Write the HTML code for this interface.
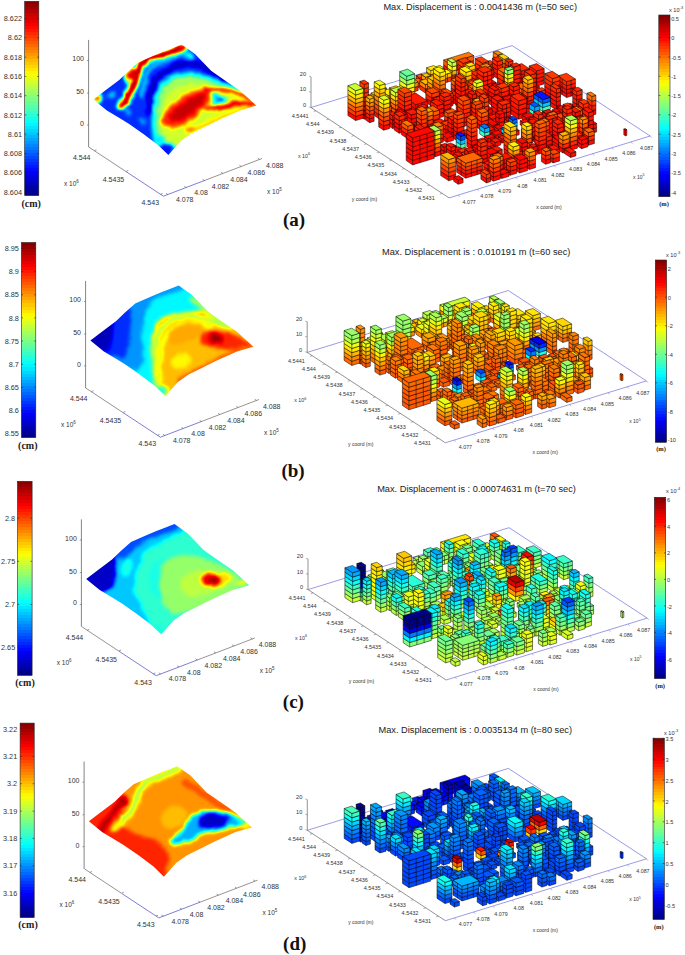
<!DOCTYPE html><html><head><meta charset="utf-8"><style>html,body{margin:0;padding:0;background:#fff;overflow:hidden}svg{display:block}</style></head><body><svg width="685" height="955" viewBox="0 0 685 955" font-family="Liberation Sans, sans-serif"><defs><linearGradient id="jg" x1="0" y1="1" x2="0" y2="0"><stop offset="0.0000" stop-color="#000087"/><stop offset="0.0156" stop-color="#000087"/><stop offset="0.0156" stop-color="#000097"/><stop offset="0.0312" stop-color="#000097"/><stop offset="0.0312" stop-color="#0000a7"/><stop offset="0.0469" stop-color="#0000a7"/><stop offset="0.0469" stop-color="#0000b7"/><stop offset="0.0625" stop-color="#0000b7"/><stop offset="0.0625" stop-color="#0000c7"/><stop offset="0.0781" stop-color="#0000c7"/><stop offset="0.0781" stop-color="#0000d7"/><stop offset="0.0938" stop-color="#0000d7"/><stop offset="0.0938" stop-color="#0000e7"/><stop offset="0.1094" stop-color="#0000e7"/><stop offset="0.1094" stop-color="#0000f7"/><stop offset="0.1250" stop-color="#0000f7"/><stop offset="0.1250" stop-color="#0008ff"/><stop offset="0.1406" stop-color="#0008ff"/><stop offset="0.1406" stop-color="#0018ff"/><stop offset="0.1562" stop-color="#0018ff"/><stop offset="0.1562" stop-color="#0028ff"/><stop offset="0.1719" stop-color="#0028ff"/><stop offset="0.1719" stop-color="#0038ff"/><stop offset="0.1875" stop-color="#0038ff"/><stop offset="0.1875" stop-color="#0048ff"/><stop offset="0.2031" stop-color="#0048ff"/><stop offset="0.2031" stop-color="#0058ff"/><stop offset="0.2188" stop-color="#0058ff"/><stop offset="0.2188" stop-color="#0068ff"/><stop offset="0.2344" stop-color="#0068ff"/><stop offset="0.2344" stop-color="#0078ff"/><stop offset="0.2500" stop-color="#0078ff"/><stop offset="0.2500" stop-color="#0087ff"/><stop offset="0.2656" stop-color="#0087ff"/><stop offset="0.2656" stop-color="#0097ff"/><stop offset="0.2812" stop-color="#0097ff"/><stop offset="0.2812" stop-color="#00a7ff"/><stop offset="0.2969" stop-color="#00a7ff"/><stop offset="0.2969" stop-color="#00b7ff"/><stop offset="0.3125" stop-color="#00b7ff"/><stop offset="0.3125" stop-color="#00c7ff"/><stop offset="0.3281" stop-color="#00c7ff"/><stop offset="0.3281" stop-color="#00d7ff"/><stop offset="0.3438" stop-color="#00d7ff"/><stop offset="0.3438" stop-color="#00e7ff"/><stop offset="0.3594" stop-color="#00e7ff"/><stop offset="0.3594" stop-color="#00f7ff"/><stop offset="0.3750" stop-color="#00f7ff"/><stop offset="0.3750" stop-color="#08fff7"/><stop offset="0.3906" stop-color="#08fff7"/><stop offset="0.3906" stop-color="#18ffe7"/><stop offset="0.4062" stop-color="#18ffe7"/><stop offset="0.4062" stop-color="#28ffd7"/><stop offset="0.4219" stop-color="#28ffd7"/><stop offset="0.4219" stop-color="#38ffc7"/><stop offset="0.4375" stop-color="#38ffc7"/><stop offset="0.4375" stop-color="#48ffb7"/><stop offset="0.4531" stop-color="#48ffb7"/><stop offset="0.4531" stop-color="#58ffa7"/><stop offset="0.4688" stop-color="#58ffa7"/><stop offset="0.4688" stop-color="#68ff97"/><stop offset="0.4844" stop-color="#68ff97"/><stop offset="0.4844" stop-color="#78ff87"/><stop offset="0.5000" stop-color="#78ff87"/><stop offset="0.5000" stop-color="#87ff78"/><stop offset="0.5156" stop-color="#87ff78"/><stop offset="0.5156" stop-color="#97ff68"/><stop offset="0.5312" stop-color="#97ff68"/><stop offset="0.5312" stop-color="#a7ff58"/><stop offset="0.5469" stop-color="#a7ff58"/><stop offset="0.5469" stop-color="#b7ff48"/><stop offset="0.5625" stop-color="#b7ff48"/><stop offset="0.5625" stop-color="#c7ff38"/><stop offset="0.5781" stop-color="#c7ff38"/><stop offset="0.5781" stop-color="#d7ff28"/><stop offset="0.5938" stop-color="#d7ff28"/><stop offset="0.5938" stop-color="#e7ff18"/><stop offset="0.6094" stop-color="#e7ff18"/><stop offset="0.6094" stop-color="#f7ff08"/><stop offset="0.6250" stop-color="#f7ff08"/><stop offset="0.6250" stop-color="#fff700"/><stop offset="0.6406" stop-color="#fff700"/><stop offset="0.6406" stop-color="#ffe700"/><stop offset="0.6562" stop-color="#ffe700"/><stop offset="0.6562" stop-color="#ffd700"/><stop offset="0.6719" stop-color="#ffd700"/><stop offset="0.6719" stop-color="#ffc700"/><stop offset="0.6875" stop-color="#ffc700"/><stop offset="0.6875" stop-color="#ffb700"/><stop offset="0.7031" stop-color="#ffb700"/><stop offset="0.7031" stop-color="#ffa700"/><stop offset="0.7188" stop-color="#ffa700"/><stop offset="0.7188" stop-color="#ff9700"/><stop offset="0.7344" stop-color="#ff9700"/><stop offset="0.7344" stop-color="#ff8700"/><stop offset="0.7500" stop-color="#ff8700"/><stop offset="0.7500" stop-color="#ff7800"/><stop offset="0.7656" stop-color="#ff7800"/><stop offset="0.7656" stop-color="#ff6800"/><stop offset="0.7812" stop-color="#ff6800"/><stop offset="0.7812" stop-color="#ff5800"/><stop offset="0.7969" stop-color="#ff5800"/><stop offset="0.7969" stop-color="#ff4800"/><stop offset="0.8125" stop-color="#ff4800"/><stop offset="0.8125" stop-color="#ff3800"/><stop offset="0.8281" stop-color="#ff3800"/><stop offset="0.8281" stop-color="#ff2800"/><stop offset="0.8438" stop-color="#ff2800"/><stop offset="0.8438" stop-color="#ff1800"/><stop offset="0.8594" stop-color="#ff1800"/><stop offset="0.8594" stop-color="#ff0800"/><stop offset="0.8750" stop-color="#ff0800"/><stop offset="0.8750" stop-color="#f70000"/><stop offset="0.8906" stop-color="#f70000"/><stop offset="0.8906" stop-color="#e70000"/><stop offset="0.9062" stop-color="#e70000"/><stop offset="0.9062" stop-color="#d70000"/><stop offset="0.9219" stop-color="#d70000"/><stop offset="0.9219" stop-color="#c70000"/><stop offset="0.9375" stop-color="#c70000"/><stop offset="0.9375" stop-color="#b70000"/><stop offset="0.9531" stop-color="#b70000"/><stop offset="0.9531" stop-color="#a70000"/><stop offset="0.9688" stop-color="#a70000"/><stop offset="0.9688" stop-color="#970000"/><stop offset="0.9844" stop-color="#970000"/><stop offset="0.9844" stop-color="#870000"/><stop offset="1.0000" stop-color="#870000"/></linearGradient><filter id="jetf" x="-5%" y="-5%" width="110%" height="110%" color-interpolation-filters="sRGB"><feGaussianBlur in="SourceGraphic" stdDeviation="1.6" result="b"/><feTurbulence type="fractalNoise" baseFrequency="0.07" numOctaves="2" seed="3" result="n"/><feDisplacementMap in="b" in2="n" scale="6" xChannelSelector="R" yChannelSelector="G" result="d"/><feGaussianBlur in="d" stdDeviation="0.9"/><feComponentTransfer><feFuncR type="table" tableValues="0 0 0 0 0.5 1 1 1 0.5"/><feFuncG type="table" tableValues="0 0 0.5 1 1 1 0.5 0 0"/><feFuncB type="table" tableValues="0.5 1 1 1 0.5 0 0 0 0"/></feComponentTransfer></filter><g id="city" stroke="#000" stroke-width="0.5" stroke-linejoin="round"><path d="M176.9 -39.9l-4.7 1.4 -6.1 -4v-4.2l6.1 4 4.7 -1.4z" style="fill:var(--k0)"/><path d="M172.2 -42.7l4.7 -1.4 -6.1 -4 -4.7 1.4z" style="fill:var(--k1)"/><path d="M172.2 -38.5v-4.2" fill="none"/><path d="M191.4 -36.9l-4.6 1.4 -4.6 -3v-4.2l4.6 3 4.6 -1.4z" style="fill:var(--k2)"/><path d="M191.4 -41.1l-4.6 1.4 -4.6 -3v-4.2l4.6 3 4.6 -1.4z" style="fill:var(--k3)"/><path d="M191.4 -45.3l-4.6 1.4 -4.6 -3v-4.2l4.6 3 4.6 -1.4z" style="fill:var(--k4)"/><path d="M191.4 -49.5l-4.6 1.4 -4.6 -3v-4.2l4.6 3 4.6 -1.4z" style="fill:var(--k5)"/><path d="M186.9 -52.4l4.6 -1.4 -4.6 -3 -4.6 1.4z" style="fill:var(--k6)"/><path d="M186.9 -35.5v-16.9" fill="none"/><path d="M162.7 -42l-25 7.7 -5 -3.3v-5l5 3.3 25 -7.7z" style="fill:var(--k7)"/><path d="M162.7 -47l-25 7.7 -5 -3.3v-5l5 3.3 25 -7.7z" style="fill:var(--k8)"/><path d="M137.7 -44.3l25 -7.7 -5 -3.3 -25 7.7z" style="fill:var(--k9)"/><path d="M137.7 -34.3v-10M144 -36.2v-10M150.2 -38.1v-10M156.5 -40.1v-10" fill="none"/><path d="M183.8 -35.7l-5.2 1.6 -4.6 -3v-4.2l4.6 3 5.2 -1.6z" style="fill:var(--k10)"/><path d="M183.8 -39.9l-5.2 1.6 -4.6 -3v-4.2l4.6 3 5.2 -1.6z" style="fill:var(--k11)"/><path d="M178.6 -42.5l5.2 -1.6 -4.6 -3 -5.2 1.6z" style="fill:var(--k12)"/><path d="M178.6 -34.1v-8.4" fill="none"/><path d="M197.9 -32.8l-4.8 1.5 -5.8 -3.8v-4.2l5.8 3.8 4.8 -1.5z" style="fill:var(--k13)"/><path d="M197.9 -37l-4.8 1.5 -5.8 -3.8v-4.2l5.8 3.8 4.8 -1.5z" style="fill:var(--k14)"/><path d="M197.9 -41.2l-4.8 1.5 -5.8 -3.8v-4.2l5.8 3.8 4.8 -1.5z" style="fill:var(--k15)"/><path d="M197.9 -45.4l-4.8 1.5 -5.8 -3.8v-4.2l5.8 3.8 4.8 -1.5z" style="fill:var(--k16)"/><path d="M193.1 -48.2l4.8 -1.5 -5.8 -3.8 -4.8 1.5z" style="fill:var(--k17)"/><path d="M193.1 -31.3v-16.9" fill="none"/><path d="M177.6 -33.4l-6.2 1.9 -7.2 -4.7v-4.2l7.2 4.7 6.2 -1.9z" style="fill:var(--k18)"/><path d="M177.6 -37.7l-6.2 1.9 -7.2 -4.7v-4.2l7.2 4.7 6.2 -1.9z" style="fill:var(--k19)"/><path d="M177.6 -41.9l-6.2 1.9 -7.2 -4.7v-4.2l7.2 4.7 6.2 -1.9z" style="fill:var(--k20)"/><path d="M171.4 -44.2l6.2 -1.9 -7.2 -4.7 -6.2 1.9z" style="fill:var(--k21)"/><path d="M171.4 -31.5v-12.7" fill="none"/><path d="M191.6 -30.6l-5.3 1.6 -5 -3.3v-4.2l5 3.3 5.3 -1.6z" style="fill:var(--k22)"/><path d="M191.6 -34.9l-5.3 1.6 -5 -3.3v-4.2l5 3.3 5.3 -1.6z" style="fill:var(--k23)"/><path d="M191.6 -39.1l-5.3 1.6 -5 -3.3v-4.2l5 3.3 5.3 -1.6z" style="fill:var(--k24)"/><path d="M191.6 -43.3l-5.3 1.6 -5 -3.3v-4.2l5 3.3 5.3 -1.6z" style="fill:var(--k25)"/><path d="M186.3 -45.9l5.3 -1.6 -5 -3.3 -5.3 1.6z" style="fill:var(--k26)"/><path d="M186.3 -29v-16.9" fill="none"/><path d="M202.1 -29.9l-4.7 1.4 -3 -2v-4.2l3 2 4.7 -1.4z" style="fill:var(--k27)"/><path d="M202.1 -34.2l-4.7 1.4 -3 -2v-4.2l3 2 4.7 -1.4z" style="fill:var(--k28)"/><path d="M202.1 -38.4l-4.7 1.4 -3 -2v-4.2l3 2 4.7 -1.4z" style="fill:var(--k29)"/><path d="M202.1 -42.6l-4.7 1.4 -3 -2v-4.2l3 2 4.7 -1.4z" style="fill:var(--k30)"/><path d="M197.4 -45.4l4.7 -1.4 -3 -2 -4.7 1.4z" style="fill:var(--k31)"/><path d="M197.4 -28.5v-16.9" fill="none"/><path d="M182.9 -29.6l-5.4 1.7 -4.4 -2.9v-4.2l4.4 2.9 5.4 -1.7z" style="fill:var(--k32)"/><path d="M182.9 -33.8l-5.4 1.7 -4.4 -2.9v-4.2l4.4 2.9 5.4 -1.7z" style="fill:var(--k33)"/><path d="M177.5 -36.4l5.4 -1.7 -4.4 -2.9 -5.4 1.7z" style="fill:var(--k34)"/><path d="M177.5 -27.9v-8.4" fill="none"/><path d="M233.2 -23.6l-7.5 2.3 -7.5 -4.9v-3.8l7.5 4.9 7.5 -2.3z" style="fill:var(--k35)"/><path d="M233.2 -27.5l-7.5 2.3 -7.5 -4.9v-3.8l7.5 4.9 7.5 -2.3z" style="fill:var(--k36)"/><path d="M233.2 -31.3l-7.5 2.3 -7.5 -4.9v-3.8l7.5 4.9 7.5 -2.3z" style="fill:var(--k37)"/><path d="M233.2 -35.1l-7.5 2.3 -7.5 -4.9v-3.8l7.5 4.9 7.5 -2.3z" style="fill:var(--k38)"/><path d="M225.7 -36.7l7.5 -2.3 -7.5 -4.9 -7.5 2.3z" style="fill:var(--k39)"/><path d="M225.7 -21.3v-15.4" fill="none"/><path d="M197.6 -27.1l-6.1 1.9 -3.4 -2.2v-4.2l3.4 2.2 6.1 -1.9z" style="fill:var(--k40)"/><path d="M197.6 -31.3l-6.1 1.9 -3.4 -2.2v-4.2l3.4 2.2 6.1 -1.9z" style="fill:var(--k41)"/><path d="M191.6 -33.6l6.1 -1.9 -3.4 -2.2 -6.1 1.9z" style="fill:var(--k42)"/><path d="M191.6 -25.2v-8.4" fill="none"/><path d="M159.5 -29.5l-7.4 2.3 -5.3 -3.5v-4.2l5.3 3.5 7.4 -2.3z" style="fill:var(--k43)"/><path d="M159.5 -33.7l-7.4 2.3 -5.3 -3.5v-4.2l5.3 3.5 7.4 -2.3z" style="fill:var(--k44)"/><path d="M159.5 -37.9l-7.4 2.3 -5.3 -3.5v-4.2l5.3 3.5 7.4 -2.3z" style="fill:var(--k45)"/><path d="M159.5 -42.1l-7.4 2.3 -5.3 -3.5v-4.2l5.3 3.5 7.4 -2.3z" style="fill:var(--k46)"/><path d="M152.1 -44.1l7.4 -2.3 -5.3 -3.5 -7.4 2.3z" style="fill:var(--k47)"/><path d="M152.1 -27.2v-16.9" fill="none"/><path d="M218.2 -23.6l-7.5 2.3 -7.5 -4.9v-3.8l7.5 4.9 7.5 -2.3z" style="fill:var(--k48)"/><path d="M218.2 -27.5l-7.5 2.3 -7.5 -4.9v-3.8l7.5 4.9 7.5 -2.3z" style="fill:var(--k49)"/><path d="M218.2 -31.3l-7.5 2.3 -7.5 -4.9v-3.8l7.5 4.9 7.5 -2.3z" style="fill:var(--k50)"/><path d="M218.2 -35.1l-7.5 2.3 -7.5 -4.9v-3.8l7.5 4.9 7.5 -2.3z" style="fill:var(--k51)"/><path d="M210.7 -36.7l7.5 -2.3 -7.5 -4.9 -7.5 2.3z" style="fill:var(--k52)"/><path d="M210.7 -21.3v-15.4" fill="none"/><path d="M145.5 -29.3l-4.3 1.3 -4.8 -3.1v-4.2l4.8 3.1 4.3 -1.3z" style="fill:var(--k53)"/><path d="M145.5 -33.5l-4.3 1.3 -4.8 -3.1v-4.2l4.8 3.1 4.3 -1.3z" style="fill:var(--k54)"/><path d="M145.5 -37.7l-4.3 1.3 -4.8 -3.1v-4.2l4.8 3.1 4.3 -1.3z" style="fill:var(--k55)"/><path d="M145.5 -41.9l-4.3 1.3 -4.8 -3.1v-4.2l4.8 3.1 4.3 -1.3z" style="fill:var(--k56)"/><path d="M141.2 -44.8l4.3 -1.3 -4.8 -3.1 -4.3 1.3z" style="fill:var(--k57)"/><path d="M141.2 -27.9v-16.9" fill="none"/><path d="M133.1 -30.9l-7.1 2.2 -4.2 -2.8v-4.2l4.2 2.8 7.1 -2.2z" style="fill:var(--k58)"/><path d="M133.1 -35.1l-7.1 2.2 -4.2 -2.8v-4.2l4.2 2.8 7.1 -2.2z" style="fill:var(--k59)"/><path d="M126 -37.1l7.1 -2.2 -4.2 -2.8 -7.1 2.2z" style="fill:var(--k60)"/><path d="M126 -28.7v-8.4" fill="none"/><path d="M179.9 -24.6l-7 2.1 -4.1 -2.7v-4.2l4.1 2.7 7 -2.1z" style="fill:var(--k61)"/><path d="M179.9 -28.8l-7 2.1 -4.1 -2.7v-4.2l4.1 2.7 7 -2.1z" style="fill:var(--k62)"/><path d="M179.9 -33l-7 2.1 -4.1 -2.7v-4.2l4.1 2.7 7 -2.1z" style="fill:var(--k63)"/><path d="M179.9 -37.3l-7 2.1 -4.1 -2.7v-4.2l4.1 2.7 7 -2.1z" style="fill:var(--k64)"/><path d="M172.9 -39.3l7 -2.1 -4.1 -2.7 -7 2.1z" style="fill:var(--k65)"/><path d="M172.9 -22.4v-16.9" fill="none"/><path d="M164.3 -25.8l-6.3 1.9 -3.9 -2.6v-4.2l3.9 2.6 6.3 -1.9z" style="fill:var(--k66)"/><path d="M164.3 -30l-6.3 1.9 -3.9 -2.6v-4.2l3.9 2.6 6.3 -1.9z" style="fill:var(--k67)"/><path d="M164.3 -34.2l-6.3 1.9 -3.9 -2.6v-4.2l3.9 2.6 6.3 -1.9z" style="fill:var(--k68)"/><path d="M164.3 -38.4l-6.3 1.9 -3.9 -2.6v-4.2l3.9 2.6 6.3 -1.9z" style="fill:var(--k69)"/><path d="M158.1 -40.7l6.3 -1.9 -3.9 -2.6 -6.3 1.9z" style="fill:var(--k70)"/><path d="M158.1 -23.8v-16.9" fill="none"/><path d="M140.5 -26.6l-8.2 2.5 -4.8 -3.1v-4.2l4.8 3.1 8.2 -2.5z" style="fill:var(--k71)"/><path d="M140.5 -30.8l-8.2 2.5 -4.8 -3.1v-4.2l4.8 3.1 8.2 -2.5z" style="fill:var(--k72)"/><path d="M132.3 -32.5l8.2 -2.5 -4.8 -3.1 -8.2 2.5z" style="fill:var(--k73)"/><path d="M132.3 -24.1v-8.4M136.4 -25.3v-8.4" fill="none"/><path d="M126.9 -26.5l-7.1 2.2 -4.2 -2.8v-4.2l4.2 2.8 7.1 -2.2z" style="fill:var(--k74)"/><path d="M126.9 -30.7l-7.1 2.2 -4.2 -2.8v-4.2l4.2 2.8 7.1 -2.2z" style="fill:var(--k75)"/><path d="M126.9 -35l-7.1 2.2 -4.2 -2.8v-4.2l4.2 2.8 7.1 -2.2z" style="fill:var(--k76)"/><path d="M119.8 -37l7.1 -2.2 -4.2 -2.8 -7.1 2.2z" style="fill:var(--k77)"/><path d="M119.8 -24.3v-12.7" fill="none"/><path d="M198.5 -19.7l-6.2 1.9 -5.8 -3.8v-4.2l5.8 3.8 6.2 -1.9z" style="fill:var(--k78)"/><path d="M198.5 -24l-6.2 1.9 -5.8 -3.8v-4.2l5.8 3.8 6.2 -1.9z" style="fill:var(--k79)"/><path d="M198.5 -28.2l-6.2 1.9 -5.8 -3.8v-4.2l5.8 3.8 6.2 -1.9z" style="fill:var(--k80)"/><path d="M198.5 -32.4l-6.2 1.9 -5.8 -3.8v-4.2l5.8 3.8 6.2 -1.9z" style="fill:var(--k81)"/><path d="M192.3 -34.7l6.2 -1.9 -5.8 -3.8 -6.2 1.9z" style="fill:var(--k82)"/><path d="M192.3 -17.8v-16.9" fill="none"/><path d="M114.1 -27.1l-5.5 1.7 -3.5 -2.3v-4.2l3.5 2.3 5.5 -1.7z" style="fill:var(--k83)"/><path d="M108.6 -29.7l5.5 -1.7 -3.5 -2.3 -5.5 1.7z" style="fill:var(--k84)"/><path d="M108.6 -25.4v-4.2" fill="none"/><path d="M185.1 -20.9l-6.4 2 -4.5 -2.9v-4.2l4.5 2.9 6.4 -2z" style="fill:var(--k85)"/><path d="M178.7 -23.1l6.4 -2 -4.5 -2.9 -6.4 2z" style="fill:var(--k86)"/><path d="M178.7 -18.9v-4.2" fill="none"/><path d="M171.9 -21.1l-6.9 2.1 -5.5 -3.6v-4.2l5.5 3.6 6.9 -2.1z" style="fill:var(--k87)"/><path d="M171.9 -25.3l-6.9 2.1 -5.5 -3.6v-4.2l5.5 3.6 6.9 -2.1z" style="fill:var(--k88)"/><path d="M171.9 -29.5l-6.9 2.1 -5.5 -3.6v-4.2l5.5 3.6 6.9 -2.1z" style="fill:var(--k89)"/><path d="M165 -31.6l6.9 -2.1 -5.5 -3.6 -6.9 2.1z" style="fill:var(--k90)"/><path d="M165 -19v-12.7" fill="none"/><path d="M264.4 -12.6l-8.8 2.7 -8.9 -5.8v-4l8.9 5.8 8.8 -2.7z" style="fill:var(--k91)"/><path d="M264.4 -16.6l-8.8 2.7 -8.9 -5.8v-4l8.9 5.8 8.8 -2.7z" style="fill:var(--k92)"/><path d="M264.4 -20.5l-8.8 2.7 -8.9 -5.8v-4l8.9 5.8 8.8 -2.7z" style="fill:var(--k93)"/><path d="M264.4 -24.5l-8.8 2.7 -8.9 -5.8v-4l8.9 5.8 8.8 -2.7z" style="fill:var(--k94)"/><path d="M255.6 -25.8l8.8 -2.7 -8.9 -5.8 -8.8 2.7z" style="fill:var(--k95)"/><path d="M255.6 -9.9v-15.9M260 -11.3v-15.9M251.1 -12.8v-15.9" fill="none"/><path d="M224 -16.2l-5.9 1.8 -5.9 -3.9v-4.2l5.9 3.9 5.9 -1.8z" style="fill:var(--k96)"/><path d="M224 -20.4l-5.9 1.8 -5.9 -3.9v-4.2l5.9 3.9 5.9 -1.8z" style="fill:var(--k97)"/><path d="M224 -24.7l-5.9 1.8 -5.9 -3.9v-4.2l5.9 3.9 5.9 -1.8z" style="fill:var(--k98)"/><path d="M218.1 -27.1l5.9 -1.8 -5.9 -3.9 -5.9 1.8z" style="fill:var(--k99)"/><path d="M218.1 -14.4v-12.7" fill="none"/><path d="M160.8 -20l-5.8 1.8 -6.4 -4.2v-4.2l6.4 4.2 5.8 -1.8z" style="fill:var(--k100)"/><path d="M160.8 -24.2l-5.8 1.8 -6.4 -4.2v-4.2l6.4 4.2 5.8 -1.8z" style="fill:var(--k101)"/><path d="M160.8 -28.4l-5.8 1.8 -6.4 -4.2v-4.2l6.4 4.2 5.8 -1.8z" style="fill:var(--k102)"/><path d="M160.8 -32.6l-5.8 1.8 -6.4 -4.2v-4.2l6.4 4.2 5.8 -1.8z" style="fill:var(--k103)"/><path d="M155 -35.1l5.8 -1.8 -6.4 -4.2 -5.8 1.8z" style="fill:var(--k104)"/><path d="M155 -18.2v-16.9" fill="none"/><path d="M119.4 -23.4l-4.9 1.5 -4 -2.6v-4.2l4 2.6 4.9 -1.5z" style="fill:var(--k105)"/><path d="M119.4 -27.6l-4.9 1.5 -4 -2.6v-4.2l4 2.6 4.9 -1.5z" style="fill:var(--k106)"/><path d="M114.6 -30.3l4.9 -1.5 -4 -2.6 -4.9 1.5z" style="fill:var(--k107)"/><path d="M114.6 -21.9v-8.4" fill="none"/><path d="M203.7 -15.8l-5 1.5 -4.2 -2.7v-4.2l4.2 2.7 5 -1.5z" style="fill:var(--k108)"/><path d="M203.7 -20l-5 1.5 -4.2 -2.7v-4.2l4.2 2.7 5 -1.5z" style="fill:var(--k109)"/><path d="M198.7 -22.7l5 -1.5 -4.2 -2.7 -5 1.5z" style="fill:var(--k110)"/><path d="M198.7 -14.3v-8.4" fill="none"/><path d="M192.4 -15.6l-5.3 1.6 -6.9 -4.5v-4.2l6.9 4.5 5.3 -1.6z" style="fill:var(--k111)"/><path d="M187.1 -18.2l5.3 -1.6 -6.9 -4.5 -5.3 1.6z" style="fill:var(--k112)"/><path d="M187.1 -14v-4.2" fill="none"/><path d="M216.6 -13.9l-4.5 1.4 -4.5 -2.9v-4.2l4.5 2.9 4.5 -1.4z" style="fill:var(--k113)"/><path d="M212 -16.8l4.5 -1.4 -4.5 -2.9 -4.5 1.4z" style="fill:var(--k114)"/><path d="M212 -12.5v-4.2" fill="none"/><path d="M228.4 -12.5l-4.1 1.2 -4 -2.6v-4.2l4 2.6 4.1 -1.2z" style="fill:var(--k115)"/><path d="M228.4 -16.7l-4.1 1.2 -4 -2.6v-4.2l4 2.6 4.1 -1.2z" style="fill:var(--k116)"/><path d="M224.3 -19.7l4.1 -1.2 -4 -2.6 -4.1 1.2z" style="fill:var(--k117)"/><path d="M224.3 -11.2v-8.4" fill="none"/><path d="M249 -10.1l-7.6 2.3 -7.7 -5v-4.2l7.7 5 7.6 -2.3z" style="fill:var(--k118)"/><path d="M249 -14.4l-7.6 2.3 -7.7 -5v-4.2l7.7 5 7.6 -2.3z" style="fill:var(--k119)"/><path d="M249 -18.6l-7.6 2.3 -7.7 -5v-4.2l7.7 5 7.6 -2.3z" style="fill:var(--k120)"/><path d="M249 -22.8l-7.6 2.3 -7.7 -5v-4.2l7.7 5 7.6 -2.3z" style="fill:var(--k121)"/><path d="M249 -27l-7.6 2.3 -7.7 -5v-4.2l7.7 5 7.6 -2.3z" style="fill:var(--k122)"/><path d="M241.4 -28.9l7.6 -2.3 -7.7 -5 -7.6 2.3z" style="fill:var(--k123)"/><path d="M241.4 -7.8v-21.1" fill="none"/><path d="M180.8 -16l-8.4 2.6 -6.3 -4.2v-4.2l6.3 4.2 8.4 -2.6z" style="fill:var(--k124)"/><path d="M180.8 -20.2l-8.4 2.6 -6.3 -4.2v-4.2l6.3 4.2 8.4 -2.6z" style="fill:var(--k125)"/><path d="M180.8 -24.4l-8.4 2.6 -6.3 -4.2v-4.2l6.3 4.2 8.4 -2.6z" style="fill:var(--k126)"/><path d="M180.8 -28.6l-8.4 2.6 -6.3 -4.2v-4.2l6.3 4.2 8.4 -2.6z" style="fill:var(--k127)"/><path d="M180.8 -32.9l-8.4 2.6 -6.3 -4.2v-4.2l6.3 4.2 8.4 -2.6z" style="fill:var(--k128)"/><path d="M172.4 -34.5l8.4 -2.6 -6.3 -4.2 -8.4 2.6z" style="fill:var(--k129)"/><path d="M172.4 -13.4v-21.1M176.6 -14.7v-21.1" fill="none"/><path d="M112.6 -21.6l-6.6 2 -5.4 -3.5v-4.2l5.4 3.5 6.6 -2z" style="fill:var(--k130)"/><path d="M106 -23.8l6.6 -2 -5.4 -3.5 -6.6 2z" style="fill:var(--k131)"/><path d="M106 -19.6v-4.2" fill="none"/><path d="M166.5 -15.9l-5.2 1.6 -4.5 -3v-4.2l4.5 3 5.2 -1.6z" style="fill:var(--k132)"/><path d="M166.5 -20.2l-5.2 1.6 -4.5 -3v-4.2l4.5 3 5.2 -1.6z" style="fill:var(--k133)"/><path d="M161.3 -22.8l5.2 -1.6 -4.5 -3 -5.2 1.6z" style="fill:var(--k134)"/><path d="M161.3 -14.3v-8.4" fill="none"/><path d="M209.2 -12.8l-6.2 1.9 -3.6 -2.4v-4.2l3.6 2.4 6.2 -1.9z" style="fill:var(--k135)"/><path d="M209.2 -17l-6.2 1.9 -3.6 -2.4v-4.2l3.6 2.4 6.2 -1.9z" style="fill:var(--k136)"/><path d="M209.2 -21.2l-6.2 1.9 -3.6 -2.4v-4.2l3.6 2.4 6.2 -1.9z" style="fill:var(--k137)"/><path d="M209.2 -25.5l-6.2 1.9 -3.6 -2.4v-4.2l3.6 2.4 6.2 -1.9z" style="fill:var(--k138)"/><path d="M209.2 -29.7l-6.2 1.9 -3.6 -2.4v-4.2l3.6 2.4 6.2 -1.9z" style="fill:var(--k139)"/><path d="M209.2 -33.9l-6.2 1.9 -3.6 -2.4v-4.2l3.6 2.4 6.2 -1.9z" style="fill:var(--k140)"/><path d="M209.2 -38.1l-6.2 1.9 -3.6 -2.4v-4.2l3.6 2.4 6.2 -1.9z" style="fill:var(--k141)"/><path d="M202.9 -40.4l6.2 -1.9 -3.6 -2.4 -6.2 1.9z" style="fill:var(--k142)"/><path d="M202.9 -10.9v-29.5" fill="none"/><path d="M155 -16.1l-6.2 1.9 -5.9 -3.9v-4.2l5.9 3.9 6.2 -1.9z" style="fill:var(--k143)"/><path d="M155 -20.4l-6.2 1.9 -5.9 -3.9v-4.2l5.9 3.9 6.2 -1.9z" style="fill:var(--k144)"/><path d="M155 -24.6l-6.2 1.9 -5.9 -3.9v-4.2l5.9 3.9 6.2 -1.9z" style="fill:var(--k145)"/><path d="M148.8 -26.9l6.2 -1.9 -5.9 -3.9 -6.2 1.9z" style="fill:var(--k146)"/><path d="M148.8 -14.2v-12.7" fill="none"/><path d="M198.6 -12.2l-6.6 2 -4.6 -3v-4.2l4.6 3 6.6 -2z" style="fill:var(--k147)"/><path d="M198.6 -16.4l-6.6 2 -4.6 -3v-4.2l4.6 3 6.6 -2z" style="fill:var(--k148)"/><path d="M192 -18.6l6.6 -2 -4.6 -3 -6.6 2z" style="fill:var(--k149)"/><path d="M192 -10.2v-8.4" fill="none"/><path d="M234.3 -9.3l-5.5 1.7 -3.3 -2.2v-4.2l3.3 2.2 5.5 -1.7z" style="fill:var(--k150)"/><path d="M234.3 -13.5l-5.5 1.7 -3.3 -2.2v-4.2l3.3 2.2 5.5 -1.7z" style="fill:var(--k151)"/><path d="M228.8 -16l5.5 -1.7 -3.3 -2.2 -5.5 1.7z" style="fill:var(--k152)"/><path d="M228.8 -7.6v-8.4" fill="none"/><path d="M225.2 -8.8l-5.8 1.8 -6 -3.9v-4.2l6 3.9 5.8 -1.8z" style="fill:var(--k153)"/><path d="M225.2 -13.1l-5.8 1.8 -6 -3.9v-4.2l6 3.9 5.8 -1.8z" style="fill:var(--k154)"/><path d="M225.2 -17.3l-5.8 1.8 -6 -3.9v-4.2l6 3.9 5.8 -1.8z" style="fill:var(--k155)"/><path d="M225.2 -21.5l-5.8 1.8 -6 -3.9v-4.2l6 3.9 5.8 -1.8z" style="fill:var(--k156)"/><path d="M225.2 -25.7l-5.8 1.8 -6 -3.9v-4.2l6 3.9 5.8 -1.8z" style="fill:var(--k157)"/><path d="M225.2 -29.9l-5.8 1.8 -6 -3.9v-4.2l6 3.9 5.8 -1.8z" style="fill:var(--k158)"/><path d="M219.5 -32.4l5.8 -1.8 -6 -3.9 -5.8 1.8z" style="fill:var(--k159)"/><path d="M219.5 -7.1v-25.3" fill="none"/><path d="M186.4 -12.2l-8.2 2.5 -3.7 -2.4v-4.2l3.7 2.4 8.2 -2.5z" style="fill:var(--k160)"/><path d="M178.2 -13.9l8.2 -2.5 -3.7 -2.4 -8.2 2.5z" style="fill:var(--k161)"/><path d="M178.2 -9.7v-4.2M182.3 -11v-4.2" fill="none"/><path d="M120.3 -16.2l-5.8 1.8 -5.8 -3.8v-4.2l5.8 3.8 5.8 -1.8z" style="fill:var(--k162)"/><path d="M120.3 -20.4l-5.8 1.8 -5.8 -3.8v-4.2l5.8 3.8 5.8 -1.8z" style="fill:var(--k163)"/><path d="M114.5 -22.9l5.8 -1.8 -5.8 -3.8 -5.8 1.8z" style="fill:var(--k164)"/><path d="M114.5 -14.4v-8.4" fill="none"/><path d="M217.1 -7.6l-6.2 1.9 -6.6 -4.3v-4.2l6.6 4.3 6.2 -1.9z" style="fill:var(--k165)"/><path d="M217.1 -11.8l-6.2 1.9 -6.6 -4.3v-4.2l6.6 4.3 6.2 -1.9z" style="fill:var(--k166)"/><path d="M217.1 -16l-6.2 1.9 -6.6 -4.3v-4.2l6.6 4.3 6.2 -1.9z" style="fill:var(--k167)"/><path d="M210.9 -18.4l6.2 -1.9 -6.6 -4.3 -6.2 1.9z" style="fill:var(--k168)"/><path d="M210.9 -5.7v-12.7" fill="none"/><path d="M107.2 -17l-7.1 2.2 -5.7 -3.7v-4.2l5.7 3.7 7.1 -2.2z" style="fill:var(--k169)"/><path d="M107.2 -21.3l-7.1 2.2 -5.7 -3.7v-4.2l5.7 3.7 7.1 -2.2z" style="fill:var(--k170)"/><path d="M100.1 -23.3l7.1 -2.2 -5.7 -3.7 -7.1 2.2z" style="fill:var(--k171)"/><path d="M100.1 -14.9v-8.4" fill="none"/><path d="M202.6 -9.2l-5.9 1.8 -3.2 -2.1v-4.2l3.2 2.1 5.9 -1.8z" style="fill:var(--k172)"/><path d="M202.6 -13.4l-5.9 1.8 -3.2 -2.1v-4.2l3.2 2.1 5.9 -1.8z" style="fill:var(--k173)"/><path d="M202.6 -17.6l-5.9 1.8 -3.2 -2.1v-4.2l3.2 2.1 5.9 -1.8z" style="fill:var(--k174)"/><path d="M202.6 -21.8l-5.9 1.8 -3.2 -2.1v-4.2l3.2 2.1 5.9 -1.8z" style="fill:var(--k175)"/><path d="M202.6 -26.1l-5.9 1.8 -3.2 -2.1v-4.2l3.2 2.1 5.9 -1.8z" style="fill:var(--k176)"/><path d="M202.6 -30.3l-5.9 1.8 -3.2 -2.1v-4.2l3.2 2.1 5.9 -1.8z" style="fill:var(--k177)"/><path d="M202.6 -34.5l-5.9 1.8 -3.2 -2.1v-4.2l3.2 2.1 5.9 -1.8z" style="fill:var(--k178)"/><path d="M196.8 -36.9l5.9 -1.8 -3.2 -2.1 -5.9 1.8z" style="fill:var(--k179)"/><path d="M196.8 -7.4v-29.5" fill="none"/><path d="M162.6 -12l-8 2.5 -5 -3.3v-4.2l5 3.3 8 -2.5z" style="fill:var(--k180)"/><path d="M154.6 -13.7l8 -2.5 -5 -3.3 -8 2.5z" style="fill:var(--k181)"/><path d="M154.6 -9.5v-4.2M158.6 -10.8v-4.2" fill="none"/><path d="M242.9 -3.5l-5.3 1.6 -7.2 -4.7v-4.2l7.2 4.7 5.3 -1.6z" style="fill:var(--k182)"/><path d="M237.6 -6.1l5.3 -1.6 -7.2 -4.7 -5.3 1.6z" style="fill:var(--k183)"/><path d="M237.6 -1.9v-4.2" fill="none"/><path d="M150.5 -10.8l-6.6 2 -3.8 -2.5v-4.2l3.8 2.5 6.6 -2z" style="fill:var(--k184)"/><path d="M150.5 -15l-6.6 2 -3.8 -2.5v-4.2l3.8 2.5 6.6 -2z" style="fill:var(--k185)"/><path d="M150.5 -19.3l-6.6 2 -3.8 -2.5v-4.2l3.8 2.5 6.6 -2z" style="fill:var(--k186)"/><path d="M150.5 -23.5l-6.6 2 -3.8 -2.5v-4.2l3.8 2.5 6.6 -2z" style="fill:var(--k187)"/><path d="M143.9 -25.7l6.6 -2 -3.8 -2.5 -6.6 2z" style="fill:var(--k188)"/><path d="M143.9 -8.8v-16.9" fill="none"/><path d="M208.4 -5.5l-6.1 1.9 -4.1 -2.7v-4.2l4.1 2.7 6.1 -1.9z" style="fill:var(--k189)"/><path d="M208.4 -9.7l-6.1 1.9 -4.1 -2.7v-4.2l4.1 2.7 6.1 -1.9z" style="fill:var(--k190)"/><path d="M208.4 -14l-6.1 1.9 -4.1 -2.7v-4.2l4.1 2.7 6.1 -1.9z" style="fill:var(--k191)"/><path d="M208.4 -18.2l-6.1 1.9 -4.1 -2.7v-4.2l4.1 2.7 6.1 -1.9z" style="fill:var(--k192)"/><path d="M202.3 -20.5l6.1 -1.9 -4.1 -2.7 -6.1 1.9z" style="fill:var(--k193)"/><path d="M202.3 -3.6v-16.9" fill="none"/><path d="M222.6 -3.8l-5.8 1.8 -4.8 -3.2v-4.2l4.8 3.2 5.8 -1.8z" style="fill:var(--k194)"/><path d="M222.6 -8l-5.8 1.8 -4.8 -3.2v-4.2l4.8 3.2 5.8 -1.8z" style="fill:var(--k195)"/><path d="M222.6 -12.2l-5.8 1.8 -4.8 -3.2v-4.2l4.8 3.2 5.8 -1.8z" style="fill:var(--k196)"/><path d="M222.6 -16.5l-5.8 1.8 -4.8 -3.2v-4.2l4.8 3.2 5.8 -1.8z" style="fill:var(--k197)"/><path d="M222.6 -20.7l-5.8 1.8 -4.8 -3.2v-4.2l4.8 3.2 5.8 -1.8z" style="fill:var(--k198)"/><path d="M222.6 -24.9l-5.8 1.8 -4.8 -3.2v-4.2l4.8 3.2 5.8 -1.8z" style="fill:var(--k199)"/><path d="M216.8 -27.3l5.8 -1.8 -4.8 -3.2 -5.8 1.8z" style="fill:var(--k200)"/><path d="M216.8 -2v-25.3" fill="none"/><path d="M126.9 -11.7l-5.4 1.7 -4.9 -3.2v-4.2l4.9 3.2 5.4 -1.7z" style="fill:var(--k201)"/><path d="M126.9 -15.9l-5.4 1.7 -4.9 -3.2v-4.2l4.9 3.2 5.4 -1.7z" style="fill:var(--k202)"/><path d="M126.9 -20.2l-5.4 1.7 -4.9 -3.2v-4.2l4.9 3.2 5.4 -1.7z" style="fill:var(--k203)"/><path d="M126.9 -24.4l-5.4 1.7 -4.9 -3.2v-4.2l4.9 3.2 5.4 -1.7z" style="fill:var(--k204)"/><path d="M121.4 -26.9l5.4 -1.7 -4.9 -3.2 -5.4 1.7z" style="fill:var(--k205)"/><path d="M121.4 -10.1v-16.9" fill="none"/><path d="M166.6 -8.3l-5.8 1.8 -3.5 -2.3v-4.2l3.5 2.3 5.8 -1.8z" style="fill:var(--k206)"/><path d="M166.6 -12.6l-5.8 1.8 -3.5 -2.3v-4.2l3.5 2.3 5.8 -1.8z" style="fill:var(--k207)"/><path d="M166.6 -16.8l-5.8 1.8 -3.5 -2.3v-4.2l3.5 2.3 5.8 -1.8z" style="fill:var(--k208)"/><path d="M160.8 -19.2l5.8 -1.8 -3.5 -2.3 -5.8 1.8z" style="fill:var(--k209)"/><path d="M160.8 -6.6v-12.7" fill="none"/><path d="M181 -6.2l-4.7 1.4 -5.6 -3.6v-4.2l5.6 3.6 4.7 -1.4z" style="fill:var(--k210)"/><path d="M181 -10.4l-4.7 1.4 -5.6 -3.6v-4.2l5.6 3.6 4.7 -1.4z" style="fill:var(--k211)"/><path d="M181 -14.7l-4.7 1.4 -5.6 -3.6v-4.2l5.6 3.6 4.7 -1.4z" style="fill:var(--k212)"/><path d="M176.3 -17.4l4.7 -1.4 -5.6 -3.6 -4.7 1.4z" style="fill:var(--k213)"/><path d="M176.3 -4.8v-12.7" fill="none"/><path d="M198 -4.5l-7.8 2.4 -5.1 -3.3v-4.2l5.1 3.3 7.8 -2.4z" style="fill:var(--k214)"/><path d="M198 -8.7l-7.8 2.4 -5.1 -3.3v-4.2l5.1 3.3 7.8 -2.4z" style="fill:var(--k215)"/><path d="M198 -12.9l-7.8 2.4 -5.1 -3.3v-4.2l5.1 3.3 7.8 -2.4z" style="fill:var(--k216)"/><path d="M198 -17.1l-7.8 2.4 -5.1 -3.3v-4.2l5.1 3.3 7.8 -2.4z" style="fill:var(--k217)"/><path d="M190.2 -19l7.8 -2.4 -5.1 -3.3 -7.8 2.4z" style="fill:var(--k218)"/><path d="M190.2 -2.1v-16.9" fill="none"/><path d="M249.5 1.3l-4.1 1.3 -6 -3.9v-4.2l6 3.9 4.1 -1.3z" style="fill:var(--k219)"/><path d="M249.5 -2.9l-4.1 1.3 -6 -3.9v-4.2l6 3.9 4.1 -1.3z" style="fill:var(--k220)"/><path d="M249.5 -7.1l-4.1 1.3 -6 -3.9v-4.2l6 3.9 4.1 -1.3z" style="fill:var(--k221)"/><path d="M249.5 -11.3l-4.1 1.3 -6 -3.9v-4.2l6 3.9 4.1 -1.3z" style="fill:var(--k222)"/><path d="M249.5 -15.5l-4.1 1.3 -6 -3.9v-4.2l6 3.9 4.1 -1.3z" style="fill:var(--k223)"/><path d="M245.4 -18.5l4.1 -1.3 -6 -3.9 -4.1 1.3z" style="fill:var(--k224)"/><path d="M245.4 2.6v-21.1" fill="none"/><path d="M156.7 -6l-5.1 1.6 -5.3 -3.5v-4.2l5.3 3.5 5.1 -1.6z" style="fill:var(--k225)"/><path d="M156.7 -10.3l-5.1 1.6 -5.3 -3.5v-4.2l5.3 3.5 5.1 -1.6z" style="fill:var(--k226)"/><path d="M156.7 -14.5l-5.1 1.6 -5.3 -3.5v-4.2l5.3 3.5 5.1 -1.6z" style="fill:var(--k227)"/><path d="M156.7 -18.7l-5.1 1.6 -5.3 -3.5v-4.2l5.3 3.5 5.1 -1.6z" style="fill:var(--k228)"/><path d="M151.6 -21.4l5.1 -1.6 -5.3 -3.5 -5.1 1.6z" style="fill:var(--k229)"/><path d="M151.6 -4.5v-16.9" fill="none"/><path d="M239.4 1.6l-7.7 2.4 -9 -5.9v-3.9l9 5.9 7.7 -2.4z" style="fill:var(--k230)"/><path d="M239.4 -2.3l-7.7 2.4 -9 -5.9v-3.9l9 5.9 7.7 -2.4z" style="fill:var(--k231)"/><path d="M239.4 -6.3l-7.7 2.4 -9 -5.9v-3.9l9 5.9 7.7 -2.4z" style="fill:var(--k232)"/><path d="M231.7 -7.8l7.7 -2.4 -9 -5.9 -7.7 2.4z" style="fill:var(--k233)"/><path d="M231.7 4v-11.8M227.2 1.1v-11.8" fill="none"/><path d="M172.3 -5l-6.6 2 -3.7 -2.4v-4.2l3.7 2.4 6.6 -2z" style="fill:var(--k234)"/><path d="M172.3 -9.2l-6.6 2 -3.7 -2.4v-4.2l3.7 2.4 6.6 -2z" style="fill:var(--k235)"/><path d="M172.3 -13.4l-6.6 2 -3.7 -2.4v-4.2l3.7 2.4 6.6 -2z" style="fill:var(--k236)"/><path d="M172.3 -17.6l-6.6 2 -3.7 -2.4v-4.2l3.7 2.4 6.6 -2z" style="fill:var(--k237)"/><path d="M172.3 -21.9l-6.6 2 -3.7 -2.4v-4.2l3.7 2.4 6.6 -2z" style="fill:var(--k238)"/><path d="M165.7 -24l6.6 -2 -3.7 -2.4 -6.6 2z" style="fill:var(--k239)"/><path d="M165.7 -2.9v-21.1" fill="none"/><path d="M216.2 -0.6l-6.5 2 -5.8 -3.8v-4.2l5.8 3.8 6.5 -2z" style="fill:var(--k240)"/><path d="M216.2 -4.9l-6.5 2 -5.8 -3.8v-4.2l5.8 3.8 6.5 -2z" style="fill:var(--k241)"/><path d="M209.7 -7.1l6.5 -2 -5.8 -3.8 -6.5 2z" style="fill:var(--k242)"/><path d="M209.7 1.4v-8.4" fill="none"/><path d="M265.3 3.6l-5.9 1.8 -5.6 -3.6v-4.2l5.6 3.6 5.9 -1.8z" style="fill:var(--k243)"/><path d="M259.4 1.2l5.9 -1.8 -5.6 -3.6 -5.9 1.8z" style="fill:var(--k244)"/><path d="M259.4 5.4v-4.2" fill="none"/><path d="M134.5 -6.8l-5.6 1.7 -6.5 -4.3v-4.2l6.5 4.3 5.6 -1.7z" style="fill:var(--k245)"/><path d="M134.5 -11l-5.6 1.7 -6.5 -4.3v-4.2l6.5 4.3 5.6 -1.7z" style="fill:var(--k246)"/><path d="M134.5 -15.3l-5.6 1.7 -6.5 -4.3v-4.2l6.5 4.3 5.6 -1.7z" style="fill:var(--k247)"/><path d="M134.5 -19.5l-5.6 1.7 -6.5 -4.3v-4.2l6.5 4.3 5.6 -1.7z" style="fill:var(--k248)"/><path d="M134.5 -23.7l-5.6 1.7 -6.5 -4.3v-4.2l6.5 4.3 5.6 -1.7z" style="fill:var(--k249)"/><path d="M134.5 -27.9l-5.6 1.7 -6.5 -4.3v-4.2l6.5 4.3 5.6 -1.7z" style="fill:var(--k250)"/><path d="M134.5 -32.1l-5.6 1.7 -6.5 -4.3v-4.2l6.5 4.3 5.6 -1.7z" style="fill:var(--k251)"/><path d="M128.9 -34.6l5.6 -1.7 -6.5 -4.3 -5.6 1.7z" style="fill:var(--k252)"/><path d="M128.9 -5.1v-29.5" fill="none"/><path d="M188.1 -1.4l-4.3 1.3 -6 -3.9v-4.2l6 3.9 4.3 -1.3z" style="fill:var(--k253)"/><path d="M188.1 -5.6l-4.3 1.3 -6 -3.9v-4.2l6 3.9 4.3 -1.3z" style="fill:var(--k254)"/><path d="M188.1 -9.8l-4.3 1.3 -6 -3.9v-4.2l6 3.9 4.3 -1.3z" style="fill:var(--k255)"/><path d="M188.1 -14l-4.3 1.3 -6 -3.9v-4.2l6 3.9 4.3 -1.3z" style="fill:var(--k256)"/><path d="M183.8 -16.9l4.3 -1.3 -6 -3.9 -4.3 1.3z" style="fill:var(--k257)"/><path d="M183.8 0v-16.9" fill="none"/><path d="M147.1 -5l-4.4 1.3 -5.2 -3.4v-4.2l5.2 3.4 4.4 -1.3z" style="fill:var(--k258)"/><path d="M147.1 -9.2l-4.4 1.3 -5.2 -3.4v-4.2l5.2 3.4 4.4 -1.3z" style="fill:var(--k259)"/><path d="M142.8 -12.1l4.4 -1.3 -5.2 -3.4 -4.4 1.3z" style="fill:var(--k260)"/><path d="M142.8 -3.6v-8.4" fill="none"/><path d="M202.9 -1.5l-8.4 2.6 -3.6 -2.4v-4.2l3.6 2.4 8.4 -2.6z" style="fill:var(--k261)"/><path d="M202.9 -5.7l-8.4 2.6 -3.6 -2.4v-4.2l3.6 2.4 8.4 -2.6z" style="fill:var(--k262)"/><path d="M194.5 -7.4l8.4 -2.6 -3.6 -2.4 -8.4 2.6z" style="fill:var(--k263)"/><path d="M194.5 1.1v-8.4M198.7 -0.2v-8.4" fill="none"/><path d="M284.9 6.7l-4 1.2 -5 -3.3v-4.7l5 3.3 4 -1.2z" style="fill:var(--k264)"/><path d="M284.9 1.9l-4 1.2 -5 -3.3v-4.7l5 3.3 4 -1.2z" style="fill:var(--k265)"/><path d="M284.9 -2.8l-4 1.2 -5 -3.3v-4.7l5 3.3 4 -1.2z" style="fill:var(--k266)"/><path d="M284.9 -7.5l-4 1.2 -5 -3.3v-4.7l5 3.3 4 -1.2z" style="fill:var(--k267)"/><path d="M280.9 -11l4 -1.2 -5 -3.3 -4 1.2z" style="fill:var(--k268)"/><path d="M280.9 7.9v-18.9" fill="none"/><path d="M75.6 -10.8l-6.1 1.9 -5.7 -3.7v-4.2l5.7 3.7 6.1 -1.9z" style="fill:var(--k269)"/><path d="M75.6 -15l-6.1 1.9 -5.7 -3.7v-4.2l5.7 3.7 6.1 -1.9z" style="fill:var(--k270)"/><path d="M69.6 -17.4l6.1 -1.9 -5.7 -3.7 -6.1 1.9z" style="fill:var(--k271)"/><path d="M69.6 -8.9v-8.4" fill="none"/><path d="M103.7 -7.8l-8 2.5 -7 -4.6v-4.3l7 4.6 8 -2.5z" style="fill:var(--k272)"/><path d="M103.7 -12.1l-8 2.5 -7 -4.6v-4.3l7 4.6 8 -2.5z" style="fill:var(--k273)"/><path d="M103.7 -16.4l-8 2.5 -7 -4.6v-4.3l7 4.6 8 -2.5z" style="fill:var(--k274)"/><path d="M103.7 -20.7l-8 2.5 -7 -4.6v-4.3l7 4.6 8 -2.5z" style="fill:var(--k275)"/><path d="M103.7 -25.1l-8 2.5 -7 -4.6v-4.3l7 4.6 8 -2.5z" style="fill:var(--k276)"/><path d="M103.7 -29.4l-8 2.5 -7 -4.6v-4.3l7 4.6 8 -2.5z" style="fill:var(--k277)"/><path d="M95.7 -31.3l8 -2.5 -7 -4.6 -8 2.5z" style="fill:var(--k278)"/><path d="M95.7 -5.3v-26" fill="none"/><path d="M163.1 -2.7l-6.9 2.1 -4.4 -2.9v-4.2l4.4 2.9 6.9 -2.1z" style="fill:var(--k279)"/><path d="M163.1 -7l-6.9 2.1 -4.4 -2.9v-4.2l4.4 2.9 6.9 -2.1z" style="fill:var(--k280)"/><path d="M163.1 -11.2l-6.9 2.1 -4.4 -2.9v-4.2l4.4 2.9 6.9 -2.1z" style="fill:var(--k281)"/><path d="M156.2 -13.3l6.9 -2.1 -4.4 -2.9 -6.9 2.1z" style="fill:var(--k282)"/><path d="M156.2 -0.6v-12.7" fill="none"/><path d="M257.3 6l-5 1.6 -5.9 -3.9v-4.2l5.9 3.9 5 -1.6z" style="fill:var(--k283)"/><path d="M252.3 3.3l5 -1.6 -5.9 -3.9 -5 1.6z" style="fill:var(--k284)"/><path d="M252.3 7.6v-4.2" fill="none"/><path d="M271.2 7.6l-5.5 1.7 -4 -2.6v-4.2l4 2.6 5.5 -1.7z" style="fill:var(--k285)"/><path d="M271.2 3.4l-5.5 1.7 -4 -2.6v-4.2l4 2.6 5.5 -1.7z" style="fill:var(--k286)"/><path d="M271.2 -0.8l-5.5 1.7 -4 -2.6v-4.2l4 2.6 5.5 -1.7z" style="fill:var(--k287)"/><path d="M271.2 -5l-5.5 1.7 -4 -2.6v-4.2l4 2.6 5.5 -1.7z" style="fill:var(--k288)"/><path d="M271.2 -9.3l-5.5 1.7 -4 -2.6v-4.2l4 2.6 5.5 -1.7z" style="fill:var(--k289)"/><path d="M271.2 -13.5l-5.5 1.7 -4 -2.6v-4.2l4 2.6 5.5 -1.7z" style="fill:var(--k290)"/><path d="M265.7 -16l5.5 -1.7 -4 -2.6 -5.5 1.7z" style="fill:var(--k291)"/><path d="M265.7 9.3v-25.3" fill="none"/><path d="M222.9 3.1l-7.8 2.4 -3.9 -2.5v-4.2l3.9 2.5 7.8 -2.4z" style="fill:var(--k292)"/><path d="M215.1 1.3l7.8 -2.4 -3.9 -2.5 -7.8 2.4z" style="fill:var(--k293)"/><path d="M215.1 5.6v-4.2" fill="none"/><path d="M142 -1.9l-5.7 1.7 -6.3 -4.1v-4.2l6.3 4.1 5.7 -1.7z" style="fill:var(--k294)"/><path d="M142 -6.2l-5.7 1.7 -6.3 -4.1v-4.2l6.3 4.1 5.7 -1.7z" style="fill:var(--k295)"/><path d="M142 -10.4l-5.7 1.7 -6.3 -4.1v-4.2l6.3 4.1 5.7 -1.7z" style="fill:var(--k296)"/><path d="M136.3 -12.9l5.7 -1.7 -6.3 -4.1 -5.7 1.7z" style="fill:var(--k297)"/><path d="M136.3 -0.2v-12.7" fill="none"/><path d="M193.4 1.5l-5.5 1.7 -3.2 -2.1v-4.2l3.2 2.1 5.5 -1.7z" style="fill:var(--k298)"/><path d="M193.4 -2.7l-5.5 1.7 -3.2 -2.1v-4.2l3.2 2.1 5.5 -1.7z" style="fill:var(--k299)"/><path d="M187.9 -5.2l5.5 -1.7 -3.2 -2.1 -5.5 1.7z" style="fill:var(--k300)"/><path d="M187.9 3.2v-8.4" fill="none"/><path d="M128.3 -3.5l-7.5 2.3 -6 -3.9v-4.2l6 3.9 7.5 -2.3z" style="fill:var(--k301)"/><path d="M128.3 -7.7l-7.5 2.3 -6 -3.9v-4.2l6 3.9 7.5 -2.3z" style="fill:var(--k302)"/><path d="M128.3 -11.9l-7.5 2.3 -6 -3.9v-4.2l6 3.9 7.5 -2.3z" style="fill:var(--k303)"/><path d="M120.8 -13.8l7.5 -2.3 -6 -3.9 -7.5 2.3z" style="fill:var(--k304)"/><path d="M120.8 -1.2v-12.7" fill="none"/><path d="M154.2 -0.2l-4.1 1.3 -5.6 -3.7v-4.2l5.6 3.7 4.1 -1.3z" style="fill:var(--k305)"/><path d="M154.2 -4.5l-4.1 1.3 -5.6 -3.7v-4.2l5.6 3.7 4.1 -1.3z" style="fill:var(--k306)"/><path d="M154.2 -8.7l-4.1 1.3 -5.6 -3.7v-4.2l5.6 3.7 4.1 -1.3z" style="fill:var(--k307)"/><path d="M154.2 -12.9l-4.1 1.3 -5.6 -3.7v-4.2l5.6 3.7 4.1 -1.3z" style="fill:var(--k308)"/><path d="M154.2 -17.1l-4.1 1.3 -5.6 -3.7v-4.2l5.6 3.7 4.1 -1.3z" style="fill:var(--k309)"/><path d="M154.2 -21.4l-4.1 1.3 -5.6 -3.7v-4.2l5.6 3.7 4.1 -1.3z" style="fill:var(--k310)"/><path d="M154.2 -25.6l-4.1 1.3 -5.6 -3.7v-4.2l5.6 3.7 4.1 -1.3z" style="fill:var(--k311)"/><path d="M150.1 -28.5l4.1 -1.3 -5.6 -3.7 -4.1 1.3z" style="fill:var(--k312)"/><path d="M150.1 1v-29.5" fill="none"/><path d="M249.1 7.5l-4.2 1.3 -3.5 -2.3v-4.2l3.5 2.3 4.2 -1.3z" style="fill:var(--k313)"/><path d="M244.9 4.6l4.2 -1.3 -3.5 -2.3 -4.2 1.3z" style="fill:var(--k314)"/><path d="M244.9 8.8v-4.2" fill="none"/><path d="M84.1 -5.7l-6.9 2.1 -6.6 -4.3v-4.2l6.6 4.3 6.9 -2.1z" style="fill:var(--k315)"/><path d="M84.1 -9.9l-6.9 2.1 -6.6 -4.3v-4.2l6.6 4.3 6.9 -2.1z" style="fill:var(--k316)"/><path d="M77.2 -12l6.9 -2.1 -6.6 -4.3 -6.9 2.1z" style="fill:var(--k317)"/><path d="M77.2 -3.6v-8.4" fill="none"/><path d="M264 10.2l-5.3 1.6 -4.7 -3.1v-4.2l4.7 3.1 5.3 -1.6z" style="fill:var(--k318)"/><path d="M264 6l-5.3 1.6 -4.7 -3.1v-4.2l4.7 3.1 5.3 -1.6z" style="fill:var(--k319)"/><path d="M258.6 3.4l5.3 -1.6 -4.7 -3.1 -5.3 1.6z" style="fill:var(--k320)"/><path d="M258.6 11.9v-8.4" fill="none"/><path d="M228.8 7.7l-5.1 1.6 -5.4 -3.5v-4.9l5.4 3.5 5.1 -1.6z" style="fill:var(--k321)"/><path d="M228.8 2.8l-5.1 1.6 -5.4 -3.5v-4.9l5.4 3.5 5.1 -1.6z" style="fill:var(--k322)"/><path d="M223.7 -0.5l5.1 -1.6 -5.4 -3.5 -5.1 1.6z" style="fill:var(--k323)"/><path d="M223.7 9.3v-9.8" fill="none"/><path d="M241.5 8.2l-6.5 2 -3.4 -2.3v-4.2l3.4 2.3 6.5 -2z" style="fill:var(--k324)"/><path d="M235 6l6.5 -2 -3.4 -2.3 -6.5 2z" style="fill:var(--k325)"/><path d="M235 10.2v-4.2" fill="none"/><path d="M278 12l-5.7 1.8 -4.8 -3.2v-4.2l4.8 3.2 5.7 -1.8z" style="fill:var(--k326)"/><path d="M278 7.7l-5.7 1.8 -4.8 -3.2v-4.2l4.8 3.2 5.7 -1.8z" style="fill:var(--k327)"/><path d="M278 3.5l-5.7 1.8 -4.8 -3.2v-4.2l4.8 3.2 5.7 -1.8z" style="fill:var(--k328)"/><path d="M278 -0.7l-5.7 1.8 -4.8 -3.2v-4.2l4.8 3.2 5.7 -1.8z" style="fill:var(--k329)"/><path d="M272.3 -3.2l5.7 -1.8 -4.8 -3.2 -5.7 1.8z" style="fill:var(--k330)"/><path d="M272.3 13.7v-16.9" fill="none"/><path d="M199.9 5.6l-5.9 1.8 -4.1 -2.7v-4.2l4.1 2.7 5.9 -1.8z" style="fill:var(--k331)"/><path d="M199.9 1.4l-5.9 1.8 -4.1 -2.7v-4.2l4.1 2.7 5.9 -1.8z" style="fill:var(--k332)"/><path d="M194 -1l5.9 -1.8 -4.1 -2.7 -5.9 1.8z" style="fill:var(--k333)"/><path d="M194 7.4v-8.4" fill="none"/><path d="M72.8 -5.1l-7.8 2.4 -5.1 -3.3v-4.2l5.1 3.3 7.8 -2.4z" style="fill:var(--k334)"/><path d="M72.8 -9.3l-7.8 2.4 -5.1 -3.3v-4.2l5.1 3.3 7.8 -2.4z" style="fill:var(--k335)"/><path d="M65.1 -11.2l7.8 -2.4 -5.1 -3.3 -7.8 2.4z" style="fill:var(--k336)"/><path d="M65.1 -2.7v-8.4" fill="none"/><path d="M134.3 0.6l-7.2 2.2 -5.2 -3.4v-4.2l5.2 3.4 7.2 -2.2z" style="fill:var(--k337)"/><path d="M134.3 -3.6l-7.2 2.2 -5.2 -3.4v-4.2l5.2 3.4 7.2 -2.2z" style="fill:var(--k338)"/><path d="M127 -5.6l7.2 -2.2 -5.2 -3.4 -7.2 2.2z" style="fill:var(--k339)"/><path d="M127 2.8v-8.4" fill="none"/><path d="M256 11.1l-6.2 1.9 -3.8 -2.5v-4.2l3.8 2.5 6.2 -1.9z" style="fill:var(--k340)"/><path d="M249.8 8.8l6.2 -1.9 -3.8 -2.5 -6.2 1.9z" style="fill:var(--k341)"/><path d="M249.8 13v-4.2" fill="none"/><path d="M160.4 3.3l-5.1 1.6 -3.9 -2.5v-4.2l3.9 2.5 5.1 -1.6z" style="fill:var(--k342)"/><path d="M160.4 -0.9l-5.1 1.6 -3.9 -2.5v-4.2l3.9 2.5 5.1 -1.6z" style="fill:var(--k343)"/><path d="M160.4 -5.1l-5.1 1.6 -3.9 -2.5v-4.2l3.9 2.5 5.1 -1.6z" style="fill:var(--k344)"/><path d="M155.3 -7.7l5.1 -1.6 -3.9 -2.5 -5.1 1.6z" style="fill:var(--k345)"/><path d="M155.3 4.9v-12.7" fill="none"/><path d="M215.7 9.2l-8 2.5 -8 -5.2v-4.6l8 5.2 8 -2.5z" style="fill:var(--k346)"/><path d="M215.7 4.7l-8 2.5 -8 -5.2v-4.6l8 5.2 8 -2.5z" style="fill:var(--k347)"/><path d="M215.7 0.1l-8 2.5 -8 -5.2v-4.6l8 5.2 8 -2.5z" style="fill:var(--k348)"/><path d="M215.7 -4.5l-8 2.5 -8 -5.2v-4.6l8 5.2 8 -2.5z" style="fill:var(--k349)"/><path d="M207.7 -6.6l8 -2.5 -8 -5.2 -8 2.5z" style="fill:var(--k350)"/><path d="M207.7 11.7v-18.3" fill="none"/><path d="M89.7 -2l-6.9 2.1 -4.4 -2.9v-4.2l4.4 2.9 6.9 -2.1z" style="fill:var(--k351)"/><path d="M89.7 -6.3l-6.9 2.1 -4.4 -2.9v-4.2l4.4 2.9 6.9 -2.1z" style="fill:var(--k352)"/><path d="M89.7 -10.5l-6.9 2.1 -4.4 -2.9v-4.2l4.4 2.9 6.9 -2.1z" style="fill:var(--k353)"/><path d="M89.7 -14.7l-6.9 2.1 -4.4 -2.9v-4.2l4.4 2.9 6.9 -2.1z" style="fill:var(--k354)"/><path d="M82.8 -16.8l6.9 -2.1 -4.4 -2.9 -6.9 2.1z" style="fill:var(--k355)"/><path d="M82.8 0.1v-16.9" fill="none"/><path d="M175 6l-5 1.5 -5.5 -3.6v-4.2l5.5 3.6 5 -1.5z" style="fill:var(--k356)"/><path d="M175 1.7l-5 1.5 -5.5 -3.6v-4.2l5.5 3.6 5 -1.5z" style="fill:var(--k357)"/><path d="M175 -2.5l-5 1.5 -5.5 -3.6v-4.2l5.5 3.6 5 -1.5z" style="fill:var(--k358)"/><path d="M175 -6.7l-5 1.5 -5.5 -3.6v-4.2l5.5 3.6 5 -1.5z" style="fill:var(--k359)"/><path d="M175 -10.9l-5 1.5 -5.5 -3.6v-4.2l5.5 3.6 5 -1.5z" style="fill:var(--k360)"/><path d="M170 -13.6l5 -1.5 -5.5 -3.6 -5 1.5z" style="fill:var(--k361)"/><path d="M170 7.5v-21.1" fill="none"/><path d="M116.7 1.7l-12 3.7 -12 -7.9v-4.1l12 7.9 12 -3.7z" style="fill:var(--k362)"/><path d="M116.7 -2.4l-12 3.7 -12 -7.9v-4.1l12 7.9 12 -3.7z" style="fill:var(--k363)"/><path d="M104.7 -2.8l12 -3.7 -12 -7.9 -12 3.7z" style="fill:var(--k364)"/><path d="M104.7 5.4v-8.2M110.7 3.6v-8.2M98.7 1.5v-8.2" fill="none"/><path d="M192.5 8.4l-6.3 2 -5.8 -3.8v-4.2l5.8 3.8 6.3 -2z" style="fill:var(--k365)"/><path d="M192.5 4.1l-6.3 2 -5.8 -3.8v-4.2l5.8 3.8 6.3 -2z" style="fill:var(--k366)"/><path d="M192.5 -0.1l-6.3 2 -5.8 -3.8v-4.2l5.8 3.8 6.3 -2z" style="fill:var(--k367)"/><path d="M192.5 -4.3l-6.3 2 -5.8 -3.8v-4.2l5.8 3.8 6.3 -2z" style="fill:var(--k368)"/><path d="M186.2 -6.6l6.3 -2 -5.8 -3.8 -6.3 2z" style="fill:var(--k369)"/><path d="M186.2 10.3v-16.9" fill="none"/><path d="M247.7 13.2l-4.7 1.4 -4.8 -3.2v-4.2l4.8 3.2 4.7 -1.4z" style="fill:var(--k370)"/><path d="M243 10.4l4.7 -1.4 -4.8 -3.2 -4.7 1.4z" style="fill:var(--k371)"/><path d="M243 14.6v-4.2" fill="none"/><path d="M271.4 15.5l-4.5 1.4 -5.9 -3.9v-4.2l5.9 3.9 4.5 -1.4z" style="fill:var(--k372)"/><path d="M271.4 11.3l-4.5 1.4 -5.9 -3.9v-4.2l5.9 3.9 4.5 -1.4z" style="fill:var(--k373)"/><path d="M271.4 7.1l-4.5 1.4 -5.9 -3.9v-4.2l5.9 3.9 4.5 -1.4z" style="fill:var(--k374)"/><path d="M266.9 4.2l4.5 -1.4 -5.9 -3.9 -4.5 1.4z" style="fill:var(--k375)"/><path d="M266.9 16.9v-12.7" fill="none"/><path d="M236.7 12.1l-8 2.5 -4.5 -3v-4.2l4.5 3 8 -2.5z" style="fill:var(--k376)"/><path d="M228.7 10.3l8 -2.5 -4.5 -3 -8 2.5z" style="fill:var(--k377)"/><path d="M228.7 14.6v-4.2" fill="none"/><path d="M140.1 4.5l-7.1 2.2 -4.5 -3v-4.2l4.5 3 7.1 -2.2z" style="fill:var(--k378)"/><path d="M140.1 0.3l-7.1 2.2 -4.5 -3v-4.2l4.5 3 7.1 -2.2z" style="fill:var(--k379)"/><path d="M140.1 -4l-7.1 2.2 -4.5 -3v-4.2l4.5 3 7.1 -2.2z" style="fill:var(--k380)"/><path d="M140.1 -8.2l-7.1 2.2 -4.5 -3v-4.2l4.5 3 7.1 -2.2z" style="fill:var(--k381)"/><path d="M133 -10.2l7.1 -2.2 -4.5 -3 -7.1 2.2z" style="fill:var(--k382)"/><path d="M133 6.7v-16.9" fill="none"/><path d="M165.5 7.1l-4.1 1.3 -4.3 -2.8v-4.2l4.3 2.8 4.1 -1.3z" style="fill:var(--k383)"/><path d="M165.5 2.9l-4.1 1.3 -4.3 -2.8v-4.2l4.3 2.8 4.1 -1.3z" style="fill:var(--k384)"/><path d="M165.5 -1.3l-4.1 1.3 -4.3 -2.8v-4.2l4.3 2.8 4.1 -1.3z" style="fill:var(--k385)"/><path d="M165.5 -5.5l-4.1 1.3 -4.3 -2.8v-4.2l4.3 2.8 4.1 -1.3z" style="fill:var(--k386)"/><path d="M165.5 -9.8l-4.1 1.3 -4.3 -2.8v-4.2l4.3 2.8 4.1 -1.3z" style="fill:var(--k387)"/><path d="M161.3 -12.7l4.1 -1.3 -4.3 -2.8 -4.1 1.3z" style="fill:var(--k388)"/><path d="M161.3 8.4v-21.1" fill="none"/><path d="M80.1 -0.5l-8.1 2.5 -5.1 -3.3v-4.2l5.1 3.3 8.1 -2.5z" style="fill:var(--k389)"/><path d="M72 -2.3l8.1 -2.5 -5.1 -3.3 -8.1 2.5z" style="fill:var(--k390)"/><path d="M72 2v-4.2M76 0.7v-4.2" fill="none"/><path d="M65.7 -0.3l-3.9 1.2 -6.5 -4.3v-4.2l6.5 4.3 3.9 -1.2z" style="fill:var(--k391)"/><path d="M65.7 -4.5l-3.9 1.2 -6.5 -4.3v-4.2l6.5 4.3 3.9 -1.2z" style="fill:var(--k392)"/><path d="M61.8 -7.5l3.9 -1.2 -6.5 -4.3 -3.9 1.2z" style="fill:var(--k393)"/><path d="M61.8 0.9v-8.4" fill="none"/><path d="M262.1 15.7l-4.9 1.5 -5.2 -3.4v-4.2l5.2 3.4 4.9 -1.5z" style="fill:var(--k394)"/><path d="M262.1 11.5l-4.9 1.5 -5.2 -3.4v-4.2l5.2 3.4 4.9 -1.5z" style="fill:var(--k395)"/><path d="M262.1 7.3l-4.9 1.5 -5.2 -3.4v-4.2l5.2 3.4 4.9 -1.5z" style="fill:var(--k396)"/><path d="M262.1 3.1l-4.9 1.5 -5.2 -3.4v-4.2l5.2 3.4 4.9 -1.5z" style="fill:var(--k397)"/><path d="M257.2 0.3l4.9 -1.5 -5.2 -3.4 -4.9 1.5z" style="fill:var(--k398)"/><path d="M257.2 17.2v-16.9" fill="none"/><path d="M223.5 12.1l-8 2.5 -4.4 -2.9v-4.2l4.4 2.9 8 -2.5z" style="fill:var(--k399)"/><path d="M215.5 10.4l8 -2.5 -4.4 -2.9 -8 2.5z" style="fill:var(--k400)"/><path d="M215.5 14.6v-4.2" fill="none"/><path d="M181.1 9.5l-6 1.9 -4.6 -3v-4.2l4.6 3 6 -1.9z" style="fill:var(--k401)"/><path d="M181.1 5.3l-6 1.9 -4.6 -3v-4.2l4.6 3 6 -1.9z" style="fill:var(--k402)"/><path d="M175.1 2.9l6 -1.9 -4.6 -3 -6 1.9z" style="fill:var(--k403)"/><path d="M175.1 11.4v-8.4" fill="none"/><path d="M97.8 3.3l-6.9 2.1 -7 -4.6v-4.2l7 4.6 6.9 -2.1z" style="fill:var(--k404)"/><path d="M97.8 -0.9l-6.9 2.1 -7 -4.6v-4.2l7 4.6 6.9 -2.1z" style="fill:var(--k405)"/><path d="M90.9 -3l6.9 -2.1 -7 -4.6 -6.9 2.1z" style="fill:var(--k406)"/><path d="M90.9 5.4v-8.4" fill="none"/><path d="M59.4 0.9l-6.6 2 -6.2 -4.1v-4.2l6.2 4.1 6.6 -2z" style="fill:var(--k407)"/><path d="M59.4 -3.3l-6.6 2 -6.2 -4.1v-4.2l6.2 4.1 6.6 -2z" style="fill:var(--k408)"/><path d="M59.4 -7.5l-6.6 2 -6.2 -4.1v-4.2l6.2 4.1 6.6 -2z" style="fill:var(--k409)"/><path d="M52.8 -9.7l6.6 -2 -6.2 -4.1 -6.6 2z" style="fill:var(--k410)"/><path d="M52.8 3v-12.7" fill="none"/><path d="M199.7 12.1l-8.3 2.6 -4.6 -3v-4.2l4.6 3 8.3 -2.6z" style="fill:var(--k411)"/><path d="M199.7 7.9l-8.3 2.6 -4.6 -3v-4.2l4.6 3 8.3 -2.6z" style="fill:var(--k412)"/><path d="M199.7 3.7l-8.3 2.6 -4.6 -3v-4.2l4.6 3 8.3 -2.6z" style="fill:var(--k413)"/><path d="M199.7 -0.6l-8.3 2.6 -4.6 -3v-4.2l4.6 3 8.3 -2.6z" style="fill:var(--k414)"/><path d="M191.4 -2.2l8.3 -2.6 -4.6 -3 -8.3 2.6z" style="fill:var(--k415)"/><path d="M191.4 14.7v-16.9M195.5 13.4v-16.9" fill="none"/><path d="M277.9 19.5l-5.1 1.6 -4.7 -3.1v-4.2l4.7 3.1 5.1 -1.6z" style="fill:var(--k416)"/><path d="M277.9 15.3l-5.1 1.6 -4.7 -3.1v-4.2l4.7 3.1 5.1 -1.6z" style="fill:var(--k417)"/><path d="M272.9 12.6l5.1 -1.6 -4.7 -3.1 -5.1 1.6z" style="fill:var(--k418)"/><path d="M272.9 21.1v-8.4" fill="none"/><path d="M255.1 17.8l-5.1 1.6 -5.6 -3.7v-4.2l5.6 3.7 5.1 -1.6z" style="fill:var(--k419)"/><path d="M255.1 13.6l-5.1 1.6 -5.6 -3.7v-4.2l5.6 3.7 5.1 -1.6z" style="fill:var(--k420)"/><path d="M250.1 11l5.1 -1.6 -5.6 -3.7 -5.1 1.6z" style="fill:var(--k421)"/><path d="M250.1 19.4v-8.4" fill="none"/><path d="M158.2 9.7l-6.5 2 -6.5 -4.3v-3.7l6.5 4.3 6.5 -2z" style="fill:var(--k422)"/><path d="M158.2 6l-6.5 2 -6.5 -4.3v-3.7l6.5 4.3 6.5 -2z" style="fill:var(--k423)"/><path d="M158.2 2.3l-6.5 2 -6.5 -4.3v-3.7l6.5 4.3 6.5 -2z" style="fill:var(--k424)"/><path d="M151.7 0.7l6.5 -2 -6.5 -4.3 -6.5 2z" style="fill:var(--k425)"/><path d="M151.7 11.7v-11" fill="none"/><path d="M172.2 11l-5.2 1.6 -5.2 -3.4v-4.2l5.2 3.4 5.2 -1.6z" style="fill:var(--k426)"/><path d="M172.2 6.8l-5.2 1.6 -5.2 -3.4v-4.2l5.2 3.4 5.2 -1.6z" style="fill:var(--k427)"/><path d="M172.2 2.5l-5.2 1.6 -5.2 -3.4v-4.2l5.2 3.4 5.2 -1.6z" style="fill:var(--k428)"/><path d="M172.2 -1.7l-5.2 1.6 -5.2 -3.4v-4.2l5.2 3.4 5.2 -1.6z" style="fill:var(--k429)"/><path d="M166.9 -4.3l5.2 -1.6 -5.2 -3.4 -5.2 1.6z" style="fill:var(--k430)"/><path d="M166.9 12.6v-16.9" fill="none"/><path d="M227.5 15.6l-6.4 2 -3.5 -2.3v-4.2l3.5 2.3 6.4 -2z" style="fill:var(--k431)"/><path d="M221.2 13.3l6.4 -2 -3.5 -2.3 -6.4 2z" style="fill:var(--k432)"/><path d="M221.2 17.5v-4.2" fill="none"/><path d="M132.7 8.9l-6.4 2 -6.9 -4.5v-4.2l6.9 4.5 6.4 -2z" style="fill:var(--k433)"/><path d="M132.7 4.7l-6.4 2 -6.9 -4.5v-4.2l6.9 4.5 6.4 -2z" style="fill:var(--k434)"/><path d="M132.7 0.5l-6.4 2 -6.9 -4.5v-4.2l6.9 4.5 6.4 -2z" style="fill:var(--k435)"/><path d="M126.3 -1.8l6.4 -2 -6.9 -4.5 -6.4 2z" style="fill:var(--k436)"/><path d="M126.3 10.9v-12.7" fill="none"/><path d="M269.3 20.4l-5 1.5 -6 -3.9v-4.2l6 3.9 5 -1.5z" style="fill:var(--k437)"/><path d="M269.3 16.2l-5 1.5 -6 -3.9v-4.2l6 3.9 5 -1.5z" style="fill:var(--k438)"/><path d="M269.3 12l-5 1.5 -6 -3.9v-4.2l6 3.9 5 -1.5z" style="fill:var(--k439)"/><path d="M269.3 7.8l-5 1.5 -6 -3.9v-4.2l6 3.9 5 -1.5z" style="fill:var(--k440)"/><path d="M264.4 5.1l5 -1.5 -6 -3.9 -5 1.5z" style="fill:var(--k441)"/><path d="M264.4 21.9v-16.9" fill="none"/><path d="M49 2l-3.9 1.2 -5.2 -3.4v-4.2l5.2 3.4 3.9 -1.2z" style="fill:var(--k442)"/><path d="M49 -2.2l-3.9 1.2 -5.2 -3.4v-4.2l5.2 3.4 3.9 -1.2z" style="fill:var(--k443)"/><path d="M49 -6.4l-3.9 1.2 -5.2 -3.4v-4.2l5.2 3.4 3.9 -1.2z" style="fill:var(--k444)"/><path d="M49 -10.7l-3.9 1.2 -5.2 -3.4v-4.2l5.2 3.4 3.9 -1.2z" style="fill:var(--k445)"/><path d="M45.1 -13.7l3.9 -1.2 -5.2 -3.4 -3.9 1.2z" style="fill:var(--k446)"/><path d="M45.1 3.2v-16.9" fill="none"/><path d="M188.3 13.7l-7 2.1 -4.7 -3.1v-4.2l4.7 3.1 7 -2.1z" style="fill:var(--k447)"/><path d="M181.3 11.7l7 -2.1 -4.7 -3.1 -7 2.1z" style="fill:var(--k448)"/><path d="M181.3 15.9v-4.2" fill="none"/><path d="M246.4 18.9l-7.1 2.2 -3.3 -2.2v-4.2l3.3 2.2 7.1 -2.2z" style="fill:var(--k449)"/><path d="M246.4 14.6l-7.1 2.2 -3.3 -2.2v-4.2l3.3 2.2 7.1 -2.2z" style="fill:var(--k450)"/><path d="M246.4 10.4l-7.1 2.2 -3.3 -2.2v-4.2l3.3 2.2 7.1 -2.2z" style="fill:var(--k451)"/><path d="M239.3 8.4l7.1 -2.2 -3.3 -2.2 -7.1 2.2z" style="fill:var(--k452)"/><path d="M239.3 21.1v-12.7" fill="none"/><path d="M204.4 15.8l-7.1 2.2 -3.8 -2.5v-4.2l3.8 2.5 7.1 -2.2z" style="fill:var(--k453)"/><path d="M197.4 13.8l7.1 -2.2 -3.8 -2.5 -7.1 2.2z" style="fill:var(--k454)"/><path d="M197.4 18v-4.2" fill="none"/><path d="M285.6 24.4l-5.4 1.7 -6.6 -4.3v-4.2l6.6 4.3 5.4 -1.7z" style="fill:var(--k455)"/><path d="M285.6 20.2l-5.4 1.7 -6.6 -4.3v-4.2l6.6 4.3 5.4 -1.7z" style="fill:var(--k456)"/><path d="M280.3 17.6l5.4 -1.7 -6.6 -4.3 -5.4 1.7z" style="fill:var(--k457)"/><path d="M280.3 26.1v-8.4" fill="none"/><path d="M165.9 13.3l-6.4 2 -3.8 -2.5v-4.2l3.8 2.5 6.4 -2z" style="fill:var(--k458)"/><path d="M165.9 9.1l-6.4 2 -3.8 -2.5v-4.2l3.8 2.5 6.4 -2z" style="fill:var(--k459)"/><path d="M159.5 6.9l6.4 -2 -3.8 -2.5 -6.4 2z" style="fill:var(--k460)"/><path d="M159.5 15.3v-8.4" fill="none"/><path d="M261.2 21.7l-5.3 1.6 -4.2 -2.7v-4.2l4.2 2.7 5.3 -1.6z" style="fill:var(--k461)"/><path d="M261.2 17.5l-5.3 1.6 -4.2 -2.7v-4.2l4.2 2.7 5.3 -1.6z" style="fill:var(--k462)"/><path d="M261.2 13.3l-5.3 1.6 -4.2 -2.7v-4.2l4.2 2.7 5.3 -1.6z" style="fill:var(--k463)"/><path d="M261.2 9l-5.3 1.6 -4.2 -2.7v-4.2l4.2 2.7 5.3 -1.6z" style="fill:var(--k464)"/><path d="M261.2 4.8l-5.3 1.6 -4.2 -2.7v-4.2l4.2 2.7 5.3 -1.6z" style="fill:var(--k465)"/><path d="M255.9 2.2l5.3 -1.6 -4.2 -2.7 -5.3 1.6z" style="fill:var(--k466)"/><path d="M255.9 23.3v-21.1" fill="none"/><path d="M177.7 15l-4.4 1.4 -4.7 -3.1v-4.2l4.7 3.1 4.4 -1.4z" style="fill:var(--k467)"/><path d="M177.7 10.8l-4.4 1.4 -4.7 -3.1v-4.2l4.7 3.1 4.4 -1.4z" style="fill:var(--k468)"/><path d="M177.7 6.6l-4.4 1.4 -4.7 -3.1v-4.2l4.7 3.1 4.4 -1.4z" style="fill:var(--k469)"/><path d="M177.7 2.4l-4.4 1.4 -4.7 -3.1v-4.2l4.7 3.1 4.4 -1.4z" style="fill:var(--k470)"/><path d="M177.7 -1.9l-4.4 1.4 -4.7 -3.1v-4.2l4.7 3.1 4.4 -1.4z" style="fill:var(--k471)"/><path d="M177.7 -6.1l-4.4 1.4 -4.7 -3.1v-4.2l4.7 3.1 4.4 -1.4z" style="fill:var(--k472)"/><path d="M173.3 -8.9l4.4 -1.4 -4.7 -3.1 -4.4 1.4z" style="fill:var(--k473)"/><path d="M173.3 16.4v-25.3" fill="none"/><path d="M234.4 19l-8.6 2.6 -3.9 -2.5v-4.2l3.9 2.5 8.6 -2.6z" style="fill:var(--k474)"/><path d="M225.8 17.4l8.6 -2.6 -3.9 -2.5 -8.6 2.6z" style="fill:var(--k475)"/><path d="M225.8 21.7v-4.2M230.1 20.3v-4.2" fill="none"/><path d="M219.9 18.7l-5.9 1.8 -4.8 -3.1v-4.2l4.8 3.1 5.9 -1.8z" style="fill:var(--k476)"/><path d="M214 16.3l5.9 -1.8 -4.8 -3.1 -5.9 1.8z" style="fill:var(--k477)"/><path d="M214 20.5v-4.2" fill="none"/><path d="M93.2 7.8l-8.6 2.7 -5 -3.3v-4.2l5 3.3 8.6 -2.7z" style="fill:var(--k478)"/><path d="M93.2 3.6l-8.6 2.7 -5 -3.3v-4.2l5 3.3 8.6 -2.7z" style="fill:var(--k479)"/><path d="M93.2 -0.7l-8.6 2.7 -5 -3.3v-4.2l5 3.3 8.6 -2.7z" style="fill:var(--k480)"/><path d="M93.2 -4.9l-8.6 2.7 -5 -3.3v-4.2l5 3.3 8.6 -2.7z" style="fill:var(--k481)"/><path d="M93.2 -9.1l-8.6 2.7 -5 -3.3v-4.2l5 3.3 8.6 -2.7z" style="fill:var(--k482)"/><path d="M93.2 -13.3l-8.6 2.7 -5 -3.3v-4.2l5 3.3 8.6 -2.7z" style="fill:var(--k483)"/><path d="M84.6 -14.9l8.6 -2.7 -5 -3.3 -8.6 2.7z" style="fill:var(--k484)"/><path d="M84.6 10.4v-25.3M88.9 9.1v-25.3" fill="none"/><path d="M275.7 24l-6 1.9 -4.4 -2.9v-4.2l4.4 2.9 6 -1.9z" style="fill:var(--k485)"/><path d="M275.7 19.8l-6 1.9 -4.4 -2.9v-4.2l4.4 2.9 6 -1.9z" style="fill:var(--k486)"/><path d="M275.7 15.6l-6 1.9 -4.4 -2.9v-4.2l4.4 2.9 6 -1.9z" style="fill:var(--k487)"/><path d="M269.6 13.2l6 -1.9 -4.4 -2.9 -6 1.9z" style="fill:var(--k488)"/><path d="M269.6 25.9v-12.7" fill="none"/><path d="M315.8 27.9l-1.4 0.4 -1.6 -1v-5.8l1.6 1 1.4 -0.4z" style="fill:var(--k489)"/><path d="M314.4 22.5l1.4 -0.4 -1.6 -1 -1.4 0.4z" style="fill:var(--k490)"/><path d="M314.4 28.3v-5.8" fill="none"/><path d="M56 5.9l-5.3 1.6 -3.6 -2.3v-4.2l3.6 2.3 5.3 -1.6z" style="fill:var(--k491)"/><path d="M56 1.7l-5.3 1.6 -3.6 -2.3v-4.2l3.6 2.3 5.3 -1.6z" style="fill:var(--k492)"/><path d="M56 -2.6l-5.3 1.6 -3.6 -2.3v-4.2l3.6 2.3 5.3 -1.6z" style="fill:var(--k493)"/><path d="M50.7 -5.2l5.3 -1.6 -3.6 -2.3 -5.3 1.6z" style="fill:var(--k494)"/><path d="M50.7 7.5v-12.7" fill="none"/><path d="M193.4 17.9l-5.2 1.6 -3.5 -2.3v-4.2l3.5 2.3 5.2 -1.6z" style="fill:var(--k495)"/><path d="M193.4 13.7l-5.2 1.6 -3.5 -2.3v-4.2l3.5 2.3 5.2 -1.6z" style="fill:var(--k496)"/><path d="M193.4 9.5l-5.2 1.6 -3.5 -2.3v-4.2l3.5 2.3 5.2 -1.6z" style="fill:var(--k497)"/><path d="M188.2 6.9l5.2 -1.6 -3.5 -2.3 -5.2 1.6z" style="fill:var(--k498)"/><path d="M188.2 19.5v-12.7" fill="none"/><path d="M254.2 24l-7.1 2.2 -6.3 -4.1v-4.2l6.3 4.1 7.1 -2.2z" style="fill:var(--k499)"/><path d="M247.1 21.9l7.1 -2.2 -6.3 -4.1 -7.1 2.2z" style="fill:var(--k500)"/><path d="M247.1 26.2v-4.2" fill="none"/><path d="M171.4 16.7l-6.9 2.1 -3.6 -2.4v-4.2l3.6 2.4 6.9 -2.1z" style="fill:var(--k501)"/><path d="M171.4 12.5l-6.9 2.1 -3.6 -2.4v-4.2l3.6 2.4 6.9 -2.1z" style="fill:var(--k502)"/><path d="M171.4 8.2l-6.9 2.1 -3.6 -2.4v-4.2l3.6 2.4 6.9 -2.1z" style="fill:var(--k503)"/><path d="M171.4 4l-6.9 2.1 -3.6 -2.4v-4.2l3.6 2.4 6.9 -2.1z" style="fill:var(--k504)"/><path d="M171.4 -0.2l-6.9 2.1 -3.6 -2.4v-4.2l3.6 2.4 6.9 -2.1z" style="fill:var(--k505)"/><path d="M164.5 -2.3l6.9 -2.1 -3.6 -2.4 -6.9 2.1z" style="fill:var(--k506)"/><path d="M164.5 18.8v-21.1" fill="none"/><path d="M111.8 12.3l-7.1 2.2 -5.1 -3.3v-4.2l5.1 3.3 7.1 -2.2z" style="fill:var(--k507)"/><path d="M104.6 10.3l7.1 -2.2 -5.1 -3.3 -7.1 2.2z" style="fill:var(--k508)"/><path d="M104.6 14.5v-4.2" fill="none"/><path d="M239.2 23.2l-6.5 2 -4.1 -2.7v-4.2l4.1 2.7 6.5 -2z" style="fill:var(--k509)"/><path d="M239.2 18.9l-6.5 2 -4.1 -2.7v-4.2l4.1 2.7 6.5 -2z" style="fill:var(--k510)"/><path d="M232.7 16.7l6.5 -2 -4.1 -2.7 -6.5 2z" style="fill:var(--k511)"/><path d="M232.7 25.2v-8.4" fill="none"/><path d="M74.2 10l-5.5 1.7 -5.5 -3.6v-4.2l5.5 3.6 5.5 -1.7z" style="fill:var(--k512)"/><path d="M74.2 5.8l-5.5 1.7 -5.5 -3.6v-4.2l5.5 3.6 5.5 -1.7z" style="fill:var(--k513)"/><path d="M74.2 1.6l-5.5 1.7 -5.5 -3.6v-4.2l5.5 3.6 5.5 -1.7z" style="fill:var(--k514)"/><path d="M74.2 -2.6l-5.5 1.7 -5.5 -3.6v-4.2l5.5 3.6 5.5 -1.7z" style="fill:var(--k515)"/><path d="M74.2 -6.8l-5.5 1.7 -5.5 -3.6v-4.2l5.5 3.6 5.5 -1.7z" style="fill:var(--k516)"/><path d="M74.2 -11.1l-5.5 1.7 -5.5 -3.6v-4.2l5.5 3.6 5.5 -1.7z" style="fill:var(--k517)"/><path d="M74.2 -15.3l-5.5 1.7 -5.5 -3.6v-4.2l5.5 3.6 5.5 -1.7z" style="fill:var(--k518)"/><path d="M74.2 -19.5l-5.5 1.7 -5.5 -3.6v-4.2l5.5 3.6 5.5 -1.7z" style="fill:var(--k519)"/><path d="M68.7 -22l5.5 -1.7 -5.5 -3.6 -5.5 1.7z" style="fill:var(--k520)"/><path d="M68.7 11.7v-33.7" fill="none"/><path d="M159.3 17l-7.1 2.2 -5.9 -3.9v-4.2l5.9 3.9 7.1 -2.2z" style="fill:var(--k521)"/><path d="M159.3 12.8l-7.1 2.2 -5.9 -3.9v-4.2l5.9 3.9 7.1 -2.2z" style="fill:var(--k522)"/><path d="M159.3 8.6l-7.1 2.2 -5.9 -3.9v-4.2l5.9 3.9 7.1 -2.2z" style="fill:var(--k523)"/><path d="M159.3 4.4l-7.1 2.2 -5.9 -3.9v-4.2l5.9 3.9 7.1 -2.2z" style="fill:var(--k524)"/><path d="M159.3 0.2l-7.1 2.2 -5.9 -3.9v-4.2l5.9 3.9 7.1 -2.2z" style="fill:var(--k525)"/><path d="M159.3 -4.1l-7.1 2.2 -5.9 -3.9v-4.2l5.9 3.9 7.1 -2.2z" style="fill:var(--k526)"/><path d="M152.2 -6.1l7.1 -2.2 -5.9 -3.9 -7.1 2.2z" style="fill:var(--k527)"/><path d="M152.2 19.2v-25.3" fill="none"/><path d="M226.4 23.1l-5.4 1.7 -4.8 -3.2v-4.2l4.8 3.2 5.4 -1.7z" style="fill:var(--k528)"/><path d="M220.9 20.6l5.4 -1.7 -4.8 -3.2 -5.4 1.7z" style="fill:var(--k529)"/><path d="M220.9 24.8v-4.2" fill="none"/><path d="M186.9 20.5l-5.4 1.7 -7.3 -4.8v-4.2l7.3 4.8 5.4 -1.7z" style="fill:var(--k530)"/><path d="M181.5 18l5.4 -1.7 -7.3 -4.8 -5.4 1.7z" style="fill:var(--k531)"/><path d="M181.5 22.2v-4.2" fill="none"/><path d="M128.4 15.2l-6.6 2 -6.5 -4.3v-4.2l6.5 4.3 6.6 -2z" style="fill:var(--k532)"/><path d="M128.4 10.9l-6.6 2 -6.5 -4.3v-4.2l6.5 4.3 6.6 -2z" style="fill:var(--k533)"/><path d="M128.4 6.7l-6.6 2 -6.5 -4.3v-4.2l6.5 4.3 6.6 -2z" style="fill:var(--k534)"/><path d="M121.8 4.5l6.6 -2 -6.5 -4.3 -6.6 2z" style="fill:var(--k535)"/><path d="M121.8 17.2v-12.7" fill="none"/><path d="M100.5 13.4l-7 2.2 -6.6 -4.3v-4.2l6.6 4.3 7 -2.2z" style="fill:var(--k536)"/><path d="M100.5 9.1l-7 2.2 -6.6 -4.3v-4.2l6.6 4.3 7 -2.2z" style="fill:var(--k537)"/><path d="M100.5 4.9l-7 2.2 -6.6 -4.3v-4.2l6.6 4.3 7 -2.2z" style="fill:var(--k538)"/><path d="M100.5 0.7l-7 2.2 -6.6 -4.3v-4.2l6.6 4.3 7 -2.2z" style="fill:var(--k539)"/><path d="M100.5 -3.5l-7 2.2 -6.6 -4.3v-4.2l6.6 4.3 7 -2.2z" style="fill:var(--k540)"/><path d="M100.5 -7.7l-7 2.2 -6.6 -4.3v-4.2l6.6 4.3 7 -2.2z" style="fill:var(--k541)"/><path d="M100.5 -12l-7 2.2 -6.6 -4.3v-4.2l6.6 4.3 7 -2.2z" style="fill:var(--k542)"/><path d="M93.5 -14l7 -2.2 -6.6 -4.3 -7 2.2z" style="fill:var(--k543)"/><path d="M93.5 15.5v-29.5" fill="none"/><path d="M144.9 16.2l-8 2.4 -3.6 -2.3v-4.2l3.6 2.3 8 -2.4z" style="fill:var(--k544)"/><path d="M144.9 11.9l-8 2.4 -3.6 -2.3v-4.2l3.6 2.3 8 -2.4z" style="fill:var(--k545)"/><path d="M144.9 7.7l-8 2.4 -3.6 -2.3v-4.2l3.6 2.3 8 -2.4z" style="fill:var(--k546)"/><path d="M137 5.9l8 -2.4 -3.6 -2.3 -8 2.4z" style="fill:var(--k547)"/><path d="M137 18.6v-12.7" fill="none"/><path d="M282.4 29.1l-4.8 1.5 -6.2 -4.1v-4.2l6.2 4.1 4.8 -1.5z" style="fill:var(--k548)"/><path d="M282.4 24.9l-4.8 1.5 -6.2 -4.1v-4.2l6.2 4.1 4.8 -1.5z" style="fill:var(--k549)"/><path d="M282.4 20.6l-4.8 1.5 -6.2 -4.1v-4.2l6.2 4.1 4.8 -1.5z" style="fill:var(--k550)"/><path d="M282.4 16.4l-4.8 1.5 -6.2 -4.1v-4.2l6.2 4.1 4.8 -1.5z" style="fill:var(--k551)"/><path d="M282.4 12.2l-4.8 1.5 -6.2 -4.1v-4.2l6.2 4.1 4.8 -1.5z" style="fill:var(--k552)"/><path d="M282.4 8l-4.8 1.5 -6.2 -4.1v-4.2l6.2 4.1 4.8 -1.5z" style="fill:var(--k553)"/><path d="M277.7 5.2l4.8 -1.5 -6.2 -4.1 -4.8 1.5z" style="fill:var(--k554)"/><path d="M277.7 30.6v-25.3" fill="none"/><path d="M206.2 22.3l-4.5 1.4 -4 -2.6v-3.7l4 2.6 4.5 -1.4z" style="fill:var(--k555)"/><path d="M206.2 18.6l-4.5 1.4 -4 -2.6v-3.7l4 2.6 4.5 -1.4z" style="fill:var(--k556)"/><path d="M206.2 15l-4.5 1.4 -4 -2.6v-3.7l4 2.6 4.5 -1.4z" style="fill:var(--k557)"/><path d="M201.7 12.7l4.5 -1.4 -4 -2.6 -4.5 1.4z" style="fill:var(--k558)"/><path d="M201.7 23.7v-11" fill="none"/><path d="M57.6 10.3l-4.4 1.4 -4.4 -2.9v-4.3l4.4 2.9 4.4 -1.4z" style="fill:var(--k559)"/><path d="M57.6 6l-4.4 1.4 -4.4 -2.9v-4.3l4.4 2.9 4.4 -1.4z" style="fill:var(--k560)"/><path d="M57.6 1.7l-4.4 1.4 -4.4 -2.9v-4.3l4.4 2.9 4.4 -1.4z" style="fill:var(--k561)"/><path d="M57.6 -2.7l-4.4 1.4 -4.4 -2.9v-4.3l4.4 2.9 4.4 -1.4z" style="fill:var(--k562)"/><path d="M57.6 -7l-4.4 1.4 -4.4 -2.9v-4.3l4.4 2.9 4.4 -1.4z" style="fill:var(--k563)"/><path d="M57.6 -11.4l-4.4 1.4 -4.4 -2.9v-4.3l4.4 2.9 4.4 -1.4z" style="fill:var(--k564)"/><path d="M57.6 -15.7l-4.4 1.4 -4.4 -2.9v-4.3l4.4 2.9 4.4 -1.4z" style="fill:var(--k565)"/><path d="M57.6 -20.1l-4.4 1.4 -4.4 -2.9v-4.3l4.4 2.9 4.4 -1.4z" style="fill:var(--k566)"/><path d="M53.2 -23.1l4.4 -1.4 -4.4 -2.9 -4.4 1.4z" style="fill:var(--k567)"/><path d="M53.2 11.7v-34.8" fill="none"/><path d="M88.8 13.8l-5.9 1.8 -7 -4.6v-4.2l7 4.6 5.9 -1.8z" style="fill:var(--k568)"/><path d="M88.8 9.6l-5.9 1.8 -7 -4.6v-4.2l7 4.6 5.9 -1.8z" style="fill:var(--k569)"/><path d="M82.8 7.2l5.9 -1.8 -7 -4.6 -5.9 1.8z" style="fill:var(--k570)"/><path d="M82.8 15.7v-8.4" fill="none"/><path d="M52.3 10.7l-7.7 2.4 -7.7 -5v-4.3l7.7 5 7.7 -2.4z" style="fill:var(--k571)"/><path d="M52.3 6.5l-7.7 2.4 -7.7 -5v-4.3l7.7 5 7.7 -2.4z" style="fill:var(--k572)"/><path d="M52.3 2.2l-7.7 2.4 -7.7 -5v-4.3l7.7 5 7.7 -2.4z" style="fill:var(--k573)"/><path d="M52.3 -2.1l-7.7 2.4 -7.7 -5v-4.3l7.7 5 7.7 -2.4z" style="fill:var(--k574)"/><path d="M52.3 -6.3l-7.7 2.4 -7.7 -5v-4.3l7.7 5 7.7 -2.4z" style="fill:var(--k575)"/><path d="M52.3 -10.6l-7.7 2.4 -7.7 -5v-4.3l7.7 5 7.7 -2.4z" style="fill:var(--k576)"/><path d="M52.3 -14.9l-7.7 2.4 -7.7 -5v-4.3l7.7 5 7.7 -2.4z" style="fill:var(--k577)"/><path d="M44.6 -16.8l7.7 -2.4 -7.7 -5 -7.7 2.4z" style="fill:var(--k578)"/><path d="M44.6 13.1v-29.9" fill="none"/><path d="M177.2 20.7l-6.7 2.1 -4.4 -2.9v-4.2l4.4 2.9 6.7 -2.1z" style="fill:var(--k579)"/><path d="M177.2 16.4l-6.7 2.1 -4.4 -2.9v-4.2l4.4 2.9 6.7 -2.1z" style="fill:var(--k580)"/><path d="M177.2 12.2l-6.7 2.1 -4.4 -2.9v-4.2l4.4 2.9 6.7 -2.1z" style="fill:var(--k581)"/><path d="M177.2 8l-6.7 2.1 -4.4 -2.9v-4.2l4.4 2.9 6.7 -2.1z" style="fill:var(--k582)"/><path d="M170.6 5.8l6.7 -2.1 -4.4 -2.9 -6.7 2.1z" style="fill:var(--k583)"/><path d="M170.6 22.7v-16.9" fill="none"/><path d="M117 16l-6.6 2 -3.8 -2.5v-4.2l3.8 2.5 6.6 -2z" style="fill:var(--k584)"/><path d="M117 11.7l-6.6 2 -3.8 -2.5v-4.2l3.8 2.5 6.6 -2z" style="fill:var(--k585)"/><path d="M117 7.5l-6.6 2 -3.8 -2.5v-4.2l3.8 2.5 6.6 -2z" style="fill:var(--k586)"/><path d="M117 3.3l-6.6 2 -3.8 -2.5v-4.2l3.8 2.5 6.6 -2z" style="fill:var(--k587)"/><path d="M110.3 1.1l6.6 -2 -3.8 -2.5 -6.6 2z" style="fill:var(--k588)"/><path d="M110.3 18v-16.9" fill="none"/><path d="M245.8 26.7l-8.1 2.5 -3.6 -2.4v-4.2l3.6 2.4 8.1 -2.5z" style="fill:var(--k589)"/><path d="M245.8 22.4l-8.1 2.5 -3.6 -2.4v-4.2l3.6 2.4 8.1 -2.5z" style="fill:var(--k590)"/><path d="M245.8 18.2l-8.1 2.5 -3.6 -2.4v-4.2l3.6 2.4 8.1 -2.5z" style="fill:var(--k591)"/><path d="M245.8 14l-8.1 2.5 -3.6 -2.4v-4.2l3.6 2.4 8.1 -2.5z" style="fill:var(--k592)"/><path d="M237.6 12.3l8.1 -2.5 -3.6 -2.4 -8.1 2.5z" style="fill:var(--k593)"/><path d="M237.6 29.2v-16.9M241.7 27.9v-16.9" fill="none"/><path d="M231.9 27.3l-4.4 1.4 -4.8 -3.1v-4.2l4.8 3.1 4.4 -1.4z" style="fill:var(--k594)"/><path d="M231.9 23l-4.4 1.4 -4.8 -3.1v-4.2l4.8 3.1 4.4 -1.4z" style="fill:var(--k595)"/><path d="M231.9 18.8l-4.4 1.4 -4.8 -3.1v-4.2l4.8 3.1 4.4 -1.4z" style="fill:var(--k596)"/><path d="M231.9 14.6l-4.4 1.4 -4.8 -3.1v-4.2l4.8 3.1 4.4 -1.4z" style="fill:var(--k597)"/><path d="M231.9 10.4l-4.4 1.4 -4.8 -3.1v-4.2l4.8 3.1 4.4 -1.4z" style="fill:var(--k598)"/><path d="M227.5 7.5l4.4 -1.4 -4.8 -3.1 -4.4 1.4z" style="fill:var(--k599)"/><path d="M227.5 28.6v-21.1" fill="none"/><path d="M192.4 24.3l-5.2 1.6 -4.5 -2.9v-4.2l4.5 2.9 5.2 -1.6z" style="fill:var(--k600)"/><path d="M187.2 21.6l5.2 -1.6 -4.5 -2.9 -5.2 1.6z" style="fill:var(--k601)"/><path d="M187.2 25.9v-4.2" fill="none"/><path d="M80.6 15.3l-5.7 1.7 -6 -3.9v-4.2l6 3.9 5.7 -1.7z" style="fill:var(--k602)"/><path d="M80.6 11.1l-5.7 1.7 -6 -3.9v-4.2l6 3.9 5.7 -1.7z" style="fill:var(--k603)"/><path d="M80.6 6.8l-5.7 1.7 -6 -3.9v-4.2l6 3.9 5.7 -1.7z" style="fill:var(--k604)"/><path d="M80.6 2.6l-5.7 1.7 -6 -3.9v-4.2l6 3.9 5.7 -1.7z" style="fill:var(--k605)"/><path d="M74.9 0.2l5.7 -1.7 -6 -3.9 -5.7 1.7z" style="fill:var(--k606)"/><path d="M74.9 17v-16.9" fill="none"/><path d="M151.5 20.1l-8.8 2.7 -4 -2.6v-4.2l4 2.6 8.8 -2.7z" style="fill:var(--k607)"/><path d="M151.5 15.9l-8.8 2.7 -4 -2.6v-4.2l4 2.6 8.8 -2.7z" style="fill:var(--k608)"/><path d="M142.8 14.4l8.8 -2.7 -4 -2.6 -8.8 2.7z" style="fill:var(--k609)"/><path d="M142.8 22.8v-8.4M147.1 21.4v-8.4" fill="none"/><path d="M137.2 20.4l-7.7 2.4 -7.4 -4.9v-4.2l7.4 4.9 7.7 -2.4z" style="fill:var(--k610)"/><path d="M129.5 18.5l7.7 -2.4 -7.4 -4.9 -7.7 2.4z" style="fill:var(--k611)"/><path d="M129.5 22.8v-4.2" fill="none"/><path d="M63.1 13.8l-4.4 1.4 -4 -2.6v-3.9l4 2.6 4.4 -1.4z" style="fill:var(--k612)"/><path d="M63.1 9.9l-4.4 1.4 -4 -2.6v-3.9l4 2.6 4.4 -1.4z" style="fill:var(--k613)"/><path d="M63.1 6l-4.4 1.4 -4 -2.6v-3.9l4 2.6 4.4 -1.4z" style="fill:var(--k614)"/><path d="M63.1 2.1l-4.4 1.4 -4 -2.6v-3.9l4 2.6 4.4 -1.4z" style="fill:var(--k615)"/><path d="M63.1 -1.8l-4.4 1.4 -4 -2.6v-3.9l4 2.6 4.4 -1.4z" style="fill:var(--k616)"/><path d="M63.1 -5.8l-4.4 1.4 -4 -2.6v-3.9l4 2.6 4.4 -1.4z" style="fill:var(--k617)"/><path d="M58.7 -8.3l4.4 -1.4 -4 -2.6 -4.4 1.4z" style="fill:var(--k618)"/><path d="M58.7 15.2v-23.5" fill="none"/><path d="M107.7 17.9l-7.3 2.3 -5.7 -3.8v-4.2l5.7 3.8 7.3 -2.3z" style="fill:var(--k619)"/><path d="M107.7 13.7l-7.3 2.3 -5.7 -3.8v-4.2l5.7 3.8 7.3 -2.3z" style="fill:var(--k620)"/><path d="M107.7 9.4l-7.3 2.3 -5.7 -3.8v-4.2l5.7 3.8 7.3 -2.3z" style="fill:var(--k621)"/><path d="M100.3 7.5l7.3 -2.3 -5.7 -3.8 -7.3 2.3z" style="fill:var(--k622)"/><path d="M100.3 20.1v-12.7" fill="none"/><path d="M222 27.8l-6.1 1.9 -5.6 -3.6v-4.2l5.6 3.6 6.1 -1.9z" style="fill:var(--k623)"/><path d="M215.9 25.4l6.1 -1.9 -5.6 -3.6 -6.1 1.9z" style="fill:var(--k624)"/><path d="M215.9 29.7v-4.2" fill="none"/><path d="M277 32l-5.5 1.7 -3.3 -2.2v-4.2l3.3 2.2 5.5 -1.7z" style="fill:var(--k625)"/><path d="M277 27.7l-5.5 1.7 -3.3 -2.2v-4.2l3.3 2.2 5.5 -1.7z" style="fill:var(--k626)"/><path d="M277 23.5l-5.5 1.7 -3.3 -2.2v-4.2l3.3 2.2 5.5 -1.7z" style="fill:var(--k627)"/><path d="M277 19.3l-5.5 1.7 -3.3 -2.2v-4.2l3.3 2.2 5.5 -1.7z" style="fill:var(--k628)"/><path d="M277 15.1l-5.5 1.7 -3.3 -2.2v-4.2l3.3 2.2 5.5 -1.7z" style="fill:var(--k629)"/><path d="M271.5 12.6l5.5 -1.7 -3.3 -2.2 -5.5 1.7z" style="fill:var(--k630)"/><path d="M271.5 33.7v-21.1" fill="none"/><path d="M265.4 31l-7.8 2.4 -3.7 -2.4v-4.2l3.7 2.4 7.8 -2.4z" style="fill:var(--k631)"/><path d="M265.4 26.7l-7.8 2.4 -3.7 -2.4v-4.2l3.7 2.4 7.8 -2.4z" style="fill:var(--k632)"/><path d="M265.4 22.5l-7.8 2.4 -3.7 -2.4v-4.2l3.7 2.4 7.8 -2.4z" style="fill:var(--k633)"/><path d="M265.4 18.3l-7.8 2.4 -3.7 -2.4v-4.2l3.7 2.4 7.8 -2.4z" style="fill:var(--k634)"/><path d="M257.6 16.5l7.8 -2.4 -3.7 -2.4 -7.8 2.4z" style="fill:var(--k635)"/><path d="M257.6 33.4v-16.9" fill="none"/><path d="M208.2 27.2l-6.2 1.9 -4.9 -3.2v-4.2l4.9 3.2 6.2 -1.9z" style="fill:var(--k636)"/><path d="M202.1 24.8l6.2 -1.9 -4.9 -3.2 -6.2 1.9z" style="fill:var(--k637)"/><path d="M202.1 29.1v-4.2" fill="none"/><path d="M122.1 20l-5.2 1.6 -4.2 -2.8v-4.2l4.2 2.8 5.2 -1.6z" style="fill:var(--k638)"/><path d="M122.1 15.8l-5.2 1.6 -4.2 -2.8v-4.2l4.2 2.8 5.2 -1.6z" style="fill:var(--k639)"/><path d="M122.1 11.6l-5.2 1.6 -4.2 -2.8v-4.2l4.2 2.8 5.2 -1.6z" style="fill:var(--k640)"/><path d="M122.1 7.4l-5.2 1.6 -4.2 -2.8v-4.2l4.2 2.8 5.2 -1.6z" style="fill:var(--k641)"/><path d="M116.9 4.8l5.2 -1.6 -4.2 -2.8 -5.2 1.6z" style="fill:var(--k642)"/><path d="M116.9 21.6v-16.9" fill="none"/><path d="M184 25.8l-5.1 1.6 -5.6 -3.7v-4.2l5.6 3.7 5.1 -1.6z" style="fill:var(--k643)"/><path d="M178.9 23.2l5.1 -1.6 -5.6 -3.7 -5.1 1.6z" style="fill:var(--k644)"/><path d="M178.9 27.4v-4.2" fill="none"/><path d="M96.2 19l-5.3 1.6 -6.7 -4.4v-4.2l6.7 4.4 5.3 -1.6z" style="fill:var(--k645)"/><path d="M96.2 14.7l-5.3 1.6 -6.7 -4.4v-4.2l6.7 4.4 5.3 -1.6z" style="fill:var(--k646)"/><path d="M96.2 10.5l-5.3 1.6 -6.7 -4.4v-4.2l6.7 4.4 5.3 -1.6z" style="fill:var(--k647)"/><path d="M90.9 7.9l5.3 -1.6 -6.7 -4.4 -5.3 1.6z" style="fill:var(--k648)"/><path d="M90.9 20.6v-12.7" fill="none"/><path d="M238.3 30.4l-6.4 2 -4.3 -2.8v-4.2l4.3 2.8 6.4 -2z" style="fill:var(--k649)"/><path d="M238.3 26.2l-6.4 2 -4.3 -2.8v-4.2l4.3 2.8 6.4 -2z" style="fill:var(--k650)"/><path d="M238.3 22l-6.4 2 -4.3 -2.8v-4.2l4.3 2.8 6.4 -2z" style="fill:var(--k651)"/><path d="M238.3 17.8l-6.4 2 -4.3 -2.8v-4.2l4.3 2.8 6.4 -2z" style="fill:var(--k652)"/><path d="M231.8 15.5l6.4 -2 -4.3 -2.8 -6.4 2z" style="fill:var(--k653)"/><path d="M231.8 32.4v-16.9" fill="none"/><path d="M252.4 32.1l-5.8 1.8 -5.2 -3.4v-4.2l5.2 3.4 5.8 -1.8z" style="fill:var(--k654)"/><path d="M252.4 27.9l-5.8 1.8 -5.2 -3.4v-4.2l5.2 3.4 5.8 -1.8z" style="fill:var(--k655)"/><path d="M252.4 23.6l-5.8 1.8 -5.2 -3.4v-4.2l5.2 3.4 5.8 -1.8z" style="fill:var(--k656)"/><path d="M252.4 19.4l-5.8 1.8 -5.2 -3.4v-4.2l5.2 3.4 5.8 -1.8z" style="fill:var(--k657)"/><path d="M246.6 17l5.8 -1.8 -5.2 -3.4 -5.8 1.8z" style="fill:var(--k658)"/><path d="M246.6 33.9v-16.9" fill="none"/><path d="M283.4 36l-5.9 1.8 -4.8 -3.2v-4.2l4.8 3.2 5.9 -1.8z" style="fill:var(--k659)"/><path d="M283.4 31.7l-5.9 1.8 -4.8 -3.2v-4.2l4.8 3.2 5.9 -1.8z" style="fill:var(--k660)"/><path d="M283.4 27.5l-5.9 1.8 -4.8 -3.2v-4.2l4.8 3.2 5.9 -1.8z" style="fill:var(--k661)"/><path d="M277.5 25.1l5.9 -1.8 -4.8 -3.2 -5.9 1.8z" style="fill:var(--k662)"/><path d="M277.5 37.8v-12.7" fill="none"/><path d="M86.5 19.6l-4.8 1.5 -4.6 -3v-4.2l4.6 3 4.8 -1.5z" style="fill:var(--k663)"/><path d="M86.5 15.4l-4.8 1.5 -4.6 -3v-4.2l4.6 3 4.8 -1.5z" style="fill:var(--k664)"/><path d="M86.5 11.1l-4.8 1.5 -4.6 -3v-4.2l4.6 3 4.8 -1.5z" style="fill:var(--k665)"/><path d="M81.7 8.4l4.8 -1.5 -4.6 -3 -4.8 1.5z" style="fill:var(--k666)"/><path d="M81.7 21v-12.7" fill="none"/><path d="M227.4 31.3l-6.2 1.9 -4.7 -3.1v-4.2l4.7 3.1 6.2 -1.9z" style="fill:var(--k667)"/><path d="M227.4 27.1l-6.2 1.9 -4.7 -3.1v-4.2l4.7 3.1 6.2 -1.9z" style="fill:var(--k668)"/><path d="M227.4 22.8l-6.2 1.9 -4.7 -3.1v-4.2l4.7 3.1 6.2 -1.9z" style="fill:var(--k669)"/><path d="M227.4 18.6l-6.2 1.9 -4.7 -3.1v-4.2l4.7 3.1 6.2 -1.9z" style="fill:var(--k670)"/><path d="M221.2 16.3l6.2 -1.9 -4.7 -3.1 -6.2 1.9z" style="fill:var(--k671)"/><path d="M221.2 33.2v-16.9" fill="none"/><path d="M142.8 24l-7.9 2.4 -4.8 -3.1v-4.2l4.8 3.1 7.9 -2.4z" style="fill:var(--k672)"/><path d="M142.8 19.7l-7.9 2.4 -4.8 -3.1v-4.2l4.8 3.1 7.9 -2.4z" style="fill:var(--k673)"/><path d="M134.9 18l7.9 -2.4 -4.8 -3.1 -7.9 2.4z" style="fill:var(--k674)"/><path d="M134.9 26.4v-8.4" fill="none"/><path d="M271.6 35.8l-6.2 1.9 -5.4 -3.6v-4.2l5.4 3.6 6.2 -1.9z" style="fill:var(--k675)"/><path d="M271.6 31.6l-6.2 1.9 -5.4 -3.6v-4.2l5.4 3.6 6.2 -1.9z" style="fill:var(--k676)"/><path d="M265.4 29.2l6.2 -1.9 -5.4 -3.6 -6.2 1.9z" style="fill:var(--k677)"/><path d="M265.4 37.7v-8.4" fill="none"/><path d="M199.2 29.8l-4.5 1.4 -4.5 -2.9v-3.6l4.5 2.9 4.5 -1.4z" style="fill:var(--k678)"/><path d="M199.2 26.2l-4.5 1.4 -4.5 -2.9v-3.6l4.5 2.9 4.5 -1.4z" style="fill:var(--k679)"/><path d="M194.7 24l4.5 -1.4 -4.5 -2.9 -4.5 1.4z" style="fill:var(--k680)"/><path d="M194.7 31.2v-7.2" fill="none"/><path d="M178.7 28.2l-5 1.5 -5 -3.3v-4.3l5 3.3 5 -1.5z" style="fill:var(--k681)"/><path d="M178.7 23.9l-5 1.5 -5 -3.3v-4.3l5 3.3 5 -1.5z" style="fill:var(--k682)"/><path d="M173.7 21.1l5 -1.5 -5 -3.3 -5 1.5z" style="fill:var(--k683)"/><path d="M173.7 29.7v-8.6" fill="none"/><path d="M114.3 22.1l-7.6 2.3 -4.3 -2.8v-4.2l4.3 2.8 7.6 -2.3z" style="fill:var(--k684)"/><path d="M106.7 20.2l7.6 -2.3 -4.3 -2.8 -7.6 2.3z" style="fill:var(--k685)"/><path d="M106.7 24.4v-4.2" fill="none"/><path d="M129.1 24l-6.6 2 -4.5 -2.9v-4.2l4.5 2.9 6.6 -2z" style="fill:var(--k686)"/><path d="M122.6 21.8l6.6 -2 -4.5 -2.9 -6.6 2z" style="fill:var(--k687)"/><path d="M122.6 26v-4.2" fill="none"/><path d="M191.7 30l-6.8 2.1 -4.5 -3v-4.2l4.5 3 6.8 -2.1z" style="fill:var(--k688)"/><path d="M184.9 27.9l6.8 -2.1 -4.5 -3 -6.8 2.1z" style="fill:var(--k689)"/><path d="M184.9 32.1v-4.2" fill="none"/><path d="M78.7 20.9l-6 1.8 -5 -3.3v-4.3l5 3.3 6 -1.8z" style="fill:var(--k690)"/><path d="M78.7 16.6l-6 1.8 -5 -3.3v-4.3l5 3.3 6 -1.8z" style="fill:var(--k691)"/><path d="M78.7 12.3l-6 1.8 -5 -3.3v-4.3l5 3.3 6 -1.8z" style="fill:var(--k692)"/><path d="M78.7 8l-6 1.8 -5 -3.3v-4.3l5 3.3 6 -1.8z" style="fill:var(--k693)"/><path d="M78.7 3.8l-6 1.8 -5 -3.3v-4.3l5 3.3 6 -1.8z" style="fill:var(--k694)"/><path d="M78.7 -0.5l-6 1.8 -5 -3.3v-4.3l5 3.3 6 -1.8z" style="fill:var(--k695)"/><path d="M78.7 -4.8l-6 1.8 -5 -3.3v-4.3l5 3.3 6 -1.8z" style="fill:var(--k696)"/><path d="M72.7 -7.2l6 -1.8 -5 -3.3 -6 1.8z" style="fill:var(--k697)"/><path d="M72.7 22.7v-29.9" fill="none"/><path d="M244.4 34.6l-6.1 1.9 -4.3 -2.8v-4.2l4.3 2.8 6.1 -1.9z" style="fill:var(--k698)"/><path d="M238.3 32.3l6.1 -1.9 -4.3 -2.8 -6.1 1.9z" style="fill:var(--k699)"/><path d="M238.3 36.5v-4.2" fill="none"/><path d="M103.2 23.3l-5.9 1.8 -5.6 -3.7v-4.2l5.6 3.7 5.9 -1.8z" style="fill:var(--k700)"/><path d="M97.3 20.9l5.9 -1.8 -5.6 -3.7 -5.9 1.8z" style="fill:var(--k701)"/><path d="M97.3 25.1v-4.2" fill="none"/><path d="M259.2 36.3l-6.4 2 -4.7 -3.1v-4.2l4.7 3.1 6.4 -2z" style="fill:var(--k702)"/><path d="M259.2 32.1l-6.4 2 -4.7 -3.1v-4.2l4.7 3.1 6.4 -2z" style="fill:var(--k703)"/><path d="M252.8 29.8l6.4 -2 -4.7 -3.1 -6.4 2z" style="fill:var(--k704)"/><path d="M252.8 38.2v-8.4" fill="none"/><path d="M164.2 28.5l-8.5 2.6 -5.3 -3.5v-4.2l5.3 3.5 8.5 -2.6z" style="fill:var(--k705)"/><path d="M155.7 26.9l8.5 -2.6 -5.3 -3.5 -8.5 2.6z" style="fill:var(--k706)"/><path d="M155.7 31.2v-4.2M160 29.8v-4.2" fill="none"/><path d="M147.1 27.6l-6.2 1.9 -4 -2.6v-4.2l4 2.6 6.2 -1.9z" style="fill:var(--k707)"/><path d="M147.1 23.4l-6.2 1.9 -4 -2.6v-4.2l4 2.6 6.2 -1.9z" style="fill:var(--k708)"/><path d="M147.1 19.2l-6.2 1.9 -4 -2.6v-4.2l4 2.6 6.2 -1.9z" style="fill:var(--k709)"/><path d="M147.1 14.9l-6.2 1.9 -4 -2.6v-4.2l4 2.6 6.2 -1.9z" style="fill:var(--k710)"/><path d="M140.9 12.6l6.2 -1.9 -4 -2.6 -6.2 1.9z" style="fill:var(--k711)"/><path d="M140.9 29.5v-16.9" fill="none"/><path d="M234.5 35.9l-6.1 1.9 -6 -3.9v-4.2l6 3.9 6.1 -1.9z" style="fill:var(--k712)"/><path d="M228.3 33.6l6.1 -1.9 -6 -3.9 -6.1 1.9z" style="fill:var(--k713)"/><path d="M228.3 37.8v-4.2" fill="none"/><path d="M94 24l-5.8 1.8 -5 -3.3v-4.2l5 3.3 5.8 -1.8z" style="fill:var(--k714)"/><path d="M94 19.8l-5.8 1.8 -5 -3.3v-4.2l5 3.3 5.8 -1.8z" style="fill:var(--k715)"/><path d="M94 15.6l-5.8 1.8 -5 -3.3v-4.2l5 3.3 5.8 -1.8z" style="fill:var(--k716)"/><path d="M94 11.4l-5.8 1.8 -5 -3.3v-4.2l5 3.3 5.8 -1.8z" style="fill:var(--k717)"/><path d="M88.2 8.9l5.8 -1.8 -5 -3.3 -5.8 1.8z" style="fill:var(--k718)"/><path d="M88.2 25.8v-16.9" fill="none"/><path d="M276.9 39.2l-6.3 2 -3.8 -2.5v-4.2l3.8 2.5 6.3 -2z" style="fill:var(--k719)"/><path d="M276.9 35l-6.3 2 -3.8 -2.5v-4.2l3.8 2.5 6.3 -2z" style="fill:var(--k720)"/><path d="M270.6 32.7l6.3 -2 -3.8 -2.5 -6.3 2z" style="fill:var(--k721)"/><path d="M270.6 41.2v-8.4" fill="none"/><path d="M221.7 35.4l-7.5 2.3 -3.8 -2.5v-4.2l3.8 2.5 7.5 -2.3z" style="fill:var(--k722)"/><path d="M221.7 31.2l-7.5 2.3 -3.8 -2.5v-4.2l3.8 2.5 7.5 -2.3z" style="fill:var(--k723)"/><path d="M214.3 29.2l7.5 -2.3 -3.8 -2.5 -7.5 2.3z" style="fill:var(--k724)"/><path d="M214.3 37.7v-8.4" fill="none"/><path d="M196.9 33.8l-6.1 1.9 -3.5 -2.3v-4.2l3.5 2.3 6.1 -1.9z" style="fill:var(--k725)"/><path d="M190.9 31.5l6.1 -1.9 -3.5 -2.3 -6.1 1.9z" style="fill:var(--k726)"/><path d="M190.9 35.7v-4.2" fill="none"/><path d="M266.4 40.7l-7 2.1 -5.7 -3.7v-4.2l5.7 3.7 7 -2.1z" style="fill:var(--k727)"/><path d="M266.4 36.5l-7 2.1 -5.7 -3.7v-4.2l5.7 3.7 7 -2.1z" style="fill:var(--k728)"/><path d="M266.4 32.3l-7 2.1 -5.7 -3.7v-4.2l5.7 3.7 7 -2.1z" style="fill:var(--k729)"/><path d="M266.4 28l-7 2.1 -5.7 -3.7v-4.2l5.7 3.7 7 -2.1z" style="fill:var(--k730)"/><path d="M266.4 23.8l-7 2.1 -5.7 -3.7v-4.2l5.7 3.7 7 -2.1z" style="fill:var(--k731)"/><path d="M266.4 19.6l-7 2.1 -5.7 -3.7v-4.2l5.7 3.7 7 -2.1z" style="fill:var(--k732)"/><path d="M266.4 15.4l-7 2.1 -5.7 -3.7v-4.2l5.7 3.7 7 -2.1z" style="fill:var(--k733)"/><path d="M259.4 13.3l7 -2.1 -5.7 -3.7 -7 2.1z" style="fill:var(--k734)"/><path d="M259.4 42.9v-29.5" fill="none"/><path d="M184 33.2l-7.1 2.2 -3.6 -2.4v-4.2l3.6 2.4 7.1 -2.2z" style="fill:var(--k735)"/><path d="M176.9 31.2l7.1 -2.2 -3.6 -2.4 -7.1 2.2z" style="fill:var(--k736)"/><path d="M176.9 35.4v-4.2" fill="none"/><path d="M251.9 40.3l-4.5 1.4 -6.3 -4.2v-4.2l6.3 4.2 4.5 -1.4z" style="fill:var(--k737)"/><path d="M251.9 36.1l-4.5 1.4 -6.3 -4.2v-4.2l6.3 4.2 4.5 -1.4z" style="fill:var(--k738)"/><path d="M247.5 33.3l4.5 -1.4 -6.3 -4.2 -4.5 1.4z" style="fill:var(--k739)"/><path d="M247.5 41.7v-8.4" fill="none"/><path d="M153.1 31.2l-6.9 2.1 -3.6 -2.4v-4.2l3.6 2.4 6.9 -2.1z" style="fill:var(--k740)"/><path d="M153.1 27l-6.9 2.1 -3.6 -2.4v-4.2l3.6 2.4 6.9 -2.1z" style="fill:var(--k741)"/><path d="M153.1 22.8l-6.9 2.1 -3.6 -2.4v-4.2l3.6 2.4 6.9 -2.1z" style="fill:var(--k742)"/><path d="M153.1 18.5l-6.9 2.1 -3.6 -2.4v-4.2l3.6 2.4 6.9 -2.1z" style="fill:var(--k743)"/><path d="M153.1 14.3l-6.9 2.1 -3.6 -2.4v-4.2l3.6 2.4 6.9 -2.1z" style="fill:var(--k744)"/><path d="M153.1 10.1l-6.9 2.1 -3.6 -2.4v-4.2l3.6 2.4 6.9 -2.1z" style="fill:var(--k745)"/><path d="M146.2 8l6.9 -2.1 -3.6 -2.4 -6.9 2.1z" style="fill:var(--k746)"/><path d="M146.2 33.3v-25.3" fill="none"/><path d="M241.2 40.6l-5.6 1.7 -5.7 -3.7v-4.2l5.7 3.7 5.6 -1.7z" style="fill:var(--k747)"/><path d="M241.2 36.4l-5.6 1.7 -5.7 -3.7v-4.2l5.7 3.7 5.6 -1.7z" style="fill:var(--k748)"/><path d="M241.2 32.2l-5.6 1.7 -5.7 -3.7v-4.2l5.7 3.7 5.6 -1.7z" style="fill:var(--k749)"/><path d="M235.6 29.7l5.6 -1.7 -5.7 -3.7 -5.6 1.7z" style="fill:var(--k750)"/><path d="M235.6 42.3v-12.7" fill="none"/><path d="M102.5 29.6l-5.7 1.7 -6.5 -4.2v-4.2l6.5 4.2 5.7 -1.7z" style="fill:var(--k751)"/><path d="M102.5 25.4l-5.7 1.7 -6.5 -4.2v-4.2l6.5 4.2 5.7 -1.7z" style="fill:var(--k752)"/><path d="M102.5 21.2l-5.7 1.7 -6.5 -4.2v-4.2l6.5 4.2 5.7 -1.7z" style="fill:var(--k753)"/><path d="M96.8 18.7l5.7 -1.7 -6.5 -4.2 -5.7 1.7z" style="fill:var(--k754)"/><path d="M96.8 31.4v-12.7" fill="none"/><path d="M142.7 32.8l-6.7 2.1 -5.4 -3.5v-4.2l5.4 3.5 6.7 -2.1z" style="fill:var(--k755)"/><path d="M136 30.6l6.7 -2.1 -5.4 -3.5 -6.7 2.1z" style="fill:var(--k756)"/><path d="M136 34.8v-4.2" fill="none"/><path d="M189.6 37.6l-5.4 1.7 -4.5 -3v-4.2l4.5 3 5.4 -1.7z" style="fill:var(--k757)"/><path d="M184.1 35.1l5.4 -1.7 -4.5 -3 -5.4 1.7z" style="fill:var(--k758)"/><path d="M184.1 39.3v-4.2" fill="none"/><path d="M116.1 31.8l-5.8 1.8 -4.8 -3.2v-4.2l4.8 3.2 5.8 -1.8z" style="fill:var(--k759)"/><path d="M116.1 27.6l-5.8 1.8 -4.8 -3.2v-4.2l4.8 3.2 5.8 -1.8z" style="fill:var(--k760)"/><path d="M116.1 23.3l-5.8 1.8 -4.8 -3.2v-4.2l4.8 3.2 5.8 -1.8z" style="fill:var(--k761)"/><path d="M116.1 19.1l-5.8 1.8 -4.8 -3.2v-4.2l4.8 3.2 5.8 -1.8z" style="fill:var(--k762)"/><path d="M116.1 14.9l-5.8 1.8 -4.8 -3.2v-4.2l4.8 3.2 5.8 -1.8z" style="fill:var(--k763)"/><path d="M116.1 10.7l-5.8 1.8 -4.8 -3.2v-4.2l4.8 3.2 5.8 -1.8z" style="fill:var(--k764)"/><path d="M116.1 6.4l-5.8 1.8 -4.8 -3.2v-4.2l4.8 3.2 5.8 -1.8z" style="fill:var(--k765)"/><path d="M110.3 4l5.8 -1.8 -4.8 -3.2 -5.8 1.8z" style="fill:var(--k766)"/><path d="M110.3 33.6v-29.5" fill="none"/><path d="M258.3 43.5l-6.4 2 -4.1 -2.7v-4.2l4.1 2.7 6.4 -2z" style="fill:var(--k767)"/><path d="M258.3 39.3l-6.4 2 -4.1 -2.7v-4.2l4.1 2.7 6.4 -2z" style="fill:var(--k768)"/><path d="M258.3 35.1l-6.4 2 -4.1 -2.7v-4.2l4.1 2.7 6.4 -2z" style="fill:var(--k769)"/><path d="M258.3 30.9l-6.4 2 -4.1 -2.7v-4.2l4.1 2.7 6.4 -2z" style="fill:var(--k770)"/><path d="M251.9 28.6l6.4 -2 -4.1 -2.7 -6.4 2z" style="fill:var(--k771)"/><path d="M251.9 45.5v-16.9" fill="none"/><path d="M175.6 37.1l-6.2 1.9 -3.8 -2.5v-4.2l3.8 2.5 6.2 -1.9z" style="fill:var(--k772)"/><path d="M169.4 34.8l6.2 -1.9 -3.8 -2.5 -6.2 1.9z" style="fill:var(--k773)"/><path d="M169.4 39v-4.2" fill="none"/><path d="M132.3 34.6l-6 1.8 -5 -3.3v-4.2l5 3.3 6 -1.8z" style="fill:var(--k774)"/><path d="M132.3 30.4l-6 1.8 -5 -3.3v-4.2l5 3.3 6 -1.8z" style="fill:var(--k775)"/><path d="M132.3 26.2l-6 1.8 -5 -3.3v-4.2l5 3.3 6 -1.8z" style="fill:var(--k776)"/><path d="M132.3 22l-6 1.8 -5 -3.3v-4.2l5 3.3 6 -1.8z" style="fill:var(--k777)"/><path d="M126.3 19.6l6 -1.8 -5 -3.3 -6 1.8z" style="fill:var(--k778)"/><path d="M126.3 36.5v-16.9" fill="none"/><path d="M248.6 45.2l-6 1.8 -5.4 -3.6v-4.2l5.4 3.6 6 -1.8z" style="fill:var(--k779)"/><path d="M242.6 42.8l6 -1.8 -5.4 -3.6 -6 1.8z" style="fill:var(--k780)"/><path d="M242.6 47.1v-4.2" fill="none"/><path d="M107.6 32.6l-6.4 2 -3.1 -2v-4.2l3.1 2 6.4 -2z" style="fill:var(--k781)"/><path d="M101.2 30.4l6.4 -2 -3.1 -2 -6.4 2z" style="fill:var(--k782)"/><path d="M101.2 34.6v-4.2" fill="none"/><path d="M220.9 42.9l-5.3 1.6 -4.9 -3.2v-4.2l4.9 3.2 5.3 -1.6z" style="fill:var(--k783)"/><path d="M220.9 38.7l-5.3 1.6 -4.9 -3.2v-4.2l4.9 3.2 5.3 -1.6z" style="fill:var(--k784)"/><path d="M220.9 34.5l-5.3 1.6 -4.9 -3.2v-4.2l4.9 3.2 5.3 -1.6z" style="fill:var(--k785)"/><path d="M220.9 30.2l-5.3 1.6 -4.9 -3.2v-4.2l4.9 3.2 5.3 -1.6z" style="fill:var(--k786)"/><path d="M220.9 26l-5.3 1.6 -4.9 -3.2v-4.2l4.9 3.2 5.3 -1.6z" style="fill:var(--k787)"/><path d="M220.9 21.8l-5.3 1.6 -4.9 -3.2v-4.2l4.9 3.2 5.3 -1.6z" style="fill:var(--k788)"/><path d="M215.7 19.2l5.3 -1.6 -4.9 -3.2 -5.3 1.6z" style="fill:var(--k789)"/><path d="M215.7 44.5v-25.3" fill="none"/><path d="M235.2 44.3l-7.3 2.3 -4 -2.6v-4.2l4 2.6 7.3 -2.3z" style="fill:var(--k790)"/><path d="M235.2 40l-7.3 2.3 -4 -2.6v-4.2l4 2.6 7.3 -2.3z" style="fill:var(--k791)"/><path d="M235.2 35.8l-7.3 2.3 -4 -2.6v-4.2l4 2.6 7.3 -2.3z" style="fill:var(--k792)"/><path d="M235.2 31.6l-7.3 2.3 -4 -2.6v-4.2l4 2.6 7.3 -2.3z" style="fill:var(--k793)"/><path d="M235.2 27.4l-7.3 2.3 -4 -2.6v-4.2l4 2.6 7.3 -2.3z" style="fill:var(--k794)"/><path d="M235.2 23.2l-7.3 2.3 -4 -2.6v-4.2l4 2.6 7.3 -2.3z" style="fill:var(--k795)"/><path d="M235.2 18.9l-7.3 2.3 -4 -2.6v-4.2l4 2.6 7.3 -2.3z" style="fill:var(--k796)"/><path d="M227.9 17l7.3 -2.3 -4 -2.6 -7.3 2.3z" style="fill:var(--k797)"/><path d="M227.9 46.5v-29.5" fill="none"/><path d="M121.9 36l-4.9 1.5 -4.8 -3.1v-4.2l4.8 3.1 4.9 -1.5z" style="fill:var(--k798)"/><path d="M116.9 33.3l4.9 -1.5 -4.8 -3.1 -4.9 1.5z" style="fill:var(--k799)"/><path d="M116.9 37.5v-4.2" fill="none"/><path d="M264.9 48.4l-5.3 1.6 -6.3 -4.1v-4.2l6.3 4.1 5.3 -1.6z" style="fill:var(--k800)"/><path d="M259.6 45.8l5.3 -1.6 -6.3 -4.1 -5.3 1.6z" style="fill:var(--k801)"/><path d="M259.6 50.1v-4.2" fill="none"/><path d="M166.2 40.3l-5.7 1.8 -4.7 -3.1v-4.2l4.7 3.1 5.7 -1.8z" style="fill:var(--k802)"/><path d="M166.2 36.1l-5.7 1.8 -4.7 -3.1v-4.2l4.7 3.1 5.7 -1.8z" style="fill:var(--k803)"/><path d="M166.2 31.9l-5.7 1.8 -4.7 -3.1v-4.2l4.7 3.1 5.7 -1.8z" style="fill:var(--k804)"/><path d="M166.2 27.6l-5.7 1.8 -4.7 -3.1v-4.2l4.7 3.1 5.7 -1.8z" style="fill:var(--k805)"/><path d="M166.2 23.4l-5.7 1.8 -4.7 -3.1v-4.2l4.7 3.1 5.7 -1.8z" style="fill:var(--k806)"/><path d="M166.2 19.2l-5.7 1.8 -4.7 -3.1v-4.2l4.7 3.1 5.7 -1.8z" style="fill:var(--k807)"/><path d="M166.2 15l-5.7 1.8 -4.7 -3.1v-4.2l4.7 3.1 5.7 -1.8z" style="fill:var(--k808)"/><path d="M160.4 12.5l5.7 -1.8 -4.7 -3.1 -5.7 1.8z" style="fill:var(--k809)"/><path d="M160.4 42.1v-29.5" fill="none"/><path d="M183 41.7l-6.8 2.1 -4.9 -3.2v-4.2l4.9 3.2 6.8 -2.1z" style="fill:var(--k810)"/><path d="M176.2 39.5l6.8 -2.1 -4.9 -3.2 -6.8 2.1z" style="fill:var(--k811)"/><path d="M176.2 43.8v-4.2" fill="none"/><path d="M154.2 39.8l-4.5 1.4 -4.5 -2.9v-4.1l4.5 2.9 4.5 -1.4z" style="fill:var(--k812)"/><path d="M154.2 35.8l-4.5 1.4 -4.5 -2.9v-4.1l4.5 2.9 4.5 -1.4z" style="fill:var(--k813)"/><path d="M154.2 31.7l-4.5 1.4 -4.5 -2.9v-4.1l4.5 2.9 4.5 -1.4z" style="fill:var(--k814)"/><path d="M149.7 29l4.5 -1.4 -4.5 -2.9 -4.5 1.4z" style="fill:var(--k815)"/><path d="M149.7 41.2v-12.2" fill="none"/><path d="M115.3 38.3l-5.1 1.6 -6.7 -4.4v-4.2l6.7 4.4 5.1 -1.6z" style="fill:var(--k816)"/><path d="M115.3 34l-5.1 1.6 -6.7 -4.4v-4.2l6.7 4.4 5.1 -1.6z" style="fill:var(--k817)"/><path d="M115.3 29.8l-5.1 1.6 -6.7 -4.4v-4.2l6.7 4.4 5.1 -1.6z" style="fill:var(--k818)"/><path d="M115.3 25.6l-5.1 1.6 -6.7 -4.4v-4.2l6.7 4.4 5.1 -1.6z" style="fill:var(--k819)"/><path d="M110.2 22.9l5.1 -1.6 -6.7 -4.4 -5.1 1.6z" style="fill:var(--k820)"/><path d="M110.2 39.8v-16.9" fill="none"/><path d="M226.3 47l-4.1 1.3 -3.6 -2.4v-4.2l3.6 2.4 4.1 -1.3z" style="fill:var(--k821)"/><path d="M226.3 42.7l-4.1 1.3 -3.6 -2.4v-4.2l3.6 2.4 4.1 -1.3z" style="fill:var(--k822)"/><path d="M222.2 39.8l4.1 -1.3 -3.6 -2.4 -4.1 1.3z" style="fill:var(--k823)"/><path d="M222.2 48.2v-8.4" fill="none"/><path d="M216.6 46.9l-5.6 1.7 -5.8 -3.8v-4.2l5.8 3.8 5.6 -1.7z" style="fill:var(--k824)"/><path d="M216.6 42.7l-5.6 1.7 -5.8 -3.8v-4.2l5.8 3.8 5.6 -1.7z" style="fill:var(--k825)"/><path d="M216.6 38.5l-5.6 1.7 -5.8 -3.8v-4.2l5.8 3.8 5.6 -1.7z" style="fill:var(--k826)"/><path d="M211 36l5.6 -1.7 -5.8 -3.8 -5.6 1.7z" style="fill:var(--k827)"/><path d="M211 48.7v-12.7" fill="none"/><path d="M241.4 49.2l-5.4 1.7 -4.5 -2.9v-4.2l4.5 2.9 5.4 -1.7z" style="fill:var(--k828)"/><path d="M235.9 46.7l5.4 -1.7 -4.5 -2.9 -5.4 1.7z" style="fill:var(--k829)"/><path d="M235.9 50.9v-4.2" fill="none"/><path d="M126.9 39.7l-4.2 1.3 -3.7 -2.5v-4.2l3.7 2.5 4.2 -1.3z" style="fill:var(--k830)"/><path d="M122.7 36.7l4.2 -1.3 -3.7 -2.5 -4.2 1.3z" style="fill:var(--k831)"/><path d="M122.7 40.9v-4.2" fill="none"/><path d="M170.7 43.1l-6.1 1.9 -3.2 -2.1v-4.2l3.2 2.1 6.1 -1.9z" style="fill:var(--k832)"/><path d="M164.7 40.8l6.1 -1.9 -3.2 -2.1 -6.1 1.9z" style="fill:var(--k833)"/><path d="M164.7 45v-4.2" fill="none"/><path d="M205.4 47.8l-5.8 1.8 -6.7 -4.4v-4.2l6.7 4.4 5.8 -1.8z" style="fill:var(--k834)"/><path d="M205.4 43.6l-5.8 1.8 -6.7 -4.4v-4.2l6.7 4.4 5.8 -1.8z" style="fill:var(--k835)"/><path d="M205.4 39.4l-5.8 1.8 -6.7 -4.4v-4.2l6.7 4.4 5.8 -1.8z" style="fill:var(--k836)"/><path d="M205.4 35.2l-5.8 1.8 -6.7 -4.4v-4.2l6.7 4.4 5.8 -1.8z" style="fill:var(--k837)"/><path d="M205.4 31l-5.8 1.8 -6.7 -4.4v-4.2l6.7 4.4 5.8 -1.8z" style="fill:var(--k838)"/><path d="M205.4 26.7l-5.8 1.8 -6.7 -4.4v-4.2l6.7 4.4 5.8 -1.8z" style="fill:var(--k839)"/><path d="M205.4 22.5l-5.8 1.8 -6.7 -4.4v-4.2l6.7 4.4 5.8 -1.8z" style="fill:var(--k840)"/><path d="M199.6 20.1l5.8 -1.8 -6.7 -4.4 -5.8 1.8z" style="fill:var(--k841)"/><path d="M199.6 49.6v-29.5" fill="none"/><path d="M191.3 46.2l-8.6 2.7 -5.3 -3.5v-4.2l5.3 3.5 8.6 -2.7z" style="fill:var(--k842)"/><path d="M182.7 44.6l8.6 -2.7 -5.3 -3.5 -8.6 2.7z" style="fill:var(--k843)"/><path d="M182.7 48.9v-4.2M187 47.5v-4.2" fill="none"/><path d="M145.7 43l-6.8 2.1 -3.5 -2.3v-4.2l3.5 2.3 6.8 -2.1z" style="fill:var(--k844)"/><path d="M138.9 40.9l6.8 -2.1 -3.5 -2.3 -6.8 2.1z" style="fill:var(--k845)"/><path d="M138.9 45.1v-4.2" fill="none"/><path d="M132.2 43.2l-4 1.2 -3.5 -2.3v-4.2l3.5 2.3 4 -1.2z" style="fill:var(--k846)"/><path d="M128.2 40.2l4 -1.2 -3.5 -2.3 -4 1.2z" style="fill:var(--k847)"/><path d="M128.2 44.4v-4.2" fill="none"/><path d="M248.6 53.4l-6.6 2 -4.8 -3.2v-4.2l4.8 3.2 6.6 -2z" style="fill:var(--k848)"/><path d="M248.6 49.2l-6.6 2 -4.8 -3.2v-4.2l4.8 3.2 6.6 -2z" style="fill:var(--k849)"/><path d="M242 47l6.6 -2 -4.8 -3.2 -6.6 2z" style="fill:var(--k850)"/><path d="M242 55.4v-8.4" fill="none"/><path d="M211.4 51.6l-6.1 1.9 -5 -3.3v-4.2l5 3.3 6.1 -1.9z" style="fill:var(--k851)"/><path d="M211.4 47.4l-6.1 1.9 -5 -3.3v-4.2l5 3.3 6.1 -1.9z" style="fill:var(--k852)"/><path d="M205.3 45l6.1 -1.9 -5 -3.3 -6.1 1.9z" style="fill:var(--k853)"/><path d="M205.3 53.5v-8.4" fill="none"/><path d="M153.6 47.3l-8.6 2.7 -5.6 -3.6v-4.2l5.6 3.6 8.6 -2.7z" style="fill:var(--k854)"/><path d="M145 45.7l8.6 -2.7 -5.6 -3.6 -8.6 2.7z" style="fill:var(--k855)"/><path d="M145 50v-4.2M149.3 48.6v-4.2" fill="none"/><path d="M138.1 46.6l-5.1 1.6 -3.7 -2.4v-4.2l3.7 2.4 5.1 -1.6z" style="fill:var(--k856)"/><path d="M138.1 42.3l-5.1 1.6 -3.7 -2.4v-4.2l3.7 2.4 5.1 -1.6z" style="fill:var(--k857)"/><path d="M133.1 39.7l5.1 -1.6 -3.7 -2.4 -5.1 1.6z" style="fill:var(--k858)"/><path d="M133.1 48.1v-8.4" fill="none"/><path d="M239.6 55.3l-5 1.5 -4.2 -2.7v-4.2l4.2 2.7 5 -1.5z" style="fill:var(--k859)"/><path d="M239.6 51l-5 1.5 -4.2 -2.7v-4.2l4.2 2.7 5 -1.5z" style="fill:var(--k860)"/><path d="M239.6 46.8l-5 1.5 -4.2 -2.7v-4.2l4.2 2.7 5 -1.5z" style="fill:var(--k861)"/><path d="M234.7 44.1l5 -1.5 -4.2 -2.7 -5 1.5z" style="fill:var(--k862)"/><path d="M234.7 56.8v-12.7" fill="none"/><path d="M129.7 47.5l-5.6 1.7 -6.5 -4.3v-4.2l6.5 4.3 5.6 -1.7z" style="fill:var(--k863)"/><path d="M129.7 43.2l-5.6 1.7 -6.5 -4.3v-4.2l6.5 4.3 5.6 -1.7z" style="fill:var(--k864)"/><path d="M129.7 39l-5.6 1.7 -6.5 -4.3v-4.2l6.5 4.3 5.6 -1.7z" style="fill:var(--k865)"/><path d="M129.7 34.8l-5.6 1.7 -6.5 -4.3v-4.2l6.5 4.3 5.6 -1.7z" style="fill:var(--k866)"/><path d="M129.7 30.6l-5.6 1.7 -6.5 -4.3v-4.2l6.5 4.3 5.6 -1.7z" style="fill:var(--k867)"/><path d="M129.7 26.4l-5.6 1.7 -6.5 -4.3v-4.2l6.5 4.3 5.6 -1.7z" style="fill:var(--k868)"/><path d="M124.1 23.9l5.6 -1.7 -6.5 -4.3 -5.6 1.7z" style="fill:var(--k869)"/><path d="M124.1 49.2v-25.3" fill="none"/><path d="M108.6 46.6l-5.3 1.6 -5.7 -3.8v-4.2l5.7 3.8 5.3 -1.6z" style="fill:var(--k870)"/><path d="M103.3 44l5.3 -1.6 -5.7 -3.8 -5.3 1.6z" style="fill:var(--k871)"/><path d="M103.3 48.3v-4.2" fill="none"/><path d="M187.2 53l-7.9 2.4 -6.3 -4.1v-4.2l6.3 4.1 7.9 -2.4z" style="fill:var(--k872)"/><path d="M187.2 48.8l-7.9 2.4 -6.3 -4.1v-4.2l6.3 4.1 7.9 -2.4z" style="fill:var(--k873)"/><path d="M179.3 47l7.9 -2.4 -6.3 -4.1 -7.9 2.4z" style="fill:var(--k874)"/><path d="M179.3 55.4v-8.4" fill="none"/><path d="M171.1 51.9l-5.6 1.7 -5.5 -3.6v-4.2l5.5 3.6 5.6 -1.7z" style="fill:var(--k875)"/><path d="M165.5 49.4l5.6 -1.7 -5.5 -3.6 -5.6 1.7z" style="fill:var(--k876)"/><path d="M165.5 53.6v-4.2" fill="none"/><path d="M218.3 56.1l-6.1 1.9 -5.7 -3.8v-4.2l5.7 3.8 6.1 -1.9z" style="fill:var(--k877)"/><path d="M212.1 53.8l6.1 -1.9 -5.7 -3.8 -6.1 1.9z" style="fill:var(--k878)"/><path d="M212.1 58v-4.2" fill="none"/><path d="M158.7 50.9l-8.1 2.5 -4 -2.6v-4.2l4 2.6 8.1 -2.5z" style="fill:var(--k879)"/><path d="M158.7 46.7l-8.1 2.5 -4 -2.6v-4.2l4 2.6 8.1 -2.5z" style="fill:var(--k880)"/><path d="M150.6 45l8.1 -2.5 -4 -2.6 -8.1 2.5z" style="fill:var(--k881)"/><path d="M150.6 53.4v-8.4M154.7 52.2v-8.4" fill="none"/><path d="M144.5 51.1l-4.4 1.4 -4.6 -3v-4.2l4.6 3 4.4 -1.4z" style="fill:var(--k882)"/><path d="M144.5 46.8l-4.4 1.4 -4.6 -3v-4.2l4.6 3 4.4 -1.4z" style="fill:var(--k883)"/><path d="M144.5 42.6l-4.4 1.4 -4.6 -3v-4.2l4.6 3 4.4 -1.4z" style="fill:var(--k884)"/><path d="M140.1 39.8l4.4 -1.4 -4.6 -3 -4.4 1.4z" style="fill:var(--k885)"/><path d="M140.1 52.4v-12.7" fill="none"/><path d="M176.1 54.8l-6.3 1.9 -3.3 -2.2v-4.2l3.3 2.2 6.3 -1.9z" style="fill:var(--k886)"/><path d="M176.1 50.6l-6.3 1.9 -3.3 -2.2v-4.2l3.3 2.2 6.3 -1.9z" style="fill:var(--k887)"/><path d="M176.1 46.4l-6.3 1.9 -3.3 -2.2v-4.2l3.3 2.2 6.3 -1.9z" style="fill:var(--k888)"/><path d="M176.1 42.2l-6.3 1.9 -3.3 -2.2v-4.2l3.3 2.2 6.3 -1.9z" style="fill:var(--k889)"/><path d="M176.1 37.9l-6.3 1.9 -3.3 -2.2v-4.2l3.3 2.2 6.3 -1.9z" style="fill:var(--k890)"/><path d="M169.8 35.7l6.3 -1.9 -3.3 -2.2 -6.3 1.9z" style="fill:var(--k891)"/><path d="M169.8 56.8v-21.1" fill="none"/><path d="M208.8 58.6l-6.6 2 -5.2 -3.4v-4.2l5.2 3.4 6.6 -2z" style="fill:var(--k892)"/><path d="M208.8 54.4l-6.6 2 -5.2 -3.4v-4.2l5.2 3.4 6.6 -2z" style="fill:var(--k893)"/><path d="M208.8 50.2l-6.6 2 -5.2 -3.4v-4.2l5.2 3.4 6.6 -2z" style="fill:var(--k894)"/><path d="M208.8 45.9l-6.6 2 -5.2 -3.4v-4.2l5.2 3.4 6.6 -2z" style="fill:var(--k895)"/><path d="M208.8 41.7l-6.6 2 -5.2 -3.4v-4.2l5.2 3.4 6.6 -2z" style="fill:var(--k896)"/><path d="M202.1 39.5l6.6 -2 -5.2 -3.4 -6.6 2z" style="fill:var(--k897)"/><path d="M202.1 60.6v-21.1" fill="none"/><path d="M193.1 58l-5.7 1.7 -5.9 -3.9v-4.2l5.9 3.9 5.7 -1.7z" style="fill:var(--k898)"/><path d="M193.1 53.8l-5.7 1.7 -5.9 -3.9v-4.2l5.9 3.9 5.7 -1.7z" style="fill:var(--k899)"/><path d="M187.4 51.3l5.7 -1.7 -5.9 -3.9 -5.7 1.7z" style="fill:var(--k900)"/><path d="M187.4 59.7v-8.4" fill="none"/><path d="M224.5 60.2l-6.2 1.9 -4.5 -3v-4.2l4.5 3 6.2 -1.9z" style="fill:var(--k901)"/><path d="M224.5 55.9l-6.2 1.9 -4.5 -3v-4.2l4.5 3 6.2 -1.9z" style="fill:var(--k902)"/><path d="M224.5 51.7l-6.2 1.9 -4.5 -3v-4.2l4.5 3 6.2 -1.9z" style="fill:var(--k903)"/><path d="M224.5 47.5l-6.2 1.9 -4.5 -3v-4.2l4.5 3 6.2 -1.9z" style="fill:var(--k904)"/><path d="M218.3 45.2l6.2 -1.9 -4.5 -3 -6.2 1.9z" style="fill:var(--k905)"/><path d="M218.3 62.1v-16.9" fill="none"/><path d="M163.2 55l-5.8 1.8 -3.7 -2.4v-4.2l3.7 2.4 5.8 -1.8z" style="fill:var(--k906)"/><path d="M163.2 50.8l-5.8 1.8 -3.7 -2.4v-4.2l3.7 2.4 5.8 -1.8z" style="fill:var(--k907)"/><path d="M163.2 46.6l-5.8 1.8 -3.7 -2.4v-4.2l3.7 2.4 5.8 -1.8z" style="fill:var(--k908)"/><path d="M157.4 44.1l5.8 -1.8 -3.7 -2.4 -5.8 1.8z" style="fill:var(--k909)"/><path d="M157.4 56.8v-12.7" fill="none"/><path d="M151.8 55.7l-4.6 1.4 -4.6 -3v-4.2l4.6 3 4.6 -1.4z" style="fill:var(--k910)"/><path d="M151.8 51.5l-4.6 1.4 -4.6 -3v-4.2l4.6 3 4.6 -1.4z" style="fill:var(--k911)"/><path d="M147.2 48.7l4.6 -1.4 -4.6 -3 -4.6 1.4z" style="fill:var(--k912)"/><path d="M147.2 57.1v-8.4" fill="none"/><path d="M123.3 50.8l-21.6 6.6 -6.5 -4.3v-4.5l6.5 4.3 21.6 -6.6z" style="fill:var(--k913)"/><path d="M123.3 46.3l-21.6 6.6 -6.5 -4.3v-4.5l6.5 4.3 21.6 -6.6z" style="fill:var(--k914)"/><path d="M123.3 41.8l-21.6 6.6 -6.5 -4.3v-4.5l6.5 4.3 21.6 -6.6z" style="fill:var(--k915)"/><path d="M123.3 37.3l-21.6 6.6 -6.5 -4.3v-4.5l6.5 4.3 21.6 -6.6z" style="fill:var(--k916)"/><path d="M123.3 32.8l-21.6 6.6 -6.5 -4.3v-4.5l6.5 4.3 21.6 -6.6z" style="fill:var(--k917)"/><path d="M123.3 28.3l-21.6 6.6 -6.5 -4.3v-4.5l6.5 4.3 21.6 -6.6z" style="fill:var(--k918)"/><path d="M101.7 30.5l21.6 -6.6 -6.5 -4.3 -21.6 6.6z" style="fill:var(--k919)"/><path d="M101.7 57.4v-26.9M108.9 55.2v-26.9M116.1 53v-26.9" fill="none"/><path d="M216.5 63.1l-7.8 2.4 -5.9 -3.8v-4.2l5.9 3.8 7.8 -2.4z" style="fill:var(--k920)"/><path d="M216.5 58.9l-7.8 2.4 -5.9 -3.8v-4.2l5.9 3.8 7.8 -2.4z" style="fill:var(--k921)"/><path d="M216.5 54.6l-7.8 2.4 -5.9 -3.8v-4.2l5.9 3.8 7.8 -2.4z" style="fill:var(--k922)"/><path d="M208.7 52.8l7.8 -2.4 -5.9 -3.8 -7.8 2.4z" style="fill:var(--k923)"/><path d="M208.7 65.5v-12.7" fill="none"/><path d="M201.1 62.1l-7.9 2.4 -6.1 -4v-4.2l6.1 4 7.9 -2.4z" style="fill:var(--k924)"/><path d="M201.1 57.9l-7.9 2.4 -6.1 -4v-4.2l6.1 4 7.9 -2.4z" style="fill:var(--k925)"/><path d="M201.1 53.7l-7.9 2.4 -6.1 -4v-4.2l6.1 4 7.9 -2.4z" style="fill:var(--k926)"/><path d="M193.2 51.9l7.9 -2.4 -6.1 -4 -7.9 2.4z" style="fill:var(--k927)"/><path d="M193.2 64.6v-12.7" fill="none"/><path d="M186.3 61.7l-6 1.9 -3.8 -2.5v-4.2l3.8 2.5 6 -1.9z" style="fill:var(--k928)"/><path d="M180.3 59.3l6 -1.9 -3.8 -2.5 -6 1.9z" style="fill:var(--k929)"/><path d="M180.3 63.5v-4.2" fill="none"/><path d="M205.8 65.8l-6.6 2 -3.7 -2.4v-4.2l3.7 2.4 6.6 -2z" style="fill:var(--k930)"/><path d="M205.8 61.6l-6.6 2 -3.7 -2.4v-4.2l3.7 2.4 6.6 -2z" style="fill:var(--k931)"/><path d="M205.8 57.4l-6.6 2 -3.7 -2.4v-4.2l3.7 2.4 6.6 -2z" style="fill:var(--k932)"/><path d="M199.2 55.2l6.6 -2 -3.7 -2.4 -6.6 2z" style="fill:var(--k933)"/><path d="M199.2 67.9v-12.7" fill="none"/><path d="M192.1 65.4l-6.1 1.9 -4.7 -3.1v-4.2l4.7 3.1 6.1 -1.9z" style="fill:var(--k934)"/><path d="M192.1 61.1l-6.1 1.9 -4.7 -3.1v-4.2l4.7 3.1 6.1 -1.9z" style="fill:var(--k935)"/><path d="M192.1 56.9l-6.1 1.9 -4.7 -3.1v-4.2l4.7 3.1 6.1 -1.9z" style="fill:var(--k936)"/><path d="M192.1 52.7l-6.1 1.9 -4.7 -3.1v-4.2l4.7 3.1 6.1 -1.9z" style="fill:var(--k937)"/><path d="M185.9 50.4l6.1 -1.9 -4.7 -3.1 -6.1 1.9z" style="fill:var(--k938)"/><path d="M185.9 67.3v-16.9" fill="none"/><path d="M171.7 65.5l-17 5.2 -9 -5.9v-3.7l9 5.9 17 -5.2z" style="fill:var(--k939)"/><path d="M171.7 61.7l-17 5.2 -9 -5.9v-3.7l9 5.9 17 -5.2z" style="fill:var(--k940)"/><path d="M171.7 58l-17 5.2 -9 -5.9v-3.7l9 5.9 17 -5.2z" style="fill:var(--k941)"/><path d="M171.7 54.3l-17 5.2 -9 -5.9v-3.7l9 5.9 17 -5.2z" style="fill:var(--k942)"/><path d="M154.7 55.8l17 -5.2 -9 -5.9 -17 5.2z" style="fill:var(--k943)"/><path d="M154.7 70.7v-14.9M160.4 69v-14.9M166 67.2v-14.9M150.2 67.8v-14.9" fill="none"/><path d="M198.1 68.8l-7.2 2.2 -4.7 -3.1v-4.2l4.7 3.1 7.2 -2.2z" style="fill:var(--k944)"/><path d="M190.9 66.8l7.2 -2.2 -4.7 -3.1 -7.2 2.2z" style="fill:var(--k945)"/><path d="M190.9 71v-4.2" fill="none"/><path d="M184.2 68l-7.2 2.2 -4.3 -2.8v-4.2l4.3 2.8 7.2 -2.2z" style="fill:var(--k946)"/><path d="M184.2 63.8l-7.2 2.2 -4.3 -2.8v-4.2l4.3 2.8 7.2 -2.2z" style="fill:var(--k947)"/><path d="M184.2 59.6l-7.2 2.2 -4.3 -2.8v-4.2l4.3 2.8 7.2 -2.2z" style="fill:var(--k948)"/><path d="M177 57.6l7.2 -2.2 -4.3 -2.8 -7.2 2.2z" style="fill:var(--k949)"/><path d="M177 70.2v-12.7" fill="none"/><path d="M189.3 71.5l-7 2.2 -4.2 -2.7v-4.2l4.2 2.7 7 -2.2z" style="fill:var(--k950)"/><path d="M189.3 67.3l-7 2.2 -4.2 -2.7v-4.2l4.2 2.7 7 -2.2z" style="fill:var(--k951)"/><path d="M189.3 63l-7 2.2 -4.2 -2.7v-4.2l4.2 2.7 7 -2.2z" style="fill:var(--k952)"/><path d="M189.3 58.8l-7 2.2 -4.2 -2.7v-4.2l4.2 2.7 7 -2.2z" style="fill:var(--k953)"/><path d="M189.3 54.6l-7 2.2 -4.2 -2.7v-4.2l4.2 2.7 7 -2.2z" style="fill:var(--k954)"/><path d="M182.3 52.5l7 -2.2 -4.2 -2.7 -7 2.2z" style="fill:var(--k955)"/><path d="M182.3 73.6v-21.1" fill="none"/><path d="M144.7 71.1l-7 2.2 -8 -5.2v-4.2l8 5.2 7 -2.2z" style="fill:var(--k956)"/><path d="M144.7 66.9l-7 2.2 -8 -5.2v-4.2l8 5.2 7 -2.2z" style="fill:var(--k957)"/><path d="M144.7 62.7l-7 2.2 -8 -5.2v-4.2l8 5.2 7 -2.2z" style="fill:var(--k958)"/><path d="M144.7 58.4l-7 2.2 -8 -5.2v-4.2l8 5.2 7 -2.2z" style="fill:var(--k959)"/><path d="M144.7 54.2l-7 2.2 -8 -5.2v-4.2l8 5.2 7 -2.2z" style="fill:var(--k960)"/><path d="M137.7 52.1l7 -2.2 -8 -5.2 -7 2.2z" style="fill:var(--k961)"/><path d="M137.7 73.3v-21.2" fill="none"/><path d="M179.6 74.1l-4.1 1.3 -5.6 -3.7v-4.2l5.6 3.7 4.1 -1.3z" style="fill:var(--k962)"/><path d="M179.6 69.9l-4.1 1.3 -5.6 -3.7v-4.2l5.6 3.7 4.1 -1.3z" style="fill:var(--k963)"/><path d="M175.4 67l4.1 -1.3 -5.6 -3.7 -4.1 1.3z" style="fill:var(--k964)"/><path d="M175.4 75.4v-8.4" fill="none"/><path d="M152.1 75.3l-4.9 1.5 -4.5 -3v-4.2l4.5 3 4.9 -1.5z" style="fill:var(--k965)"/><path d="M147.2 72.6l4.9 -1.5 -4.5 -3 -4.9 1.5z" style="fill:var(--k966)"/><path d="M147.2 76.8v-4.2" fill="none"/></g></defs><rect width="685" height="955" fill="#fff"/><rect x="24.7" y="1.3" width="14.099999999999998" height="194.29999999999998" fill="url(#jg)" stroke="#222" stroke-width="0.6"/><line x1="24.7" y1="18.6" x2="26.3" y2="18.6" stroke="#222" stroke-width="0.6"/><line x1="37.199999999999996" y1="18.6" x2="38.8" y2="18.6" stroke="#222" stroke-width="0.6"/><text x="22" y="21.200000000000003" font-size="7.3" text-anchor="end" fill="#333">8.622</text><line x1="24.7" y1="37.870000000000005" x2="26.3" y2="37.870000000000005" stroke="#222" stroke-width="0.6"/><line x1="37.199999999999996" y1="37.870000000000005" x2="38.8" y2="37.870000000000005" stroke="#222" stroke-width="0.6"/><text x="22" y="40.470000000000006" font-size="7.3" text-anchor="end" fill="#333">8.62</text><line x1="24.7" y1="57.14" x2="26.3" y2="57.14" stroke="#222" stroke-width="0.6"/><line x1="37.199999999999996" y1="57.14" x2="38.8" y2="57.14" stroke="#222" stroke-width="0.6"/><text x="22" y="59.74" font-size="7.3" text-anchor="end" fill="#333">8.618</text><line x1="24.7" y1="76.41" x2="26.3" y2="76.41" stroke="#222" stroke-width="0.6"/><line x1="37.199999999999996" y1="76.41" x2="38.8" y2="76.41" stroke="#222" stroke-width="0.6"/><text x="22" y="79.00999999999999" font-size="7.3" text-anchor="end" fill="#333">8.616</text><line x1="24.7" y1="95.68" x2="26.3" y2="95.68" stroke="#222" stroke-width="0.6"/><line x1="37.199999999999996" y1="95.68" x2="38.8" y2="95.68" stroke="#222" stroke-width="0.6"/><text x="22" y="98.28" font-size="7.3" text-anchor="end" fill="#333">8.614</text><line x1="24.7" y1="114.94999999999999" x2="26.3" y2="114.94999999999999" stroke="#222" stroke-width="0.6"/><line x1="37.199999999999996" y1="114.94999999999999" x2="38.8" y2="114.94999999999999" stroke="#222" stroke-width="0.6"/><text x="22" y="117.54999999999998" font-size="7.3" text-anchor="end" fill="#333">8.612</text><line x1="24.7" y1="134.22" x2="26.3" y2="134.22" stroke="#222" stroke-width="0.6"/><line x1="37.199999999999996" y1="134.22" x2="38.8" y2="134.22" stroke="#222" stroke-width="0.6"/><text x="22" y="136.82" font-size="7.3" text-anchor="end" fill="#333">8.61</text><line x1="24.7" y1="153.48999999999998" x2="26.3" y2="153.48999999999998" stroke="#222" stroke-width="0.6"/><line x1="37.199999999999996" y1="153.48999999999998" x2="38.8" y2="153.48999999999998" stroke="#222" stroke-width="0.6"/><text x="22" y="156.08999999999997" font-size="7.3" text-anchor="end" fill="#333">8.608</text><line x1="24.7" y1="172.76" x2="26.3" y2="172.76" stroke="#222" stroke-width="0.6"/><line x1="37.199999999999996" y1="172.76" x2="38.8" y2="172.76" stroke="#222" stroke-width="0.6"/><text x="22" y="175.35999999999999" font-size="7.3" text-anchor="end" fill="#333">8.606</text><line x1="24.7" y1="192.03" x2="26.3" y2="192.03" stroke="#222" stroke-width="0.6"/><line x1="37.199999999999996" y1="192.03" x2="38.8" y2="192.03" stroke="#222" stroke-width="0.6"/><text x="22" y="194.63" font-size="7.3" text-anchor="end" fill="#333">8.604</text><text x="31.1" y="206.7" font-size="10" font-weight="bold" text-anchor="middle" font-family="Liberation Serif, serif" fill="#222">(cm)</text><g transform="translate(0,0)"><clipPath id="tca"><polygon points="93.4,99.6 104.6,91.1 119.2,80.1 128,71.4 138.2,62.6 151.3,56.8 163,51.7 174.7,47.3 181.7,44.5 195,53.9 211.1,70.7 225.7,80.9 240.3,91.1 256.4,105.7 240,110.4 220.3,119.2 205.7,126.5 191.1,133.8 180.9,141.1 168.4,155 158,144.9 143.4,133.9 128.8,123.7 121.5,119.3 106.9,110.5"/></clipPath><g clip-path="url(#tca)"><g filter="url(#jetf)"><rect x="80" y="35" width="190" height="130" fill="rgb(148,148,148)"/><polygon points="80.0,95.0 100.0,84.0 118.0,74.0 128.0,64.0 138.0,55.0 158.0,46.0 185.0,36.0 200.0,46.0 214.0,62.0 226.0,74.0 240.0,86.0 232.0,88.0 212.0,78.0 195.0,74.0 180.0,75.0 168.0,80.0 160.0,90.0 156.0,104.0 154.0,122.0 156.0,140.0 162.0,150.0 172.0,162.0 150.0,162.0 120.0,132.0 85.0,112.0" fill="rgb(43,43,43)" /><polyline points="156.0,146.0 154.0,128.0 154.0,110.0 157.0,95.0 163.0,84.0 175.0,77.0 190.0,74.0 207.0,77.0 224.0,84.0 240.0,91.0" fill="none" stroke="rgb(97,97,97)" stroke-width="5" stroke-linecap="round" stroke-linejoin="round"/><polyline points="160.0,140.0 159.0,120.0 160.0,104.0 165.0,92.0 175.0,85.0 190.0,81.0 207.0,83.0 222.0,88.0" fill="none" stroke="rgb(128,128,128)" stroke-width="3" stroke-linecap="round" stroke-linejoin="round"/><polyline points="149.0,112.0 151.0,94.0 155.0,80.0 166.0,71.0 178.0,65.0 190.0,62.0 204.0,66.0 214.0,73.0 224.0,79.0" fill="none" stroke="rgb(15,15,15)" stroke-width="5.5" stroke-linecap="round" stroke-linejoin="round"/><ellipse cx="112" cy="95" rx="4" ry="3" fill="rgb(84,84,84)" transform="rotate(-30 112 95)"/><ellipse cx="128" cy="112" rx="4" ry="2.5" fill="rgb(76,76,76)" transform="rotate(30 128 112)"/><ellipse cx="142" cy="122" rx="3" ry="4" fill="rgb(71,71,71)" transform="rotate(0 142 122)"/><polyline points="121.0,106.0 127.0,99.0 131.0,91.0 135.0,82.0 138.0,72.0 140.0,64.0 148.0,59.0 163.0,53.5 177.0,49.0 183.0,47.0" fill="none" stroke="rgb(230,230,230)" stroke-width="7" stroke-linecap="round" stroke-linejoin="round"/><polygon points="138.0,62.6 151.3,56.8 163.0,51.7 174.7,47.3 181.7,44.5 186.0,46.0 182.0,52.0 165.0,57.0 150.0,62.0 142.0,66.0" fill="rgb(230,230,230)" /><polyline points="123.0,103.0 129.0,95.0 133.0,87.0 136.5,79.0 139.0,70.0 142.0,63.0 152.0,58.0 166.0,53.0 176.0,50.0" fill="none" stroke="rgb(255,255,255)" stroke-width="3" stroke-linecap="round" stroke-linejoin="round"/><polygon points="126.0,73.0 133.0,66.0 138.0,70.0 136.0,80.0 131.0,86.0 126.0,82.0" fill="rgb(230,230,230)" /><ellipse cx="129.5" cy="80.5" rx="1.8" ry="2.2" fill="rgb(76,76,76)" transform="rotate(0 129.5 80.5)"/><polyline points="142.0,96.0 144.0,84.0 146.0,74.0 152.0,66.0 164.0,61.0 178.0,56.0 188.0,54.0" fill="none" stroke="rgb(87,87,87)" stroke-width="4" stroke-linecap="round" stroke-linejoin="round"/><ellipse cx="97" cy="99" rx="6" ry="4" fill="rgb(194,194,194)" transform="rotate(-30 97 99)"/><polygon points="160.0,121.0 164.0,112.0 172.0,104.0 182.0,97.0 192.0,92.0 202.0,89.0 210.0,89.0 212.0,98.0 207.0,106.0 198.0,114.0 190.0,120.0 182.0,126.0 172.0,128.0 164.0,126.0" fill="rgb(214,214,214)" /><polygon points="168.0,118.0 176.0,108.0 188.0,100.0 200.0,94.0 207.0,94.0 203.0,104.0 194.0,112.0 182.0,120.0 172.0,122.0" fill="rgb(237,237,237)" /><polyline points="204.0,89.5 215.0,90.0 228.0,91.5 240.0,94.0 250.0,98.0" fill="none" stroke="rgb(230,230,230)" stroke-width="4" stroke-linecap="round" stroke-linejoin="round"/><polygon points="211.5,94.0 228.5,98.5 214.0,106.0" fill="rgb(82,82,82)" /><ellipse cx="219.5" cy="99.5" rx="2.6" ry="2" fill="rgb(38,38,38)" transform="rotate(0 219.5 99.5)"/><polyline points="208.0,109.0 222.0,106.0 236.0,104.0 248.0,103.5 257.0,104.5" fill="none" stroke="rgb(230,230,230)" stroke-width="4.5" stroke-linecap="round" stroke-linejoin="round"/><polyline points="216.0,107.0 232.0,104.5 245.0,103.8" fill="none" stroke="rgb(255,255,255)" stroke-width="1.8" stroke-linecap="round" stroke-linejoin="round"/><polyline points="195.0,129.0 215.0,120.0 235.0,113.0 250.0,109.0" fill="none" stroke="rgb(173,173,173)" stroke-width="5" stroke-linecap="round" stroke-linejoin="round"/><ellipse cx="190" cy="129" rx="5" ry="3" fill="rgb(194,194,194)" transform="rotate(-20 190 129)"/><polygon points="160.0,146.0 164.0,143.0 172.0,144.0 176.0,148.0 170.0,160.0 160.0,156.0" fill="rgb(36,36,36)" /><ellipse cx="160" cy="140" rx="5" ry="4" fill="rgb(92,92,92)" transform="rotate(0 160 140)"/><ellipse cx="190" cy="56" rx="6" ry="3" fill="rgb(102,102,102)" transform="rotate(35 190 56)"/></g></g><line x1="88.6" y1="39.9" x2="88.6" y2="147.2" stroke="#666" stroke-width="0.8"/><line x1="89" y1="147.2" x2="126" y2="171.6" stroke="#666" stroke-width="0.7"/><line x1="126" y1="171.6" x2="163.4" y2="196.2" stroke="#4848c0" stroke-width="0.7"/><line x1="163.4" y1="196.2" x2="205" y2="180.3" stroke="#4848c0" stroke-width="0.7"/><line x1="205" y1="180.3" x2="262" y2="158.5" stroke="#6f6560" stroke-width="0.7"/><line x1="88.6" y1="60" x2="87" y2="60.8" stroke="#555" stroke-width="0.6"/><text x="84" y="61.4" font-size="7" text-anchor="end" fill="#333">100</text><line x1="88.6" y1="92.6" x2="87" y2="93.39999999999999" stroke="#555" stroke-width="0.6"/><text x="84" y="94.0" font-size="7" text-anchor="end" fill="#333">50</text><line x1="88.6" y1="124.5" x2="87" y2="125.3" stroke="#555" stroke-width="0.6"/><text x="84" y="125.9" font-size="7" text-anchor="end" fill="#333">0</text><text x="81.7" y="160.2" font-size="7" text-anchor="middle" fill="#333">4.544</text><text x="113.5" y="182.1" font-size="7" text-anchor="middle" fill="#333">4.5435</text><text x="150.3" y="205.1" font-size="7" text-anchor="middle" fill="#333">4.543</text><line x1="94.5" y1="150.6" x2="96.5" y2="149.79999999999998" stroke="#555" stroke-width="0.6"/><line x1="126.3" y1="171.3" x2="128.3" y2="170.5" stroke="#555" stroke-width="0.6"/><line x1="160.5" y1="194.3" x2="162.5" y2="193.5" stroke="#555" stroke-width="0.6"/><text x="184.7" y="201.9" font-size="7" text-anchor="middle" fill="#333">4.078</text><text x="201" y="195.4" font-size="7" text-anchor="middle" fill="#333">4.08</text><text x="220.5" y="188.6" font-size="7" text-anchor="middle" fill="#333">4.082</text><text x="238.9" y="181.5" font-size="7" text-anchor="middle" fill="#333">4.084</text><text x="256.3" y="174.9" font-size="7" text-anchor="middle" fill="#333">4.086</text><text x="274.7" y="167.5" font-size="7" text-anchor="middle" fill="#333">4.088</text><line x1="167.8" y1="194.5" x2="166.0" y2="193.3" stroke="#555" stroke-width="0.6"/><line x1="186.2" y1="187.5" x2="184.4" y2="186.3" stroke="#555" stroke-width="0.6"/><line x1="204.5" y1="180.5" x2="202.7" y2="179.3" stroke="#555" stroke-width="0.6"/><line x1="222.9" y1="173.5" x2="221.1" y2="172.3" stroke="#555" stroke-width="0.6"/><line x1="241.2" y1="166.5" x2="239.4" y2="165.3" stroke="#555" stroke-width="0.6"/><line x1="259.5" y1="159.4" x2="257.7" y2="158.2" stroke="#555" stroke-width="0.6"/><text x="64" y="185.5" font-size="6.5" fill="#333">x 10<tspan font-size="4.5" dy="-3">6</tspan></text><text x="267" y="193.5" font-size="6.5" fill="#333">x 10<tspan font-size="4.5" dy="-3">5</tspan></text></g><path d="M311,107.5L512.1,45.6L650.2,136.0L449.1,197.9" fill="none" stroke="#7070d8" stroke-width="0.7"/><line x1="311" y1="107.5" x2="449.1" y2="197.9" stroke="#666" stroke-width="0.7"/><line x1="311" y1="107.5" x2="311" y2="76.8" stroke="#666" stroke-width="0.7"/><line x1="311" y1="107.5" x2="309" y2="106.9" stroke="#666" stroke-width="0.5"/><text x="306" y="106.7" font-size="5.6" text-anchor="end" fill="#333">0</text><line x1="311" y1="92.2" x2="309" y2="91.6" stroke="#666" stroke-width="0.5"/><text x="306" y="91.4" font-size="5.6" text-anchor="end" fill="#333">10</text><line x1="311" y1="76.8" x2="309" y2="76.2" stroke="#666" stroke-width="0.5"/><text x="306" y="76.0" font-size="5.6" text-anchor="end" fill="#333">20</text><line x1="316.1" y1="110.8" x2="313.7" y2="111.5" stroke="#666" stroke-width="0.5"/><text x="300.2" y="117.7" font-size="5.5" text-anchor="middle" fill="#333">4.5441</text><line x1="328.7" y1="119.1" x2="326.3" y2="119.8" stroke="#666" stroke-width="0.5"/><text x="312.8" y="126.0" font-size="5.5" text-anchor="middle" fill="#333">4.544</text><line x1="341.3" y1="127.3" x2="338.9" y2="128.0" stroke="#666" stroke-width="0.5"/><text x="325.4" y="134.2" font-size="5.5" text-anchor="middle" fill="#333">4.5439</text><line x1="353.9" y1="135.6" x2="351.5" y2="136.3" stroke="#666" stroke-width="0.5"/><text x="338.0" y="142.5" font-size="5.5" text-anchor="middle" fill="#333">4.5438</text><line x1="366.5" y1="143.8" x2="364.1" y2="144.5" stroke="#666" stroke-width="0.5"/><text x="350.6" y="150.7" font-size="5.5" text-anchor="middle" fill="#333">4.5437</text><line x1="379.1" y1="152.1" x2="376.7" y2="152.8" stroke="#666" stroke-width="0.5"/><text x="363.2" y="159.0" font-size="5.5" text-anchor="middle" fill="#333">4.5436</text><line x1="391.7" y1="160.3" x2="389.3" y2="161.0" stroke="#666" stroke-width="0.5"/><text x="375.8" y="167.2" font-size="5.5" text-anchor="middle" fill="#333">4.5435</text><line x1="404.3" y1="168.6" x2="401.9" y2="169.3" stroke="#666" stroke-width="0.5"/><text x="388.5" y="175.5" font-size="5.5" text-anchor="middle" fill="#333">4.5434</text><line x1="416.9" y1="176.8" x2="414.5" y2="177.5" stroke="#666" stroke-width="0.5"/><text x="401.1" y="183.7" font-size="5.5" text-anchor="middle" fill="#333">4.5433</text><line x1="429.5" y1="185.1" x2="427.1" y2="185.8" stroke="#666" stroke-width="0.5"/><text x="413.7" y="192.0" font-size="5.5" text-anchor="middle" fill="#333">4.5432</text><line x1="442.2" y1="193.4" x2="439.8" y2="194.1" stroke="#666" stroke-width="0.5"/><text x="426.3" y="200.2" font-size="5.5" text-anchor="middle" fill="#333">4.5431</text><text x="469.2" y="203.6" font-size="5.3" text-anchor="middle" fill="#333">4.077</text><line x1="458.1" y1="195.1" x2="459.7" y2="196.9" stroke="#7070d8" stroke-width="0.5"/><text x="486.9" y="198.2" font-size="5.3" text-anchor="middle" fill="#333">4.078</text><line x1="477.4" y1="189.2" x2="479.0" y2="191.0" stroke="#7070d8" stroke-width="0.5"/><text x="504.7" y="192.8" font-size="5.3" text-anchor="middle" fill="#333">4.079</text><line x1="496.6" y1="183.3" x2="498.2" y2="185.1" stroke="#7070d8" stroke-width="0.5"/><text x="522.4" y="187.5" font-size="5.3" text-anchor="middle" fill="#333">4.08</text><line x1="515.8" y1="177.4" x2="517.4" y2="179.2" stroke="#7070d8" stroke-width="0.5"/><text x="540.2" y="182.1" font-size="5.3" text-anchor="middle" fill="#333">4.081</text><line x1="535.0" y1="171.5" x2="536.6" y2="173.3" stroke="#7070d8" stroke-width="0.5"/><text x="557.9" y="176.7" font-size="5.3" text-anchor="middle" fill="#333">4.082</text><line x1="554.2" y1="165.6" x2="555.8" y2="167.4" stroke="#7070d8" stroke-width="0.5"/><text x="575.6" y="171.3" font-size="5.3" text-anchor="middle" fill="#333">4.083</text><line x1="573.4" y1="159.6" x2="575.0" y2="161.4" stroke="#7070d8" stroke-width="0.5"/><text x="593.4" y="165.9" font-size="5.3" text-anchor="middle" fill="#333">4.084</text><line x1="592.6" y1="153.7" x2="594.2" y2="155.5" stroke="#7070d8" stroke-width="0.5"/><text x="611.1" y="160.6" font-size="5.3" text-anchor="middle" fill="#333">4.085</text><line x1="611.8" y1="147.8" x2="613.4" y2="149.6" stroke="#7070d8" stroke-width="0.5"/><text x="628.9" y="155.2" font-size="5.3" text-anchor="middle" fill="#333">4.086</text><line x1="631.0" y1="141.9" x2="632.6" y2="143.7" stroke="#7070d8" stroke-width="0.5"/><text x="646.6" y="149.8" font-size="5.3" text-anchor="middle" fill="#333">4.087</text><line x1="650.2" y1="136.0" x2="651.8" y2="137.8" stroke="#7070d8" stroke-width="0.5"/><text x="298" y="157.5" font-size="5.3" fill="#333">x 10<tspan font-size="3.8" dy="-2.5">6</tspan></text><text x="633" y="178.5" font-size="5" fill="#333">x 10<tspan font-size="3.6" dy="-2.5">5</tspan></text><text x="364.5" y="201.3" font-size="5" text-anchor="middle" fill="#333">y coord (m)</text><text x="549" y="208.9" font-size="5" text-anchor="middle" fill="#333">x coord (m)</text><use href="#city" transform="translate(311,107.5)" style="--k0:#ff0800;--k1:#ff1800;--k2:#ff0800;--k3:#ff2800;--k4:#ff5800;--k5:#ff7800;--k6:#ff8700;--k7:#ff1800;--k8:#ff5800;--k9:#ff7800;--k10:#ff0800;--k11:#ff1800;--k12:#ff2800;--k13:#ff0800;--k14:#ff3800;--k15:#ff7800;--k16:#ffb700;--k17:#ffd700;--k18:#ff0800;--k19:#ff2800;--k20:#ff3800;--k21:#ff3800;--k22:#ff0800;--k23:#ff1800;--k24:#ff1800;--k25:#ff2800;--k26:#ff2800;--k27:#ff0800;--k28:#ff0800;--k29:#ff1800;--k30:#ff2800;--k31:#ff2800;--k32:#ff0800;--k33:#ff1800;--k34:#ff2800;--k35:#ff0800;--k36:#ff0800;--k37:#ff1800;--k38:#ff1800;--k39:#ff2800;--k40:#ff0800;--k41:#ff2800;--k42:#ff3800;--k43:#ff0800;--k44:#ff1800;--k45:#ff2800;--k46:#ff3800;--k47:#ff3800;--k48:#ff0800;--k49:#ff0800;--k50:#ff1800;--k51:#ff1800;--k52:#ff2800;--k53:#ff3800;--k54:#ffa700;--k55:#f7ff08;--k56:#c7ff38;--k57:#b7ff48;--k58:#ff3800;--k59:#ffb700;--k60:#fff700;--k61:#ff0800;--k62:#ff2800;--k63:#ff4800;--k64:#ff6800;--k65:#ff8700;--k66:#ff1800;--k67:#ff4800;--k68:#ff8700;--k69:#ffc700;--k70:#ffe700;--k71:#ff3800;--k72:#ffb700;--k73:#f7ff08;--k74:#ff2800;--k75:#ff8700;--k76:#ffd700;--k77:#ffe700;--k78:#ff0800;--k79:#ff1800;--k80:#ff3800;--k81:#ff5800;--k82:#ff6800;--k83:#ff2800;--k84:#ff5800;--k85:#ff0800;--k86:#ff0800;--k87:#ff0800;--k88:#ff1800;--k89:#ff2800;--k90:#ff2800;--k91:#ff0800;--k92:#ff0800;--k93:#ff1800;--k94:#ff2800;--k95:#ff3800;--k96:#ff0800;--k97:#ff2800;--k98:#ff5800;--k99:#ff6800;--k100:#ff1800;--k101:#ff5800;--k102:#ffa700;--k103:#ffd700;--k104:#fff700;--k105:#ff2800;--k106:#ff9700;--k107:#ffc700;--k108:#ff0800;--k109:#ff3800;--k110:#ff4800;--k111:#ff0800;--k112:#ff0800;--k113:#ff0800;--k114:#ff0800;--k115:#ff0800;--k116:#ff0800;--k117:#ff0800;--k118:#ff0800;--k119:#ff0800;--k120:#ff1800;--k121:#ff2800;--k122:#ff3800;--k123:#ff3800;--k124:#ff0800;--k125:#ff0800;--k126:#ff1800;--k127:#ff1800;--k128:#ff2800;--k129:#ff2800;--k130:#ff3800;--k131:#ff6800;--k132:#ff0800;--k133:#ff3800;--k134:#ff4800;--k135:#ff0800;--k136:#ff0800;--k137:#ff0800;--k138:#ff1800;--k139:#ff1800;--k140:#ff1800;--k141:#ff2800;--k142:#ff2800;--k143:#ff1800;--k144:#ff3800;--k145:#ff6800;--k146:#ff7800;--k147:#ff0800;--k148:#ff3800;--k149:#ff4800;--k150:#ff0800;--k151:#ff2800;--k152:#ff3800;--k153:#ff0800;--k154:#ff0800;--k155:#ff0800;--k156:#ff1800;--k157:#ff1800;--k158:#ff2800;--k159:#ff2800;--k160:#ff0800;--k161:#ff0800;--k162:#ff2800;--k163:#ff8700;--k164:#ffb700;--k165:#ff0800;--k166:#ff2800;--k167:#ff5800;--k168:#ff6800;--k169:#ff2800;--k170:#ff8700;--k171:#ffb700;--k172:#ff0800;--k173:#ff2800;--k174:#ff5800;--k175:#ff9700;--k176:#ffd700;--k177:#e7ff18;--k178:#97ff68;--k179:#78ff87;--k180:#ff0800;--k181:#ff0800;--k182:#ff0800;--k183:#ff0800;--k184:#ff0800;--k185:#ff1800;--k186:#ff3800;--k187:#ff5800;--k188:#ff7800;--k189:#ff0800;--k190:#ff0800;--k191:#ff1800;--k192:#ff1800;--k193:#ff2800;--k194:#ff0800;--k195:#ff1800;--k196:#ff3800;--k197:#ff6800;--k198:#ff8700;--k199:#ffb700;--k200:#ffc700;--k201:#ff1800;--k202:#ff5800;--k203:#ff9700;--k204:#ffb700;--k205:#ffc700;--k206:#ff0800;--k207:#ff2800;--k208:#ff5800;--k209:#ff7800;--k210:#ff0800;--k211:#ff0800;--k212:#ff1800;--k213:#ff1800;--k214:#ff0800;--k215:#ff0800;--k216:#ff1800;--k217:#ff2800;--k218:#ff3800;--k219:#ff0800;--k220:#ff0800;--k221:#ff1800;--k222:#ff1800;--k223:#ff2800;--k224:#ff3800;--k225:#ff0800;--k226:#ff1800;--k227:#ff2800;--k228:#ff4800;--k229:#ff5800;--k230:#48ffb7;--k231:#00c7ff;--k232:#0058ff;--k233:#0018ff;--k234:#ff0800;--k235:#ff3800;--k236:#ff7800;--k237:#ffb700;--k238:#f7ff08;--k239:#d7ff28;--k240:#ff0800;--k241:#ff0800;--k242:#ff1800;--k243:#ff0800;--k244:#ff0800;--k245:#ff0800;--k246:#ff2800;--k247:#ff4800;--k248:#ff6800;--k249:#ff8700;--k250:#ffb700;--k251:#ffe700;--k252:#fff700;--k253:#ff0800;--k254:#ff0800;--k255:#ff0800;--k256:#ff1800;--k257:#ff1800;--k258:#ff0800;--k259:#ff1800;--k260:#ff2800;--k261:#ff0800;--k262:#ff0800;--k263:#ff0800;--k264:#ff0800;--k265:#ff1800;--k266:#ff3800;--k267:#ff6800;--k268:#ff7800;--k269:#ff2800;--k270:#ff9700;--k271:#ffc700;--k272:#ff2800;--k273:#ff8700;--k274:#ffe700;--k275:#e7ff18;--k276:#a7ff58;--k277:#68ff97;--k278:#68ff97;--k279:#ff0800;--k280:#ff0800;--k281:#ff0800;--k282:#ff1800;--k283:#ff0800;--k284:#ff1800;--k285:#ff0800;--k286:#ff0800;--k287:#ff0800;--k288:#ff1800;--k289:#ff1800;--k290:#ff2800;--k291:#ff2800;--k292:#ff0800;--k293:#ff0800;--k294:#ff0800;--k295:#ff1800;--k296:#ff3800;--k297:#ff4800;--k298:#ff0800;--k299:#ff2800;--k300:#ff3800;--k301:#ff0800;--k302:#ff1800;--k303:#ff3800;--k304:#ff4800;--k305:#ff0800;--k306:#ff0800;--k307:#ff0800;--k308:#ff1800;--k309:#ff1800;--k310:#ff2800;--k311:#ff3800;--k312:#ff3800;--k313:#ff0800;--k314:#ff0800;--k315:#ff3800;--k316:#ffb700;--k317:#fff700;--k318:#ff0800;--k319:#ff3800;--k320:#ff4800;--k321:#38ffc7;--k322:#00a7ff;--k323:#0058ff;--k324:#ff0800;--k325:#ff0800;--k326:#ff0800;--k327:#ff0800;--k328:#ff1800;--k329:#ff2800;--k330:#ff3800;--k331:#ff0800;--k332:#ff3800;--k333:#ff4800;--k334:#ff3800;--k335:#ffa700;--k336:#ffe700;--k337:#ff0800;--k338:#ff1800;--k339:#ff2800;--k340:#ff0800;--k341:#ff1800;--k342:#ff0800;--k343:#ff0800;--k344:#ff1800;--k345:#ff1800;--k346:#ff0800;--k347:#ff0800;--k348:#ff1800;--k349:#ff1800;--k350:#ff2800;--k351:#ff1800;--k352:#ff6800;--k353:#ff9700;--k354:#ffb700;--k355:#ffc700;--k356:#ff0800;--k357:#ff0800;--k358:#ff1800;--k359:#ff1800;--k360:#ff2800;--k361:#ff3800;--k362:#ff0800;--k363:#ff0800;--k364:#ff1800;--k365:#ff0800;--k366:#ff0800;--k367:#ff0800;--k368:#ff1800;--k369:#ff1800;--k370:#ff0800;--k371:#ff1800;--k372:#ff0800;--k373:#ff3800;--k374:#ff6800;--k375:#ff8700;--k376:#ff0800;--k377:#ff0800;--k378:#ff0800;--k379:#ff0800;--k380:#ff1800;--k381:#ff1800;--k382:#ff2800;--k383:#ff0800;--k384:#ff0800;--k385:#ff0800;--k386:#ff0800;--k387:#ff1800;--k388:#ff1800;--k389:#ff2800;--k390:#ff4800;--k391:#ff2800;--k392:#ff9700;--k393:#ffc700;--k394:#ff0800;--k395:#ff0800;--k396:#ff1800;--k397:#ff2800;--k398:#ff3800;--k399:#ff0800;--k400:#ff0800;--k401:#ff0800;--k402:#ff0800;--k403:#ff0800;--k404:#ff1800;--k405:#ff5800;--k406:#ff7800;--k407:#ff3800;--k408:#ffb700;--k409:#c7ff38;--k410:#97ff68;--k411:#ff0800;--k412:#ff0800;--k413:#ff1800;--k414:#ff1800;--k415:#ff2800;--k416:#ff0800;--k417:#ff2800;--k418:#ff3800;--k419:#ff0800;--k420:#ff2800;--k421:#ff4800;--k422:#ff0800;--k423:#ff1800;--k424:#ff3800;--k425:#ff4800;--k426:#ff0800;--k427:#ff2800;--k428:#ff5800;--k429:#ff9700;--k430:#ffb700;--k431:#ff0800;--k432:#ff1800;--k433:#ff0800;--k434:#ff0800;--k435:#ff1800;--k436:#ff1800;--k437:#ff0800;--k438:#ff0800;--k439:#ff0800;--k440:#ff0800;--k441:#ff1800;--k442:#ff1800;--k443:#ff5800;--k444:#ffb700;--k445:#f7ff08;--k446:#c7ff38;--k447:#ff0800;--k448:#ff1800;--k449:#ff0800;--k450:#ff2800;--k451:#ff4800;--k452:#ff6800;--k453:#ff0800;--k454:#ff0800;--k455:#ff0800;--k456:#ff0800;--k457:#ff0800;--k458:#ff0800;--k459:#ff0800;--k460:#ff0800;--k461:#ff0800;--k462:#ff0800;--k463:#ff0800;--k464:#ff1800;--k465:#ff2800;--k466:#ff2800;--k467:#ff0800;--k468:#ff0800;--k469:#ff1800;--k470:#ff2800;--k471:#ff3800;--k472:#ff3800;--k473:#ff4800;--k474:#ff0800;--k475:#ff1800;--k476:#ff0800;--k477:#ff0800;--k478:#ff0800;--k479:#ff3800;--k480:#ff6800;--k481:#ff9700;--k482:#ffd700;--k483:#d7ff28;--k484:#b7ff48;--k485:#ff0800;--k486:#ff2800;--k487:#ff4800;--k488:#ff6800;--k489:#ff0800;--k490:#ff0800;--k491:#ff0800;--k492:#ff2800;--k493:#ff5800;--k494:#ff6800;--k495:#ff0800;--k496:#ff0800;--k497:#ff0800;--k498:#ff1800;--k499:#ff0800;--k500:#ff1800;--k501:#ff0800;--k502:#ff0800;--k503:#ff1800;--k504:#ff2800;--k505:#ff3800;--k506:#ff4800;--k507:#ff0800;--k508:#ff0800;--k509:#ff0800;--k510:#ff2800;--k511:#ff4800;--k512:#ff0800;--k513:#ff2800;--k514:#ff4800;--k515:#ff6800;--k516:#ff8700;--k517:#ffa700;--k518:#ffc700;--k519:#fff700;--k520:#f7ff08;--k521:#ff0800;--k522:#ff0800;--k523:#ff1800;--k524:#ff2800;--k525:#ff3800;--k526:#ff4800;--k527:#ff4800;--k528:#ff0800;--k529:#ff0800;--k530:#ff0800;--k531:#ff0800;--k532:#ff0800;--k533:#ff2800;--k534:#ff5800;--k535:#ff6800;--k536:#ff0800;--k537:#ff0800;--k538:#ff0800;--k539:#ff1800;--k540:#ff2800;--k541:#ff2800;--k542:#ff3800;--k543:#ff4800;--k544:#ff0800;--k545:#ff2800;--k546:#ff4800;--k547:#ff5800;--k548:#ff0800;--k549:#ff0800;--k550:#ff0800;--k551:#ff0800;--k552:#ff1800;--k553:#ff1800;--k554:#ff1800;--k555:#48ffb7;--k556:#00d7ff;--k557:#0068ff;--k558:#0038ff;--k559:#ff0800;--k560:#ff0800;--k561:#ff1800;--k562:#ff1800;--k563:#ff2800;--k564:#ff2800;--k565:#ff2800;--k566:#ff3800;--k567:#ff3800;--k568:#ff0800;--k569:#ff3800;--k570:#ff5800;--k571:#ff0800;--k572:#ff3800;--k573:#ff5800;--k574:#ff8700;--k575:#ffb700;--k576:#ffe700;--k577:#e7ff18;--k578:#c7ff38;--k579:#ff0800;--k580:#ff1800;--k581:#ff3800;--k582:#ff5800;--k583:#ff6800;--k584:#ff0800;--k585:#ff0800;--k586:#ff0800;--k587:#ff1800;--k588:#ff1800;--k589:#ff0800;--k590:#ff0800;--k591:#ff1800;--k592:#ff1800;--k593:#ff2800;--k594:#ff0800;--k595:#ff0800;--k596:#ff1800;--k597:#ff1800;--k598:#ff2800;--k599:#ff2800;--k600:#ff0800;--k601:#ff0800;--k602:#ff0800;--k603:#ff1800;--k604:#ff2800;--k605:#ff4800;--k606:#ff5800;--k607:#ff0800;--k608:#ff0800;--k609:#ff0800;--k610:#ff0800;--k611:#ff1800;--k612:#ff0800;--k613:#ff1800;--k614:#ff3800;--k615:#ff5800;--k616:#ff8700;--k617:#ffa700;--k618:#ffb700;--k619:#ff0800;--k620:#ff0800;--k621:#ff0800;--k622:#ff1800;--k623:#ff0800;--k624:#ff1800;--k625:#ff0800;--k626:#ff1800;--k627:#ff3800;--k628:#ff5800;--k629:#ff8700;--k630:#ff9700;--k631:#ff0800;--k632:#ff0800;--k633:#ff1800;--k634:#ff1800;--k635:#ff2800;--k636:#ff0800;--k637:#ff0800;--k638:#ff0800;--k639:#ff2800;--k640:#ff5800;--k641:#ff8700;--k642:#ffa700;--k643:#ff0800;--k644:#ff1800;--k645:#ff0800;--k646:#ff0800;--k647:#ff0800;--k648:#ff0800;--k649:#ff0800;--k650:#ff1800;--k651:#ff3800;--k652:#ff5800;--k653:#ff7800;--k654:#ff0800;--k655:#ff0800;--k656:#ff1800;--k657:#ff1800;--k658:#ff2800;--k659:#ff0800;--k660:#ff2800;--k661:#ff5800;--k662:#ff6800;--k663:#ff0800;--k664:#ff0800;--k665:#ff1800;--k666:#ff1800;--k667:#ff0800;--k668:#ff0800;--k669:#ff0800;--k670:#ff1800;--k671:#ff1800;--k672:#ff0800;--k673:#ff2800;--k674:#ff3800;--k675:#ff0800;--k676:#ff2800;--k677:#ff3800;--k678:#48ffb7;--k679:#00d7ff;--k680:#00a7ff;--k681:#38ffc7;--k682:#00b7ff;--k683:#0078ff;--k684:#ff0800;--k685:#ff1800;--k686:#ff0800;--k687:#ff1800;--k688:#ff0800;--k689:#ff0800;--k690:#ff0800;--k691:#ff2800;--k692:#ff4800;--k693:#ff6800;--k694:#ff9700;--k695:#ffd700;--k696:#f7ff08;--k697:#d7ff28;--k698:#ff0800;--k699:#ff0800;--k700:#ff0800;--k701:#ff1800;--k702:#ff0800;--k703:#ff3800;--k704:#ff4800;--k705:#ff0800;--k706:#ff1800;--k707:#ff0800;--k708:#ff0800;--k709:#ff1800;--k710:#ff1800;--k711:#ff2800;--k712:#ff0800;--k713:#ff1800;--k714:#ff0800;--k715:#ff0800;--k716:#ff1800;--k717:#ff2800;--k718:#ff2800;--k719:#ff0800;--k720:#ff0800;--k721:#ff0800;--k722:#ff0800;--k723:#ff2800;--k724:#ff4800;--k725:#ff0800;--k726:#ff1800;--k727:#ff0800;--k728:#ff2800;--k729:#ff5800;--k730:#ff8700;--k731:#ffb700;--k732:#fff700;--k733:#c7ff38;--k734:#a7ff58;--k735:#ff0800;--k736:#ff0800;--k737:#ff0800;--k738:#ff0800;--k739:#ff0800;--k740:#ff0800;--k741:#ff0800;--k742:#ff1800;--k743:#ff2800;--k744:#ff3800;--k745:#ff4800;--k746:#ff4800;--k747:#ff0800;--k748:#ff0800;--k749:#ff1800;--k750:#ff2800;--k751:#ff0800;--k752:#ff2800;--k753:#ff5800;--k754:#ff7800;--k755:#ff0800;--k756:#ff0800;--k757:#ff0800;--k758:#ff1800;--k759:#ff0800;--k760:#ff0800;--k761:#ff1800;--k762:#ff2800;--k763:#ff3800;--k764:#ff4800;--k765:#ff5800;--k766:#ff6800;--k767:#ff0800;--k768:#ff2800;--k769:#ff6800;--k770:#ff9700;--k771:#ffb700;--k772:#ff0800;--k773:#ff1800;--k774:#ff0800;--k775:#ff2800;--k776:#ff4800;--k777:#ff6800;--k778:#ff8700;--k779:#ff0800;--k780:#ff1800;--k781:#ff0800;--k782:#ff0800;--k783:#ff0800;--k784:#ff2800;--k785:#ff4800;--k786:#ff7800;--k787:#ffa700;--k788:#ffd700;--k789:#fff700;--k790:#ff0800;--k791:#ff0800;--k792:#ff1800;--k793:#ff2800;--k794:#ff3800;--k795:#ff4800;--k796:#ff5800;--k797:#ff6800;--k798:#ff0800;--k799:#ff0800;--k800:#ff0800;--k801:#ff1800;--k802:#ff0800;--k803:#ff0800;--k804:#ff1800;--k805:#ff2800;--k806:#ff3800;--k807:#ff4800;--k808:#ff5800;--k809:#ff6800;--k810:#ff0800;--k811:#ff1800;--k812:#48ffb7;--k813:#00c7ff;--k814:#0048ff;--k815:#0018ff;--k816:#ff0800;--k817:#ff0800;--k818:#ff0800;--k819:#ff1800;--k820:#ff1800;--k821:#ff0800;--k822:#ff0800;--k823:#ff1800;--k824:#ff0800;--k825:#ff0800;--k826:#ff0800;--k827:#ff0800;--k828:#ff0800;--k829:#ff1800;--k830:#ff0800;--k831:#ff0800;--k832:#ff0800;--k833:#ff0800;--k834:#ff0800;--k835:#ff1800;--k836:#ff3800;--k837:#ff5800;--k838:#ff7800;--k839:#ffa700;--k840:#ffc700;--k841:#ffe700;--k842:#ff0800;--k843:#ff1800;--k844:#ff0800;--k845:#ff0800;--k846:#ff0800;--k847:#ff1800;--k848:#ff0800;--k849:#ff3800;--k850:#ff4800;--k851:#ff0800;--k852:#ff1800;--k853:#ff2800;--k854:#ff0800;--k855:#ff0800;--k856:#ff0800;--k857:#ff0800;--k858:#ff0800;--k859:#ff0800;--k860:#ff2800;--k861:#ff4800;--k862:#ff6800;--k863:#ff0800;--k864:#ff3800;--k865:#ff6800;--k866:#ffa700;--k867:#ffe700;--k868:#c7ff38;--k869:#a7ff58;--k870:#ff0800;--k871:#ff0800;--k872:#ff0800;--k873:#ff0800;--k874:#ff0800;--k875:#ff0800;--k876:#ff0800;--k877:#ff0800;--k878:#ff0800;--k879:#ff0800;--k880:#ff2800;--k881:#ff3800;--k882:#ff0800;--k883:#ff0800;--k884:#ff1800;--k885:#ff1800;--k886:#ff0800;--k887:#ff0800;--k888:#ff1800;--k889:#ff2800;--k890:#ff2800;--k891:#ff3800;--k892:#ff0800;--k893:#ff2800;--k894:#ff6800;--k895:#ff9700;--k896:#ffd700;--k897:#fff700;--k898:#ff0800;--k899:#ff1800;--k900:#ff2800;--k901:#ff0800;--k902:#ff2800;--k903:#ff5800;--k904:#ff8700;--k905:#ffa700;--k906:#ff0800;--k907:#ff0800;--k908:#ff0800;--k909:#ff1800;--k910:#ff0800;--k911:#ff0800;--k912:#ff1800;--k913:#ff0800;--k914:#ff0800;--k915:#ff0800;--k916:#ff0800;--k917:#ff0800;--k918:#ff0800;--k919:#ff0800;--k920:#ff0800;--k921:#ff0800;--k922:#ff0800;--k923:#ff0800;--k924:#ff0800;--k925:#ff0800;--k926:#ff0800;--k927:#ff1800;--k928:#ff0800;--k929:#ff1800;--k930:#ff0800;--k931:#ff1800;--k932:#ff3800;--k933:#ff4800;--k934:#ff0800;--k935:#ff1800;--k936:#ff3800;--k937:#ff6800;--k938:#ff7800;--k939:#ff0800;--k940:#ff1800;--k941:#ff3800;--k942:#ff5800;--k943:#ff6800;--k944:#ff0800;--k945:#ff0800;--k946:#ff0800;--k947:#ff0800;--k948:#ff1800;--k949:#ff1800;--k950:#ff0800;--k951:#ff1800;--k952:#ff3800;--k953:#ff5800;--k954:#ff7800;--k955:#ff9700;--k956:#ff0800;--k957:#ff2800;--k958:#ff4800;--k959:#ff6800;--k960:#ff9700;--k961:#ffb700;--k962:#ff0800;--k963:#ff3800;--k964:#ff4800;--k965:#ff0800;--k966:#ff0800"/><rect x="658.8" y="15" width="11.200000000000045" height="181.7" fill="url(#jg)" stroke="#222" stroke-width="0.6"/><line x1="658.8" y1="18.4" x2="660.4" y2="18.4" stroke="#222" stroke-width="0.6"/><line x1="668.4" y1="18.4" x2="670" y2="18.4" stroke="#222" stroke-width="0.6"/><text x="671.2" y="21.0" font-size="5.6" fill="#333">0.5</text><line x1="658.8" y1="37.69" x2="660.4" y2="37.69" stroke="#222" stroke-width="0.6"/><line x1="668.4" y1="37.69" x2="670" y2="37.69" stroke="#222" stroke-width="0.6"/><text x="671.2" y="40.29" font-size="5.6" fill="#333">0</text><line x1="658.8" y1="56.98" x2="660.4" y2="56.98" stroke="#222" stroke-width="0.6"/><line x1="668.4" y1="56.98" x2="670" y2="56.98" stroke="#222" stroke-width="0.6"/><text x="671.2" y="59.58" font-size="5.6" fill="#333">-0.5</text><line x1="658.8" y1="76.27" x2="660.4" y2="76.27" stroke="#222" stroke-width="0.6"/><line x1="668.4" y1="76.27" x2="670" y2="76.27" stroke="#222" stroke-width="0.6"/><text x="671.2" y="78.86999999999999" font-size="5.6" fill="#333">-1</text><line x1="658.8" y1="95.56" x2="660.4" y2="95.56" stroke="#222" stroke-width="0.6"/><line x1="668.4" y1="95.56" x2="670" y2="95.56" stroke="#222" stroke-width="0.6"/><text x="671.2" y="98.16" font-size="5.6" fill="#333">-1.5</text><line x1="658.8" y1="114.85" x2="660.4" y2="114.85" stroke="#222" stroke-width="0.6"/><line x1="668.4" y1="114.85" x2="670" y2="114.85" stroke="#222" stroke-width="0.6"/><text x="671.2" y="117.44999999999999" font-size="5.6" fill="#333">-2</text><line x1="658.8" y1="134.14" x2="660.4" y2="134.14" stroke="#222" stroke-width="0.6"/><line x1="668.4" y1="134.14" x2="670" y2="134.14" stroke="#222" stroke-width="0.6"/><text x="671.2" y="136.73999999999998" font-size="5.6" fill="#333">-2.5</text><line x1="658.8" y1="153.43" x2="660.4" y2="153.43" stroke="#222" stroke-width="0.6"/><line x1="668.4" y1="153.43" x2="670" y2="153.43" stroke="#222" stroke-width="0.6"/><text x="671.2" y="156.03" font-size="5.6" fill="#333">-3</text><line x1="658.8" y1="172.72" x2="660.4" y2="172.72" stroke="#222" stroke-width="0.6"/><line x1="668.4" y1="172.72" x2="670" y2="172.72" stroke="#222" stroke-width="0.6"/><text x="671.2" y="175.32" font-size="5.6" fill="#333">-3.5</text><line x1="658.8" y1="192.01" x2="660.4" y2="192.01" stroke="#222" stroke-width="0.6"/><line x1="668.4" y1="192.01" x2="670" y2="192.01" stroke="#222" stroke-width="0.6"/><text x="671.2" y="194.60999999999999" font-size="5.6" fill="#333">-4</text><text x="669" y="11.5" font-size="5.6" fill="#333">x 10<tspan font-size="4" dy="-2.8">-3</tspan></text><text x="664" y="205.5" font-size="6.5" font-weight="bold" text-anchor="middle" font-family="Liberation Serif, serif" fill="#222">(m)</text><text x="480.2" y="10.1" font-size="9.25" text-anchor="middle" fill="#222">Max. Displacement is : 0.0041436 m (t=50 sec)</text><text x="294" y="226" font-size="19" font-weight="bold" text-anchor="middle" font-family="Liberation Serif, serif" fill="#111">(a)</text><rect x="21.4" y="242.5" width="14.399999999999999" height="195.10000000000002" fill="url(#jg)" stroke="#222" stroke-width="0.6"/><line x1="21.4" y1="248.5" x2="23.0" y2="248.5" stroke="#222" stroke-width="0.6"/><line x1="34.199999999999996" y1="248.5" x2="35.8" y2="248.5" stroke="#222" stroke-width="0.6"/><text x="18.9" y="251.1" font-size="7.3" text-anchor="end" fill="#333">8.95</text><line x1="21.4" y1="271.64" x2="23.0" y2="271.64" stroke="#222" stroke-width="0.6"/><line x1="34.199999999999996" y1="271.64" x2="35.8" y2="271.64" stroke="#222" stroke-width="0.6"/><text x="18.9" y="274.24" font-size="7.3" text-anchor="end" fill="#333">8.9</text><line x1="21.4" y1="294.78" x2="23.0" y2="294.78" stroke="#222" stroke-width="0.6"/><line x1="34.199999999999996" y1="294.78" x2="35.8" y2="294.78" stroke="#222" stroke-width="0.6"/><text x="18.9" y="297.38" font-size="7.3" text-anchor="end" fill="#333">8.85</text><line x1="21.4" y1="317.92" x2="23.0" y2="317.92" stroke="#222" stroke-width="0.6"/><line x1="34.199999999999996" y1="317.92" x2="35.8" y2="317.92" stroke="#222" stroke-width="0.6"/><text x="18.9" y="320.52000000000004" font-size="7.3" text-anchor="end" fill="#333">8.8</text><line x1="21.4" y1="341.06" x2="23.0" y2="341.06" stroke="#222" stroke-width="0.6"/><line x1="34.199999999999996" y1="341.06" x2="35.8" y2="341.06" stroke="#222" stroke-width="0.6"/><text x="18.9" y="343.66" font-size="7.3" text-anchor="end" fill="#333">8.75</text><line x1="21.4" y1="364.2" x2="23.0" y2="364.2" stroke="#222" stroke-width="0.6"/><line x1="34.199999999999996" y1="364.2" x2="35.8" y2="364.2" stroke="#222" stroke-width="0.6"/><text x="18.9" y="366.8" font-size="7.3" text-anchor="end" fill="#333">8.7</text><line x1="21.4" y1="387.34000000000003" x2="23.0" y2="387.34000000000003" stroke="#222" stroke-width="0.6"/><line x1="34.199999999999996" y1="387.34000000000003" x2="35.8" y2="387.34000000000003" stroke="#222" stroke-width="0.6"/><text x="18.9" y="389.94000000000005" font-size="7.3" text-anchor="end" fill="#333">8.65</text><line x1="21.4" y1="410.48" x2="23.0" y2="410.48" stroke="#222" stroke-width="0.6"/><line x1="34.199999999999996" y1="410.48" x2="35.8" y2="410.48" stroke="#222" stroke-width="0.6"/><text x="18.9" y="413.08000000000004" font-size="7.3" text-anchor="end" fill="#333">8.6</text><line x1="21.4" y1="433.62" x2="23.0" y2="433.62" stroke="#222" stroke-width="0.6"/><line x1="34.199999999999996" y1="433.62" x2="35.8" y2="433.62" stroke="#222" stroke-width="0.6"/><text x="18.9" y="436.22" font-size="7.3" text-anchor="end" fill="#333">8.55</text><text x="27.8" y="448.9" font-size="10" font-weight="bold" text-anchor="middle" font-family="Liberation Serif, serif" fill="#222">(cm)</text><g transform="translate(-3,241)"><clipPath id="tcb"><polygon points="93.4,99.6 104.6,91.1 119.2,80.1 128,71.4 138.2,62.6 151.3,56.8 163,51.7 174.7,47.3 181.7,44.5 195,53.9 211.1,70.7 225.7,80.9 240.3,91.1 256.4,105.7 240,110.4 220.3,119.2 205.7,126.5 191.1,133.8 180.9,141.1 168.4,155 158,144.9 143.4,133.9 128.8,123.7 121.5,119.3 106.9,110.5"/></clipPath><g clip-path="url(#tcb)"><g filter="url(#jetf)"><rect x="80" y="35" width="190" height="130" fill="rgb(176,176,176)"/><polygon points="80.0,95.0 100.0,84.0 118.0,72.0 135.0,58.0 160.0,46.0 185.0,36.0 196.0,46.0 206.0,58.0 214.0,66.0 200.0,70.0 185.0,72.0 172.0,75.0 162.0,80.0 157.0,88.0 155.0,100.0 154.0,115.0 156.0,130.0 160.0,145.0 170.0,160.0 150.0,162.0 120.0,132.0 85.0,112.0" fill="rgb(94,94,94)" /><polygon points="80.0,95.0 100.0,84.0 118.0,72.0 132.0,60.0 150.0,50.0 165.0,46.0 160.0,56.0 150.0,66.0 146.0,80.0 145.0,100.0 146.0,120.0 140.0,130.0 120.0,128.0 85.0,110.0" fill="rgb(69,69,69)" /><polygon points="80.0,96.0 98.0,86.0 112.0,78.0 124.0,70.0 134.0,66.0 134.0,80.0 132.0,100.0 128.0,118.0 112.0,115.0 85.0,108.0" fill="rgb(43,43,43)" /><polygon points="80.0,97.0 95.0,88.0 108.0,80.0 116.0,78.0 116.0,94.0 112.0,108.0 100.0,110.0 85.0,106.0" fill="rgb(15,15,15)" /><polygon points="150.0,44.0 185.0,36.0 190.0,46.0 175.0,52.0 160.0,56.0" fill="rgb(71,71,71)" /><polyline points="158.0,150.0 156.0,130.0 157.0,110.0 160.0,95.0 166.0,85.0 178.0,78.0 195.0,75.0 212.0,78.0 228.0,86.0" fill="none" stroke="rgb(128,128,128)" stroke-width="3" stroke-linecap="round" stroke-linejoin="round"/><polyline points="163.0,145.0 162.0,125.0 164.0,105.0 170.0,92.0 182.0,84.0 198.0,82.0 214.0,85.0" fill="none" stroke="rgb(153,153,153)" stroke-width="5" stroke-linecap="round" stroke-linejoin="round"/><ellipse cx="188" cy="92" rx="18" ry="9" fill="rgb(181,181,181)" transform="rotate(-15 188 92)"/><ellipse cx="184" cy="120" rx="10" ry="7" fill="rgb(161,161,161)" transform="rotate(-30 184 120)"/><polygon points="204.0,93.0 214.0,90.0 228.0,92.0 242.0,96.0 256.0,103.0 250.0,108.0 232.0,108.0 214.0,106.0 204.0,101.0" fill="rgb(214,214,214)" /><ellipse cx="219" cy="97.5" rx="7" ry="4" fill="rgb(247,247,247)" transform="rotate(-5 219 97.5)"/><polyline points="196.0,58.0 208.0,68.0 220.0,77.0 232.0,86.0" fill="none" stroke="rgb(140,140,140)" stroke-width="5" stroke-linecap="round" stroke-linejoin="round"/><polyline points="182.0,140.0 198.0,131.0 215.0,122.0 232.0,114.0 248.0,108.0 257.0,105.0" fill="none" stroke="rgb(199,199,199)" stroke-width="6" stroke-linecap="round" stroke-linejoin="round"/><ellipse cx="166" cy="150" rx="6" ry="5" fill="rgb(107,107,107)" transform="rotate(0 166 150)"/></g></g><line x1="88.6" y1="39.9" x2="88.6" y2="147.2" stroke="#666" stroke-width="0.8"/><line x1="89" y1="147.2" x2="126" y2="171.6" stroke="#666" stroke-width="0.7"/><line x1="126" y1="171.6" x2="163.4" y2="196.2" stroke="#4848c0" stroke-width="0.7"/><line x1="163.4" y1="196.2" x2="205" y2="180.3" stroke="#4848c0" stroke-width="0.7"/><line x1="205" y1="180.3" x2="262" y2="158.5" stroke="#6f6560" stroke-width="0.7"/><line x1="88.6" y1="60" x2="87" y2="60.8" stroke="#555" stroke-width="0.6"/><text x="84" y="61.4" font-size="7" text-anchor="end" fill="#333">100</text><line x1="88.6" y1="92.6" x2="87" y2="93.39999999999999" stroke="#555" stroke-width="0.6"/><text x="84" y="94.0" font-size="7" text-anchor="end" fill="#333">50</text><line x1="88.6" y1="124.5" x2="87" y2="125.3" stroke="#555" stroke-width="0.6"/><text x="84" y="125.9" font-size="7" text-anchor="end" fill="#333">0</text><text x="81.7" y="160.2" font-size="7" text-anchor="middle" fill="#333">4.544</text><text x="113.5" y="182.1" font-size="7" text-anchor="middle" fill="#333">4.5435</text><text x="150.3" y="205.1" font-size="7" text-anchor="middle" fill="#333">4.543</text><line x1="94.5" y1="150.6" x2="96.5" y2="149.79999999999998" stroke="#555" stroke-width="0.6"/><line x1="126.3" y1="171.3" x2="128.3" y2="170.5" stroke="#555" stroke-width="0.6"/><line x1="160.5" y1="194.3" x2="162.5" y2="193.5" stroke="#555" stroke-width="0.6"/><text x="184.7" y="201.9" font-size="7" text-anchor="middle" fill="#333">4.078</text><text x="201" y="195.4" font-size="7" text-anchor="middle" fill="#333">4.08</text><text x="220.5" y="188.6" font-size="7" text-anchor="middle" fill="#333">4.082</text><text x="238.9" y="181.5" font-size="7" text-anchor="middle" fill="#333">4.084</text><text x="256.3" y="174.9" font-size="7" text-anchor="middle" fill="#333">4.086</text><text x="274.7" y="167.5" font-size="7" text-anchor="middle" fill="#333">4.088</text><line x1="167.8" y1="194.5" x2="166.0" y2="193.3" stroke="#555" stroke-width="0.6"/><line x1="186.2" y1="187.5" x2="184.4" y2="186.3" stroke="#555" stroke-width="0.6"/><line x1="204.5" y1="180.5" x2="202.7" y2="179.3" stroke="#555" stroke-width="0.6"/><line x1="222.9" y1="173.5" x2="221.1" y2="172.3" stroke="#555" stroke-width="0.6"/><line x1="241.2" y1="166.5" x2="239.4" y2="165.3" stroke="#555" stroke-width="0.6"/><line x1="259.5" y1="159.4" x2="257.7" y2="158.2" stroke="#555" stroke-width="0.6"/><text x="64" y="185.5" font-size="6.5" fill="#333">x 10<tspan font-size="4.5" dy="-3">6</tspan></text><text x="267" y="193.5" font-size="6.5" fill="#333">x 10<tspan font-size="4.5" dy="-3">5</tspan></text></g><path d="M307.2,352.4L508.3,290.5L646.4,380.9L445.3,442.8" fill="none" stroke="#7070d8" stroke-width="0.7"/><line x1="307.2" y1="352.4" x2="445.3" y2="442.8" stroke="#666" stroke-width="0.7"/><line x1="307.2" y1="352.4" x2="307.2" y2="321.7" stroke="#666" stroke-width="0.7"/><line x1="307.2" y1="352.4" x2="305.2" y2="351.8" stroke="#666" stroke-width="0.5"/><text x="302.2" y="351.6" font-size="5.6" text-anchor="end" fill="#333">0</text><line x1="307.2" y1="337.0" x2="305.2" y2="336.4" stroke="#666" stroke-width="0.5"/><text x="302.2" y="336.2" font-size="5.6" text-anchor="end" fill="#333">10</text><line x1="307.2" y1="321.7" x2="305.2" y2="321.1" stroke="#666" stroke-width="0.5"/><text x="302.2" y="320.9" font-size="5.6" text-anchor="end" fill="#333">20</text><line x1="312.3" y1="355.7" x2="309.9" y2="356.4" stroke="#666" stroke-width="0.5"/><text x="296.4" y="362.6" font-size="5.5" text-anchor="middle" fill="#333">4.5441</text><line x1="324.9" y1="364.0" x2="322.5" y2="364.7" stroke="#666" stroke-width="0.5"/><text x="309.0" y="370.9" font-size="5.5" text-anchor="middle" fill="#333">4.544</text><line x1="337.5" y1="372.2" x2="335.1" y2="372.9" stroke="#666" stroke-width="0.5"/><text x="321.6" y="379.1" font-size="5.5" text-anchor="middle" fill="#333">4.5439</text><line x1="350.1" y1="380.5" x2="347.7" y2="381.2" stroke="#666" stroke-width="0.5"/><text x="334.2" y="387.4" font-size="5.5" text-anchor="middle" fill="#333">4.5438</text><line x1="362.7" y1="388.7" x2="360.3" y2="389.4" stroke="#666" stroke-width="0.5"/><text x="346.8" y="395.6" font-size="5.5" text-anchor="middle" fill="#333">4.5437</text><line x1="375.3" y1="397.0" x2="372.9" y2="397.7" stroke="#666" stroke-width="0.5"/><text x="359.4" y="403.9" font-size="5.5" text-anchor="middle" fill="#333">4.5436</text><line x1="387.9" y1="405.2" x2="385.5" y2="405.9" stroke="#666" stroke-width="0.5"/><text x="372.0" y="412.1" font-size="5.5" text-anchor="middle" fill="#333">4.5435</text><line x1="400.5" y1="413.5" x2="398.1" y2="414.2" stroke="#666" stroke-width="0.5"/><text x="384.7" y="420.4" font-size="5.5" text-anchor="middle" fill="#333">4.5434</text><line x1="413.1" y1="421.7" x2="410.7" y2="422.4" stroke="#666" stroke-width="0.5"/><text x="397.3" y="428.6" font-size="5.5" text-anchor="middle" fill="#333">4.5433</text><line x1="425.7" y1="430.0" x2="423.3" y2="430.7" stroke="#666" stroke-width="0.5"/><text x="409.9" y="436.9" font-size="5.5" text-anchor="middle" fill="#333">4.5432</text><line x1="438.4" y1="438.3" x2="436.0" y2="439.0" stroke="#666" stroke-width="0.5"/><text x="422.5" y="445.1" font-size="5.5" text-anchor="middle" fill="#333">4.5431</text><text x="465.4" y="448.5" font-size="5.3" text-anchor="middle" fill="#333">4.077</text><line x1="454.3" y1="440.0" x2="455.9" y2="441.8" stroke="#7070d8" stroke-width="0.5"/><text x="483.1" y="443.1" font-size="5.3" text-anchor="middle" fill="#333">4.078</text><line x1="473.6" y1="434.1" x2="475.2" y2="435.9" stroke="#7070d8" stroke-width="0.5"/><text x="500.9" y="437.7" font-size="5.3" text-anchor="middle" fill="#333">4.079</text><line x1="492.8" y1="428.2" x2="494.4" y2="430.0" stroke="#7070d8" stroke-width="0.5"/><text x="518.6" y="432.4" font-size="5.3" text-anchor="middle" fill="#333">4.08</text><line x1="512.0" y1="422.3" x2="513.6" y2="424.1" stroke="#7070d8" stroke-width="0.5"/><text x="536.4" y="427.0" font-size="5.3" text-anchor="middle" fill="#333">4.081</text><line x1="531.2" y1="416.4" x2="532.8" y2="418.2" stroke="#7070d8" stroke-width="0.5"/><text x="554.1" y="421.6" font-size="5.3" text-anchor="middle" fill="#333">4.082</text><line x1="550.4" y1="410.5" x2="552.0" y2="412.3" stroke="#7070d8" stroke-width="0.5"/><text x="571.8" y="416.2" font-size="5.3" text-anchor="middle" fill="#333">4.083</text><line x1="569.6" y1="404.5" x2="571.2" y2="406.3" stroke="#7070d8" stroke-width="0.5"/><text x="589.6" y="410.8" font-size="5.3" text-anchor="middle" fill="#333">4.084</text><line x1="588.8" y1="398.6" x2="590.4" y2="400.4" stroke="#7070d8" stroke-width="0.5"/><text x="607.3" y="405.5" font-size="5.3" text-anchor="middle" fill="#333">4.085</text><line x1="608.0" y1="392.7" x2="609.6" y2="394.5" stroke="#7070d8" stroke-width="0.5"/><text x="625.1" y="400.1" font-size="5.3" text-anchor="middle" fill="#333">4.086</text><line x1="627.2" y1="386.8" x2="628.8" y2="388.6" stroke="#7070d8" stroke-width="0.5"/><text x="642.8" y="394.7" font-size="5.3" text-anchor="middle" fill="#333">4.087</text><line x1="646.4" y1="380.9" x2="648.0" y2="382.7" stroke="#7070d8" stroke-width="0.5"/><text x="294.2" y="402.4" font-size="5.3" fill="#333">x 10<tspan font-size="3.8" dy="-2.5">6</tspan></text><text x="629.2" y="423.4" font-size="5" fill="#333">x 10<tspan font-size="3.6" dy="-2.5">5</tspan></text><text x="360.7" y="446.2" font-size="5" text-anchor="middle" fill="#333">y coord (m)</text><text x="545.2" y="453.79999999999995" font-size="5" text-anchor="middle" fill="#333">x coord (m)</text><use href="#city" transform="translate(307.2,352.4)" style="--k0:#ff7800;--k1:#ff8700;--k2:#ff7800;--k3:#ffb700;--k4:#f7ff08;--k5:#c7ff38;--k6:#b7ff48;--k7:#ff8700;--k8:#fff700;--k9:#c7ff38;--k10:#ff7800;--k11:#ffa700;--k12:#ffc700;--k13:#ff7800;--k14:#ffc700;--k15:#c7ff38;--k16:#97ff68;--k17:#97ff68;--k18:#ff7800;--k19:#ffa700;--k20:#ffe700;--k21:#fff700;--k22:#ff6800;--k23:#ff9700;--k24:#ffc700;--k25:#ffe700;--k26:#ffe700;--k27:#ff6800;--k28:#ff9700;--k29:#ffc700;--k30:#ffe700;--k31:#ffe700;--k32:#ff6800;--k33:#ffa700;--k34:#ffc700;--k35:#ff6800;--k36:#ff9700;--k37:#ffb700;--k38:#ffd700;--k39:#ffe700;--k40:#ff7800;--k41:#ffb700;--k42:#ffd700;--k43:#ff6800;--k44:#ffa700;--k45:#ffc700;--k46:#ffe700;--k47:#ffe700;--k48:#ff6800;--k49:#ff9700;--k50:#ffb700;--k51:#ffd700;--k52:#ffe700;--k53:#ff9700;--k54:#e7ff18;--k55:#97ff68;--k56:#97ff68;--k57:#97ff68;--k58:#ff9700;--k59:#d7ff28;--k60:#97ff68;--k61:#ff7800;--k62:#ffb700;--k63:#fff700;--k64:#c7ff38;--k65:#b7ff48;--k66:#ff7800;--k67:#ffc700;--k68:#d7ff28;--k69:#97ff68;--k70:#97ff68;--k71:#ff9700;--k72:#d7ff28;--k73:#97ff68;--k74:#ff8700;--k75:#ffe700;--k76:#b7ff48;--k77:#b7ff48;--k78:#ff6800;--k79:#ffa700;--k80:#ffe700;--k81:#e7ff18;--k82:#c7ff38;--k83:#ff8700;--k84:#ffb700;--k85:#ff6800;--k86:#ff7800;--k87:#ff6800;--k88:#ff9700;--k89:#ffc700;--k90:#ffd700;--k91:#ff6800;--k92:#ff8700;--k93:#ffb700;--k94:#ffd700;--k95:#ffd700;--k96:#ff7800;--k97:#ffb700;--k98:#f7ff08;--k99:#d7ff28;--k100:#ff7800;--k101:#ffd700;--k102:#c7ff38;--k103:#97ff68;--k104:#97ff68;--k105:#ff8700;--k106:#fff700;--k107:#d7ff28;--k108:#ff7800;--k109:#ffc700;--k110:#fff700;--k111:#ff6800;--k112:#ff7800;--k113:#ff6800;--k114:#ff8700;--k115:#ff6800;--k116:#ff9700;--k117:#ffa700;--k118:#ff6800;--k119:#ff8700;--k120:#ffb700;--k121:#ffd700;--k122:#ffe700;--k123:#ffe700;--k124:#ff6800;--k125:#ff8700;--k126:#ffb700;--k127:#ffc700;--k128:#ffd700;--k129:#ffd700;--k130:#ff8700;--k131:#ffc700;--k132:#ff6800;--k133:#ffa700;--k134:#ffc700;--k135:#ff6800;--k136:#ff9700;--k137:#ffb700;--k138:#ffc700;--k139:#ffd700;--k140:#ffd700;--k141:#ffe700;--k142:#ffe700;--k143:#ff6800;--k144:#ffa700;--k145:#ffe700;--k146:#fff700;--k147:#ff7800;--k148:#ffc700;--k149:#ffe700;--k150:#ff6800;--k151:#ffa700;--k152:#ffd700;--k153:#ff6800;--k154:#ff9700;--k155:#ffb700;--k156:#ffd700;--k157:#ffd700;--k158:#ffe700;--k159:#ffe700;--k160:#ff6800;--k161:#ff7800;--k162:#ff8700;--k163:#ffe700;--k164:#e7ff18;--k165:#ff7800;--k166:#ffb700;--k167:#f7ff08;--k168:#d7ff28;--k169:#ff8700;--k170:#ffe700;--k171:#d7ff28;--k172:#ff7800;--k173:#ffb700;--k174:#e7ff18;--k175:#a7ff58;--k176:#97ff68;--k177:#97ff68;--k178:#97ff68;--k179:#97ff68;--k180:#ff6800;--k181:#ff6800;--k182:#ff6800;--k183:#ff7800;--k184:#ff5800;--k185:#ff7800;--k186:#ff9700;--k187:#ffb700;--k188:#ffc700;--k189:#ff6800;--k190:#ff9700;--k191:#ffc700;--k192:#ffd700;--k193:#ffe700;--k194:#ff6800;--k195:#ffa700;--k196:#ffe700;--k197:#e7ff18;--k198:#b7ff48;--k199:#97ff68;--k200:#97ff68;--k201:#ff7800;--k202:#ffb700;--k203:#fff700;--k204:#e7ff18;--k205:#d7ff28;--k206:#ff6800;--k207:#ff9700;--k208:#ffc700;--k209:#ffe700;--k210:#ff6800;--k211:#ff7800;--k212:#ff9700;--k213:#ffa700;--k214:#ff6800;--k215:#ff8700;--k216:#ffb700;--k217:#ffd700;--k218:#ffd700;--k219:#ff5800;--k220:#ff6800;--k221:#ff7800;--k222:#ff8700;--k223:#ff9700;--k224:#ffa700;--k225:#ff5800;--k226:#ff6800;--k227:#ff8700;--k228:#ff9700;--k229:#ffa700;--k230:#18ffe7;--k231:#0097ff;--k232:#0028ff;--k233:#0000e7;--k234:#ff6800;--k235:#ffa700;--k236:#ffe700;--k237:#c7ff38;--k238:#97ff68;--k239:#97ff68;--k240:#ff6800;--k241:#ff8700;--k242:#ffa700;--k243:#ff5800;--k244:#ff5800;--k245:#ff6800;--k246:#ff8700;--k247:#ffa700;--k248:#ffc700;--k249:#ffe700;--k250:#e7ff18;--k251:#b7ff48;--k252:#a7ff58;--k253:#ff6800;--k254:#ff7800;--k255:#ff9700;--k256:#ffa700;--k257:#ffa700;--k258:#ff5800;--k259:#ff7800;--k260:#ff8700;--k261:#ff6800;--k262:#ff8700;--k263:#ffa700;--k264:#ff5800;--k265:#ff7800;--k266:#ff9700;--k267:#ffc700;--k268:#ffd700;--k269:#ff8700;--k270:#fff700;--k271:#d7ff28;--k272:#ff8700;--k273:#ffe700;--k274:#b7ff48;--k275:#97ff68;--k276:#97ff68;--k277:#97ff68;--k278:#97ff68;--k279:#ff5800;--k280:#ff5800;--k281:#ff6800;--k282:#ff6800;--k283:#ff6800;--k284:#ff7800;--k285:#ff5800;--k286:#ff5800;--k287:#ff6800;--k288:#ff6800;--k289:#ff7800;--k290:#ff7800;--k291:#ff8700;--k292:#ff6800;--k293:#ff6800;--k294:#ff5800;--k295:#ff7800;--k296:#ff8700;--k297:#ff9700;--k298:#ff6800;--k299:#ff9700;--k300:#ffb700;--k301:#ff5800;--k302:#ff7800;--k303:#ff9700;--k304:#ffa700;--k305:#ff5800;--k306:#ff5800;--k307:#ff6800;--k308:#ff6800;--k309:#ff7800;--k310:#ff8700;--k311:#ff8700;--k312:#ff9700;--k313:#ff5800;--k314:#ff5800;--k315:#ff8700;--k316:#e7ff18;--k317:#a7ff58;--k318:#ff6800;--k319:#ff8700;--k320:#ffa700;--k321:#08fff7;--k322:#0078ff;--k323:#0028ff;--k324:#ff5800;--k325:#ff5800;--k326:#ff5800;--k327:#ff6800;--k328:#ff7800;--k329:#ff8700;--k330:#ff8700;--k331:#ff6800;--k332:#ffa700;--k333:#ffc700;--k334:#ff8700;--k335:#f7ff08;--k336:#a7ff58;--k337:#ff5800;--k338:#ff7800;--k339:#ff7800;--k340:#ff6800;--k341:#ff7800;--k342:#ff5800;--k343:#ff6800;--k344:#ff6800;--k345:#ff7800;--k346:#ff5800;--k347:#ff7800;--k348:#ff8700;--k349:#ff9700;--k350:#ff9700;--k351:#ff7800;--k352:#ffb700;--k353:#fff700;--k354:#e7ff18;--k355:#c7ff38;--k356:#ff5800;--k357:#ff6800;--k358:#ff6800;--k359:#ff7800;--k360:#ff8700;--k361:#ff8700;--k362:#ff5800;--k363:#ff6800;--k364:#ff6800;--k365:#ff5800;--k366:#ff6800;--k367:#ff7800;--k368:#ff8700;--k369:#ff8700;--k370:#ff6800;--k371:#ff7800;--k372:#ff6800;--k373:#ff8700;--k374:#ffc700;--k375:#ffe700;--k376:#ff5800;--k377:#ff5800;--k378:#ff5800;--k379:#ff6800;--k380:#ff6800;--k381:#ff7800;--k382:#ff7800;--k383:#ff5800;--k384:#ff5800;--k385:#ff5800;--k386:#ff6800;--k387:#ff6800;--k388:#ff6800;--k389:#ff7800;--k390:#ffa700;--k391:#ff8700;--k392:#fff700;--k393:#d7ff28;--k394:#ff5800;--k395:#ff6800;--k396:#ff7800;--k397:#ff8700;--k398:#ff8700;--k399:#ff5800;--k400:#ff5800;--k401:#ff5800;--k402:#ff5800;--k403:#ff6800;--k404:#ff6800;--k405:#ffb700;--k406:#ffd700;--k407:#ff9700;--k408:#d7ff28;--k409:#97ff68;--k410:#97ff68;--k411:#ff5800;--k412:#ff6800;--k413:#ff7800;--k414:#ff8700;--k415:#ff8700;--k416:#ff5800;--k417:#ff7800;--k418:#ff8700;--k419:#ff6800;--k420:#ff8700;--k421:#ff9700;--k422:#ff5800;--k423:#ff7800;--k424:#ff8700;--k425:#ff9700;--k426:#ff6800;--k427:#ff8700;--k428:#ffb700;--k429:#fff700;--k430:#e7ff18;--k431:#ff5800;--k432:#ff6800;--k433:#ff5800;--k434:#ff6800;--k435:#ff6800;--k436:#ff7800;--k437:#ff5800;--k438:#ff5800;--k439:#ff6800;--k440:#ff6800;--k441:#ff6800;--k442:#ff6800;--k443:#ffb700;--k444:#e7ff18;--k445:#97ff68;--k446:#97ff68;--k447:#ff5800;--k448:#ff6800;--k449:#ff5800;--k450:#ff7800;--k451:#ffa700;--k452:#ffc700;--k453:#ff5800;--k454:#ff5800;--k455:#ff5800;--k456:#ff5800;--k457:#ff5800;--k458:#ff5800;--k459:#ff5800;--k460:#ff6800;--k461:#ff5800;--k462:#ff5800;--k463:#ff6800;--k464:#ff7800;--k465:#ff7800;--k466:#ff8700;--k467:#ff5800;--k468:#ff6800;--k469:#ff6800;--k470:#ff7800;--k471:#ff8700;--k472:#ff9700;--k473:#ffa700;--k474:#ff6800;--k475:#ff7800;--k476:#ff5800;--k477:#ff5800;--k478:#ff6800;--k479:#ff8700;--k480:#ffb700;--k481:#fff700;--k482:#b7ff48;--k483:#97ff68;--k484:#97ff68;--k485:#ff5800;--k486:#ff8700;--k487:#ffa700;--k488:#ffc700;--k489:#ff5800;--k490:#ff5800;--k491:#ff6800;--k492:#ff8700;--k493:#ffa700;--k494:#ffb700;--k495:#ff5800;--k496:#ff5800;--k497:#ff6800;--k498:#ff6800;--k499:#ff6800;--k500:#ff6800;--k501:#ff5800;--k502:#ff6800;--k503:#ff7800;--k504:#ff8700;--k505:#ff9700;--k506:#ff9700;--k507:#ff5800;--k508:#ff5800;--k509:#ff6800;--k510:#ff8700;--k511:#ffa700;--k512:#ff6800;--k513:#ff8700;--k514:#ffa700;--k515:#ffc700;--k516:#ffe700;--k517:#f7ff08;--k518:#c7ff38;--k519:#a7ff58;--k520:#97ff68;--k521:#ff5800;--k522:#ff6800;--k523:#ff6800;--k524:#ff7800;--k525:#ff8700;--k526:#ff9700;--k527:#ffa700;--k528:#ff5800;--k529:#ff6800;--k530:#ff5800;--k531:#ff5800;--k532:#ff6800;--k533:#ff8700;--k534:#ffa700;--k535:#ffc700;--k536:#ff5800;--k537:#ff5800;--k538:#ff6800;--k539:#ff7800;--k540:#ff7800;--k541:#ff8700;--k542:#ff9700;--k543:#ff9700;--k544:#ff5800;--k545:#ff7800;--k546:#ffa700;--k547:#ffb700;--k548:#ff5800;--k549:#ff5800;--k550:#ff6800;--k551:#ff6800;--k552:#ff6800;--k553:#ff7800;--k554:#ff7800;--k555:#18ffe7;--k556:#00a7ff;--k557:#0038ff;--k558:#0008ff;--k559:#ff5800;--k560:#ff6800;--k561:#ff7800;--k562:#ff7800;--k563:#ff7800;--k564:#ff8700;--k565:#ff8700;--k566:#ff8700;--k567:#ff9700;--k568:#ff6800;--k569:#ff9700;--k570:#ffb700;--k571:#ff6800;--k572:#ff8700;--k573:#ffb700;--k574:#ffe700;--k575:#e7ff18;--k576:#b7ff48;--k577:#97ff68;--k578:#97ff68;--k579:#ff5800;--k580:#ff7800;--k581:#ff9700;--k582:#ffb700;--k583:#ffc700;--k584:#ff5800;--k585:#ff5800;--k586:#ff6800;--k587:#ff6800;--k588:#ff7800;--k589:#ff5800;--k590:#ff5800;--k591:#ff6800;--k592:#ff7800;--k593:#ff7800;--k594:#ff5800;--k595:#ff5800;--k596:#ff6800;--k597:#ff7800;--k598:#ff7800;--k599:#ff8700;--k600:#ff5800;--k601:#ff5800;--k602:#ff5800;--k603:#ff6800;--k604:#ff8700;--k605:#ffa700;--k606:#ffb700;--k607:#ff5800;--k608:#ff5800;--k609:#ff5800;--k610:#ff5800;--k611:#ff6800;--k612:#ff5800;--k613:#ff7800;--k614:#ff9700;--k615:#ffb700;--k616:#ffd700;--k617:#f7ff08;--k618:#d7ff28;--k619:#ff5800;--k620:#ff5800;--k621:#ff6800;--k622:#ff6800;--k623:#ff6800;--k624:#ff7800;--k625:#ff5800;--k626:#ff7800;--k627:#ff9700;--k628:#ffb700;--k629:#ffd700;--k630:#fff700;--k631:#ff5800;--k632:#ff6800;--k633:#ff6800;--k634:#ff7800;--k635:#ff7800;--k636:#ff5800;--k637:#ff5800;--k638:#ff6800;--k639:#ff8700;--k640:#ffb700;--k641:#ffe700;--k642:#f7ff08;--k643:#ff5800;--k644:#ff6800;--k645:#ff5800;--k646:#ff5800;--k647:#ff6800;--k648:#ff6800;--k649:#ff5800;--k650:#ff7800;--k651:#ff9700;--k652:#ffb700;--k653:#ffc700;--k654:#ff5800;--k655:#ff5800;--k656:#ff6800;--k657:#ff7800;--k658:#ff7800;--k659:#ff6800;--k660:#ff8700;--k661:#ffa700;--k662:#ffc700;--k663:#ff5800;--k664:#ff6800;--k665:#ff6800;--k666:#ff6800;--k667:#ff5800;--k668:#ff5800;--k669:#ff6800;--k670:#ff6800;--k671:#ff6800;--k672:#ff6800;--k673:#ff8700;--k674:#ff9700;--k675:#ff5800;--k676:#ff7800;--k677:#ff9700;--k678:#18ffe7;--k679:#00a7ff;--k680:#0078ff;--k681:#08fff7;--k682:#0087ff;--k683:#0048ff;--k684:#ff5800;--k685:#ff6800;--k686:#ff6800;--k687:#ff7800;--k688:#ff5800;--k689:#ff5800;--k690:#ff5800;--k691:#ff7800;--k692:#ffa700;--k693:#ffc700;--k694:#fff700;--k695:#c7ff38;--k696:#97ff68;--k697:#97ff68;--k698:#ff5800;--k699:#ff5800;--k700:#ff6800;--k701:#ff7800;--k702:#ff6800;--k703:#ff8700;--k704:#ffa700;--k705:#ff5800;--k706:#ff6800;--k707:#ff5800;--k708:#ff5800;--k709:#ff6800;--k710:#ff7800;--k711:#ff7800;--k712:#ff6800;--k713:#ff7800;--k714:#ff5800;--k715:#ff6800;--k716:#ff6800;--k717:#ff7800;--k718:#ff8700;--k719:#ff5800;--k720:#ff5800;--k721:#ff5800;--k722:#ff6800;--k723:#ff8700;--k724:#ff9700;--k725:#ff6800;--k726:#ff7800;--k727:#ff6800;--k728:#ff8700;--k729:#ffa700;--k730:#ffe700;--k731:#e7ff18;--k732:#a7ff58;--k733:#97ff68;--k734:#97ff68;--k735:#ff5800;--k736:#ff5800;--k737:#ff5800;--k738:#ff5800;--k739:#ff5800;--k740:#ff5800;--k741:#ff6800;--k742:#ff6800;--k743:#ff7800;--k744:#ff8700;--k745:#ff9700;--k746:#ffa700;--k747:#ff5800;--k748:#ff6800;--k749:#ff7800;--k750:#ff7800;--k751:#ff6800;--k752:#ff8700;--k753:#ffb700;--k754:#ffd700;--k755:#ff5800;--k756:#ff5800;--k757:#ff6800;--k758:#ff6800;--k759:#ff5800;--k760:#ff6800;--k761:#ff7800;--k762:#ff8700;--k763:#ff9700;--k764:#ffa700;--k765:#ffb700;--k766:#ffc700;--k767:#ff6800;--k768:#ff8700;--k769:#ffb700;--k770:#fff700;--k771:#e7ff18;--k772:#ff6800;--k773:#ff6800;--k774:#ff5800;--k775:#ff7800;--k776:#ffa700;--k777:#ffc700;--k778:#ffe700;--k779:#ff6800;--k780:#ff7800;--k781:#ff5800;--k782:#ff5800;--k783:#ff5800;--k784:#ff7800;--k785:#ffa700;--k786:#ffd700;--k787:#f7ff08;--k788:#b7ff48;--k789:#a7ff58;--k790:#ff5800;--k791:#ff6800;--k792:#ff6800;--k793:#ff7800;--k794:#ff8700;--k795:#ffa700;--k796:#ffb700;--k797:#ffb700;--k798:#ff5800;--k799:#ff6800;--k800:#ff6800;--k801:#ff6800;--k802:#ff5800;--k803:#ff6800;--k804:#ff7800;--k805:#ff8700;--k806:#ff9700;--k807:#ffa700;--k808:#ffb700;--k809:#ffc700;--k810:#ff6800;--k811:#ff7800;--k812:#08fff7;--k813:#0097ff;--k814:#0018ff;--k815:#0000d7;--k816:#ff5800;--k817:#ff5800;--k818:#ff6800;--k819:#ff7800;--k820:#ff7800;--k821:#ff5800;--k822:#ff6800;--k823:#ff6800;--k824:#ff5800;--k825:#ff5800;--k826:#ff6800;--k827:#ff6800;--k828:#ff5800;--k829:#ff6800;--k830:#ff5800;--k831:#ff5800;--k832:#ff5800;--k833:#ff5800;--k834:#ff5800;--k835:#ff7800;--k836:#ff8700;--k837:#ffb700;--k838:#ffd700;--k839:#f7ff08;--k840:#d7ff28;--k841:#b7ff48;--k842:#ff6800;--k843:#ff7800;--k844:#ff5800;--k845:#ff5800;--k846:#ff6800;--k847:#ff7800;--k848:#ff6800;--k849:#ff8700;--k850:#ffa700;--k851:#ff5800;--k852:#ff7800;--k853:#ff8700;--k854:#ff5800;--k855:#ff5800;--k856:#ff5800;--k857:#ff5800;--k858:#ff6800;--k859:#ff5800;--k860:#ff7800;--k861:#ffa700;--k862:#ffb700;--k863:#ff6800;--k864:#ff8700;--k865:#ffc700;--k866:#f7ff08;--k867:#b7ff48;--k868:#97ff68;--k869:#97ff68;--k870:#ff5800;--k871:#ff5800;--k872:#ff5800;--k873:#ff6800;--k874:#ff6800;--k875:#ff5800;--k876:#ff5800;--k877:#ff5800;--k878:#ff5800;--k879:#ff5800;--k880:#ff7800;--k881:#ff8700;--k882:#ff5800;--k883:#ff6800;--k884:#ff6800;--k885:#ff7800;--k886:#ff5800;--k887:#ff6800;--k888:#ff6800;--k889:#ff7800;--k890:#ff8700;--k891:#ff9700;--k892:#ff6800;--k893:#ff8700;--k894:#ffb700;--k895:#fff700;--k896:#b7ff48;--k897:#97ff68;--k898:#ff5800;--k899:#ff7800;--k900:#ff8700;--k901:#ff6800;--k902:#ff8700;--k903:#ffb700;--k904:#ffe700;--k905:#f7ff08;--k906:#ff5800;--k907:#ff5800;--k908:#ff6800;--k909:#ff6800;--k910:#ff5800;--k911:#ff6800;--k912:#ff6800;--k913:#ff5800;--k914:#ff5800;--k915:#ff5800;--k916:#ff5800;--k917:#ff6800;--k918:#ff6800;--k919:#ff6800;--k920:#ff5800;--k921:#ff5800;--k922:#ff6800;--k923:#ff6800;--k924:#ff5800;--k925:#ff5800;--k926:#ff6800;--k927:#ff6800;--k928:#ff6800;--k929:#ff7800;--k930:#ff5800;--k931:#ff7800;--k932:#ff9700;--k933:#ffa700;--k934:#ff5800;--k935:#ff7800;--k936:#ff9700;--k937:#ffc700;--k938:#ffd700;--k939:#ff5800;--k940:#ff7800;--k941:#ff8700;--k942:#ffa700;--k943:#ffb700;--k944:#ff5800;--k945:#ff5800;--k946:#ff5800;--k947:#ff6800;--k948:#ff6800;--k949:#ff6800;--k950:#ff5800;--k951:#ff7800;--k952:#ff9700;--k953:#ffb700;--k954:#ffd700;--k955:#fff700;--k956:#ff5800;--k957:#ff7800;--k958:#ff9700;--k959:#ffc700;--k960:#fff700;--k961:#e7ff18;--k962:#ff6800;--k963:#ff8700;--k964:#ffa700;--k965:#ff5800;--k966:#ff5800"/><rect x="655.3" y="260" width="11.300000000000068" height="182.3" fill="url(#jg)" stroke="#222" stroke-width="0.6"/><line x1="655.3" y1="268.8" x2="656.9" y2="268.8" stroke="#222" stroke-width="0.6"/><line x1="665.0" y1="268.8" x2="666.6" y2="268.8" stroke="#222" stroke-width="0.6"/><text x="667.8000000000001" y="271.40000000000003" font-size="5.6" fill="#333">2</text><line x1="655.3" y1="297.3" x2="656.9" y2="297.3" stroke="#222" stroke-width="0.6"/><line x1="665.0" y1="297.3" x2="666.6" y2="297.3" stroke="#222" stroke-width="0.6"/><text x="667.8000000000001" y="299.90000000000003" font-size="5.6" fill="#333">0</text><line x1="655.3" y1="325.8" x2="656.9" y2="325.8" stroke="#222" stroke-width="0.6"/><line x1="665.0" y1="325.8" x2="666.6" y2="325.8" stroke="#222" stroke-width="0.6"/><text x="667.8000000000001" y="328.40000000000003" font-size="5.6" fill="#333">-2</text><line x1="655.3" y1="354.3" x2="656.9" y2="354.3" stroke="#222" stroke-width="0.6"/><line x1="665.0" y1="354.3" x2="666.6" y2="354.3" stroke="#222" stroke-width="0.6"/><text x="667.8000000000001" y="356.90000000000003" font-size="5.6" fill="#333">-4</text><line x1="655.3" y1="382.8" x2="656.9" y2="382.8" stroke="#222" stroke-width="0.6"/><line x1="665.0" y1="382.8" x2="666.6" y2="382.8" stroke="#222" stroke-width="0.6"/><text x="667.8000000000001" y="385.40000000000003" font-size="5.6" fill="#333">-6</text><line x1="655.3" y1="411.3" x2="656.9" y2="411.3" stroke="#222" stroke-width="0.6"/><line x1="665.0" y1="411.3" x2="666.6" y2="411.3" stroke="#222" stroke-width="0.6"/><text x="667.8000000000001" y="413.90000000000003" font-size="5.6" fill="#333">-8</text><line x1="655.3" y1="439.8" x2="656.9" y2="439.8" stroke="#222" stroke-width="0.6"/><line x1="665.0" y1="439.8" x2="666.6" y2="439.8" stroke="#222" stroke-width="0.6"/><text x="667.8000000000001" y="442.40000000000003" font-size="5.6" fill="#333">-10</text><text x="666" y="256.5" font-size="5.6" fill="#333">x 10<tspan font-size="4" dy="-2.8">-3</tspan></text><text x="661" y="451" font-size="6.5" font-weight="bold" text-anchor="middle" font-family="Liberation Serif, serif" fill="#222">(m)</text><text x="476.2" y="255.1" font-size="9.25" text-anchor="middle" fill="#222">Max. Displacement is : 0.010191 m (t=60 sec)</text><text x="293" y="477.2" font-size="19" font-weight="bold" text-anchor="middle" font-family="Liberation Serif, serif" fill="#111">(b)</text><rect x="17.5" y="481.3" width="14.600000000000001" height="194.09999999999997" fill="url(#jg)" stroke="#222" stroke-width="0.6"/><line x1="17.5" y1="518.3" x2="19.1" y2="518.3" stroke="#222" stroke-width="0.6"/><line x1="30.5" y1="518.3" x2="32.1" y2="518.3" stroke="#222" stroke-width="0.6"/><text x="15.2" y="520.9" font-size="7.3" text-anchor="end" fill="#333">2.8</text><line x1="17.5" y1="561.37" x2="19.1" y2="561.37" stroke="#222" stroke-width="0.6"/><line x1="30.5" y1="561.37" x2="32.1" y2="561.37" stroke="#222" stroke-width="0.6"/><text x="15.2" y="563.97" font-size="7.3" text-anchor="end" fill="#333">2.75</text><line x1="17.5" y1="604.4399999999999" x2="19.1" y2="604.4399999999999" stroke="#222" stroke-width="0.6"/><line x1="30.5" y1="604.4399999999999" x2="32.1" y2="604.4399999999999" stroke="#222" stroke-width="0.6"/><text x="15.2" y="607.04" font-size="7.3" text-anchor="end" fill="#333">2.7</text><line x1="17.5" y1="647.51" x2="19.1" y2="647.51" stroke="#222" stroke-width="0.6"/><line x1="30.5" y1="647.51" x2="32.1" y2="647.51" stroke="#222" stroke-width="0.6"/><text x="15.2" y="650.11" font-size="7.3" text-anchor="end" fill="#333">2.65</text><text x="25" y="686.2" font-size="10" font-weight="bold" text-anchor="middle" font-family="Liberation Serif, serif" fill="#222">(cm)</text><g transform="translate(-7.2,479.5)"><clipPath id="tcc"><polygon points="93.4,99.6 104.6,91.1 119.2,80.1 128,71.4 138.2,62.6 151.3,56.8 163,51.7 174.7,47.3 181.7,44.5 195,53.9 211.1,70.7 225.7,80.9 240.3,91.1 256.4,105.7 240,110.4 220.3,119.2 205.7,126.5 191.1,133.8 180.9,141.1 168.4,155 158,144.9 143.4,133.9 128.8,123.7 121.5,119.3 106.9,110.5"/></clipPath><g clip-path="url(#tcc)"><g filter="url(#jetf)"><rect x="80" y="35" width="190" height="130" fill="rgb(107,107,107)"/><polygon points="80.0,95.0 100.0,84.0 118.0,72.0 135.0,58.0 160.0,46.0 185.0,36.0 196.0,46.0 190.0,52.0 175.0,60.0 160.0,66.0 150.0,74.0 145.0,90.0 140.0,110.0 150.0,130.0 160.0,150.0 165.0,160.0 150.0,162.0 120.0,132.0 85.0,112.0" fill="rgb(82,82,82)" /><polygon points="80.0,95.0 100.0,84.0 118.0,72.0 135.0,58.0 160.0,46.0 185.0,36.0 190.0,45.0 178.0,52.0 160.0,58.0 145.0,66.0 135.0,76.0" fill="rgb(51,51,51)" /><polygon points="80.0,97.0 95.0,86.0 110.0,78.0 122.0,76.0 124.0,92.0 120.0,108.0 108.0,112.0 85.0,108.0" fill="rgb(18,18,18)" /><ellipse cx="134" cy="88" rx="5" ry="10" fill="rgb(102,102,102)" transform="rotate(15 134 88)"/><ellipse cx="170" cy="100" rx="14" ry="20" fill="rgb(102,102,102)" transform="rotate(0 170 100)"/><polygon points="168.0,85.0 185.0,76.0 205.0,76.0 225.0,84.0 245.0,96.0 250.0,106.0 238.0,118.0 215.0,126.0 195.0,132.0 180.0,135.0 170.0,125.0 166.0,105.0" fill="rgb(133,133,133)" /><ellipse cx="205" cy="104" rx="18" ry="13" fill="rgb(143,143,143)" transform="rotate(-10 205 104)"/><ellipse cx="226" cy="101" rx="14" ry="6" fill="rgb(168,168,168)" transform="rotate(-8 226 101)"/><polygon points="209.0,97.0 222.0,94.5 229.0,100.0 220.0,106.0 211.0,105.0" fill="rgb(230,230,230)" /><ellipse cx="220" cy="100" rx="4" ry="2.6" fill="rgb(252,252,252)" transform="rotate(-10 220 100)"/><ellipse cx="250" cy="103" rx="6" ry="4" fill="rgb(153,153,153)" transform="rotate(-20 250 103)"/><ellipse cx="166" cy="150" rx="6" ry="5" fill="rgb(102,102,102)" transform="rotate(0 166 150)"/></g></g><line x1="88.6" y1="39.9" x2="88.6" y2="147.2" stroke="#666" stroke-width="0.8"/><line x1="89" y1="147.2" x2="126" y2="171.6" stroke="#666" stroke-width="0.7"/><line x1="126" y1="171.6" x2="163.4" y2="196.2" stroke="#4848c0" stroke-width="0.7"/><line x1="163.4" y1="196.2" x2="205" y2="180.3" stroke="#4848c0" stroke-width="0.7"/><line x1="205" y1="180.3" x2="262" y2="158.5" stroke="#6f6560" stroke-width="0.7"/><line x1="88.6" y1="60" x2="87" y2="60.8" stroke="#555" stroke-width="0.6"/><text x="84" y="61.4" font-size="7" text-anchor="end" fill="#333">100</text><line x1="88.6" y1="92.6" x2="87" y2="93.39999999999999" stroke="#555" stroke-width="0.6"/><text x="84" y="94.0" font-size="7" text-anchor="end" fill="#333">50</text><line x1="88.6" y1="124.5" x2="87" y2="125.3" stroke="#555" stroke-width="0.6"/><text x="84" y="125.9" font-size="7" text-anchor="end" fill="#333">0</text><text x="81.7" y="160.2" font-size="7" text-anchor="middle" fill="#333">4.544</text><text x="113.5" y="182.1" font-size="7" text-anchor="middle" fill="#333">4.5435</text><text x="150.3" y="205.1" font-size="7" text-anchor="middle" fill="#333">4.543</text><line x1="94.5" y1="150.6" x2="96.5" y2="149.79999999999998" stroke="#555" stroke-width="0.6"/><line x1="126.3" y1="171.3" x2="128.3" y2="170.5" stroke="#555" stroke-width="0.6"/><line x1="160.5" y1="194.3" x2="162.5" y2="193.5" stroke="#555" stroke-width="0.6"/><text x="184.7" y="201.9" font-size="7" text-anchor="middle" fill="#333">4.078</text><text x="201" y="195.4" font-size="7" text-anchor="middle" fill="#333">4.08</text><text x="220.5" y="188.6" font-size="7" text-anchor="middle" fill="#333">4.082</text><text x="238.9" y="181.5" font-size="7" text-anchor="middle" fill="#333">4.084</text><text x="256.3" y="174.9" font-size="7" text-anchor="middle" fill="#333">4.086</text><text x="274.7" y="167.5" font-size="7" text-anchor="middle" fill="#333">4.088</text><line x1="167.8" y1="194.5" x2="166.0" y2="193.3" stroke="#555" stroke-width="0.6"/><line x1="186.2" y1="187.5" x2="184.4" y2="186.3" stroke="#555" stroke-width="0.6"/><line x1="204.5" y1="180.5" x2="202.7" y2="179.3" stroke="#555" stroke-width="0.6"/><line x1="222.9" y1="173.5" x2="221.1" y2="172.3" stroke="#555" stroke-width="0.6"/><line x1="241.2" y1="166.5" x2="239.4" y2="165.3" stroke="#555" stroke-width="0.6"/><line x1="259.5" y1="159.4" x2="257.7" y2="158.2" stroke="#555" stroke-width="0.6"/><text x="64" y="185.5" font-size="6.5" fill="#333">x 10<tspan font-size="4.5" dy="-3">6</tspan></text><text x="267" y="193.5" font-size="6.5" fill="#333">x 10<tspan font-size="4.5" dy="-3">5</tspan></text></g><path d="M308,589.6L509.1,527.7L647.2,618.1L446.1,680.0" fill="none" stroke="#7070d8" stroke-width="0.7"/><line x1="308" y1="589.6" x2="446.1" y2="680.0" stroke="#666" stroke-width="0.7"/><line x1="308" y1="589.6" x2="308" y2="558.9" stroke="#666" stroke-width="0.7"/><line x1="308" y1="589.6" x2="306" y2="589.0" stroke="#666" stroke-width="0.5"/><text x="303" y="588.8" font-size="5.6" text-anchor="end" fill="#333">0</text><line x1="308" y1="574.2" x2="306" y2="573.6" stroke="#666" stroke-width="0.5"/><text x="303" y="573.5" font-size="5.6" text-anchor="end" fill="#333">10</text><line x1="308" y1="558.9" x2="306" y2="558.3" stroke="#666" stroke-width="0.5"/><text x="303" y="558.1" font-size="5.6" text-anchor="end" fill="#333">20</text><line x1="313.1" y1="592.9" x2="310.7" y2="593.6" stroke="#666" stroke-width="0.5"/><text x="297.2" y="599.8" font-size="5.5" text-anchor="middle" fill="#333">4.5441</text><line x1="325.7" y1="601.2" x2="323.3" y2="601.9" stroke="#666" stroke-width="0.5"/><text x="309.8" y="608.1" font-size="5.5" text-anchor="middle" fill="#333">4.544</text><line x1="338.3" y1="609.4" x2="335.9" y2="610.1" stroke="#666" stroke-width="0.5"/><text x="322.4" y="616.3" font-size="5.5" text-anchor="middle" fill="#333">4.5439</text><line x1="350.9" y1="617.7" x2="348.5" y2="618.4" stroke="#666" stroke-width="0.5"/><text x="335.0" y="624.6" font-size="5.5" text-anchor="middle" fill="#333">4.5438</text><line x1="363.5" y1="625.9" x2="361.1" y2="626.6" stroke="#666" stroke-width="0.5"/><text x="347.6" y="632.8" font-size="5.5" text-anchor="middle" fill="#333">4.5437</text><line x1="376.1" y1="634.2" x2="373.7" y2="634.9" stroke="#666" stroke-width="0.5"/><text x="360.2" y="641.1" font-size="5.5" text-anchor="middle" fill="#333">4.5436</text><line x1="388.7" y1="642.4" x2="386.3" y2="643.1" stroke="#666" stroke-width="0.5"/><text x="372.8" y="649.3" font-size="5.5" text-anchor="middle" fill="#333">4.5435</text><line x1="401.3" y1="650.7" x2="398.9" y2="651.4" stroke="#666" stroke-width="0.5"/><text x="385.5" y="657.6" font-size="5.5" text-anchor="middle" fill="#333">4.5434</text><line x1="413.9" y1="658.9" x2="411.5" y2="659.6" stroke="#666" stroke-width="0.5"/><text x="398.1" y="665.8" font-size="5.5" text-anchor="middle" fill="#333">4.5433</text><line x1="426.5" y1="667.2" x2="424.1" y2="667.9" stroke="#666" stroke-width="0.5"/><text x="410.7" y="674.1" font-size="5.5" text-anchor="middle" fill="#333">4.5432</text><line x1="439.2" y1="675.5" x2="436.8" y2="676.2" stroke="#666" stroke-width="0.5"/><text x="423.3" y="682.3" font-size="5.5" text-anchor="middle" fill="#333">4.5431</text><text x="466.2" y="685.7" font-size="5.3" text-anchor="middle" fill="#333">4.077</text><line x1="455.1" y1="677.2" x2="456.7" y2="679.0" stroke="#7070d8" stroke-width="0.5"/><text x="483.9" y="680.3" font-size="5.3" text-anchor="middle" fill="#333">4.078</text><line x1="474.4" y1="671.3" x2="476.0" y2="673.1" stroke="#7070d8" stroke-width="0.5"/><text x="501.7" y="674.9" font-size="5.3" text-anchor="middle" fill="#333">4.079</text><line x1="493.6" y1="665.4" x2="495.2" y2="667.2" stroke="#7070d8" stroke-width="0.5"/><text x="519.4" y="669.6" font-size="5.3" text-anchor="middle" fill="#333">4.08</text><line x1="512.8" y1="659.5" x2="514.4" y2="661.3" stroke="#7070d8" stroke-width="0.5"/><text x="537.2" y="664.2" font-size="5.3" text-anchor="middle" fill="#333">4.081</text><line x1="532.0" y1="653.6" x2="533.6" y2="655.4" stroke="#7070d8" stroke-width="0.5"/><text x="554.9" y="658.8" font-size="5.3" text-anchor="middle" fill="#333">4.082</text><line x1="551.2" y1="647.7" x2="552.8" y2="649.5" stroke="#7070d8" stroke-width="0.5"/><text x="572.6" y="653.4" font-size="5.3" text-anchor="middle" fill="#333">4.083</text><line x1="570.4" y1="641.7" x2="572.0" y2="643.5" stroke="#7070d8" stroke-width="0.5"/><text x="590.4" y="648.0" font-size="5.3" text-anchor="middle" fill="#333">4.084</text><line x1="589.6" y1="635.8" x2="591.2" y2="637.6" stroke="#7070d8" stroke-width="0.5"/><text x="608.1" y="642.7" font-size="5.3" text-anchor="middle" fill="#333">4.085</text><line x1="608.8" y1="629.9" x2="610.4" y2="631.7" stroke="#7070d8" stroke-width="0.5"/><text x="625.9" y="637.3" font-size="5.3" text-anchor="middle" fill="#333">4.086</text><line x1="628.0" y1="624.0" x2="629.6" y2="625.8" stroke="#7070d8" stroke-width="0.5"/><text x="643.6" y="631.9" font-size="5.3" text-anchor="middle" fill="#333">4.087</text><line x1="647.2" y1="618.1" x2="648.8" y2="619.9" stroke="#7070d8" stroke-width="0.5"/><text x="295" y="639.6" font-size="5.3" fill="#333">x 10<tspan font-size="3.8" dy="-2.5">6</tspan></text><text x="630" y="660.6" font-size="5" fill="#333">x 10<tspan font-size="3.6" dy="-2.5">5</tspan></text><text x="361.5" y="683.4" font-size="5" text-anchor="middle" fill="#333">y coord (m)</text><text x="546" y="691.0" font-size="5" text-anchor="middle" fill="#333">x coord (m)</text><use href="#city" transform="translate(308,589.6)" style="--k0:#b7ff48;--k1:#a7ff58;--k2:#f7ff08;--k3:#ffd700;--k4:#ffa700;--k5:#ff7800;--k6:#ff5800;--k7:#e7ff18;--k8:#fff700;--k9:#ffe700;--k10:#d7ff28;--k11:#e7ff18;--k12:#e7ff18;--k13:#d7ff28;--k14:#e7ff18;--k15:#e7ff18;--k16:#e7ff18;--k17:#f7ff08;--k18:#b7ff48;--k19:#87ff78;--k20:#48ffb7;--k21:#28ffd7;--k22:#b7ff48;--k23:#87ff78;--k24:#58ffa7;--k25:#18ffe7;--k26:#08fff7;--k27:#b7ff48;--k28:#87ff78;--k29:#58ffa7;--k30:#28ffd7;--k31:#08fff7;--k32:#c7ff38;--k33:#97ff68;--k34:#87ff78;--k35:#c7ff38;--k36:#97ff68;--k37:#78ff87;--k38:#48ffb7;--k39:#38ffc7;--k40:#d7ff28;--k41:#e7ff18;--k42:#e7ff18;--k43:#d7ff28;--k44:#e7ff18;--k45:#e7ff18;--k46:#e7ff18;--k47:#f7ff08;--k48:#c7ff38;--k49:#97ff68;--k50:#78ff87;--k51:#48ffb7;--k52:#38ffc7;--k53:#b7ff48;--k54:#87ff78;--k55:#58ffa7;--k56:#28ffd7;--k57:#08fff7;--k58:#b7ff48;--k59:#87ff78;--k60:#68ff97;--k61:#b7ff48;--k62:#87ff78;--k63:#48ffb7;--k64:#18ffe7;--k65:#00f7ff;--k66:#c7ff38;--k67:#a7ff58;--k68:#97ff68;--k69:#78ff87;--k70:#68ff97;--k71:#c7ff38;--k72:#97ff68;--k73:#87ff78;--k74:#b7ff48;--k75:#87ff78;--k76:#58ffa7;--k77:#38ffc7;--k78:#c7ff38;--k79:#a7ff58;--k80:#87ff78;--k81:#78ff87;--k82:#68ff97;--k83:#c7ff38;--k84:#a7ff58;--k85:#c7ff38;--k86:#b7ff48;--k87:#d7ff28;--k88:#e7ff18;--k89:#e7ff18;--k90:#e7ff18;--k91:#c7ff38;--k92:#97ff68;--k93:#78ff87;--k94:#58ffa7;--k95:#38ffc7;--k96:#b7ff48;--k97:#87ff78;--k98:#58ffa7;--k99:#48ffb7;--k100:#c7ff38;--k101:#97ff68;--k102:#68ff97;--k103:#38ffc7;--k104:#28ffd7;--k105:#c7ff38;--k106:#a7ff58;--k107:#97ff68;--k108:#b7ff48;--k109:#87ff78;--k110:#68ff97;--k111:#f7ff08;--k112:#fff700;--k113:#c7ff38;--k114:#b7ff48;--k115:#c7ff38;--k116:#a7ff58;--k117:#87ff78;--k118:#c7ff38;--k119:#97ff68;--k120:#68ff97;--k121:#38ffc7;--k122:#08fff7;--k123:#00f7ff;--k124:#c7ff38;--k125:#a7ff58;--k126:#78ff87;--k127:#58ffa7;--k128:#38ffc7;--k129:#28ffd7;--k130:#c7ff38;--k131:#b7ff48;--k132:#c7ff38;--k133:#97ff68;--k134:#87ff78;--k135:#b7ff48;--k136:#78ff87;--k137:#48ffb7;--k138:#08fff7;--k139:#00d7ff;--k140:#0097ff;--k141:#0058ff;--k142:#0038ff;--k143:#b7ff48;--k144:#78ff87;--k145:#48ffb7;--k146:#28ffd7;--k147:#f7ff08;--k148:#ffd700;--k149:#ffc700;--k150:#c7ff38;--k151:#97ff68;--k152:#87ff78;--k153:#f7ff08;--k154:#ffd700;--k155:#ffa700;--k156:#ff7800;--k157:#ff4800;--k158:#ff1800;--k159:#f70000;--k160:#f7ff08;--k161:#fff700;--k162:#c7ff38;--k163:#97ff68;--k164:#87ff78;--k165:#c7ff38;--k166:#a7ff58;--k167:#97ff68;--k168:#87ff78;--k169:#f7ff08;--k170:#ffd700;--k171:#ffc700;--k172:#b7ff48;--k173:#87ff78;--k174:#48ffb7;--k175:#18ffe7;--k176:#00d7ff;--k177:#00a7ff;--k178:#0068ff;--k179:#0058ff;--k180:#c7ff38;--k181:#b7ff48;--k182:#c7ff38;--k183:#b7ff48;--k184:#b7ff48;--k185:#87ff78;--k186:#58ffa7;--k187:#28ffd7;--k188:#18ffe7;--k189:#f7ff08;--k190:#ffd700;--k191:#ffa700;--k192:#ff7800;--k193:#ff5800;--k194:#d7ff28;--k195:#e7ff18;--k196:#e7ff18;--k197:#e7ff18;--k198:#f7ff08;--k199:#f7ff08;--k200:#f7ff08;--k201:#d7ff28;--k202:#e7ff18;--k203:#e7ff18;--k204:#e7ff18;--k205:#f7ff08;--k206:#f7ff08;--k207:#ffd700;--k208:#ffa700;--k209:#ff9700;--k210:#c7ff38;--k211:#a7ff58;--k212:#87ff78;--k213:#78ff87;--k214:#d7ff28;--k215:#e7ff18;--k216:#e7ff18;--k217:#e7ff18;--k218:#f7ff08;--k219:#c7ff38;--k220:#97ff68;--k221:#68ff97;--k222:#48ffb7;--k223:#18ffe7;--k224:#08fff7;--k225:#c7ff38;--k226:#97ff68;--k227:#68ff97;--k228:#48ffb7;--k229:#28ffd7;--k230:#a7ff58;--k231:#78ff87;--k232:#38ffc7;--k233:#18ffe7;--k234:#b7ff48;--k235:#87ff78;--k236:#48ffb7;--k237:#08fff7;--k238:#00d7ff;--k239:#00b7ff;--k240:#b7ff48;--k241:#87ff78;--k242:#68ff97;--k243:#d7ff28;--k244:#d7ff28;--k245:#c7ff38;--k246:#97ff68;--k247:#68ff97;--k248:#48ffb7;--k249:#18ffe7;--k250:#00e7ff;--k251:#00c7ff;--k252:#00a7ff;--k253:#b7ff48;--k254:#87ff78;--k255:#48ffb7;--k256:#18ffe7;--k257:#00f7ff;--k258:#b7ff48;--k259:#87ff78;--k260:#68ff97;--k261:#b7ff48;--k262:#87ff78;--k263:#68ff97;--k264:#c7ff38;--k265:#97ff68;--k266:#78ff87;--k267:#48ffb7;--k268:#38ffc7;--k269:#c7ff38;--k270:#a7ff58;--k271:#87ff78;--k272:#d7ff28;--k273:#f7ff08;--k274:#fff700;--k275:#ffe700;--k276:#ffd700;--k277:#ffc700;--k278:#ffc700;--k279:#b7ff48;--k280:#87ff78;--k281:#58ffa7;--k282:#38ffc7;--k283:#c7ff38;--k284:#b7ff48;--k285:#b7ff48;--k286:#87ff78;--k287:#58ffa7;--k288:#28ffd7;--k289:#00f7ff;--k290:#00c7ff;--k291:#00b7ff;--k292:#b7ff48;--k293:#97ff68;--k294:#c7ff38;--k295:#97ff68;--k296:#78ff87;--k297:#58ffa7;--k298:#d7ff28;--k299:#e7ff18;--k300:#e7ff18;--k301:#b7ff48;--k302:#87ff78;--k303:#58ffa7;--k304:#38ffc7;--k305:#b7ff48;--k306:#87ff78;--k307:#58ffa7;--k308:#28ffd7;--k309:#00f7ff;--k310:#00c7ff;--k311:#0097ff;--k312:#0087ff;--k313:#b7ff48;--k314:#97ff68;--k315:#c7ff38;--k316:#a7ff58;--k317:#97ff68;--k318:#b7ff48;--k319:#87ff78;--k320:#68ff97;--k321:#97ff68;--k322:#48ffb7;--k323:#18ffe7;--k324:#f7ff08;--k325:#fff700;--k326:#d7ff28;--k327:#e7ff18;--k328:#e7ff18;--k329:#e7ff18;--k330:#f7ff08;--k331:#c7ff38;--k332:#97ff68;--k333:#78ff87;--k334:#b7ff48;--k335:#97ff68;--k336:#78ff87;--k337:#c7ff38;--k338:#a7ff58;--k339:#97ff68;--k340:#d7ff28;--k341:#d7ff28;--k342:#f7ff08;--k343:#ffd700;--k344:#ffa700;--k345:#ff9700;--k346:#fff700;--k347:#ff9700;--k348:#ff4800;--k349:#e70000;--k350:#b70000;--k351:#c7ff38;--k352:#a7ff58;--k353:#97ff68;--k354:#78ff87;--k355:#68ff97;--k356:#b7ff48;--k357:#78ff87;--k358:#48ffb7;--k359:#08fff7;--k360:#00c7ff;--k361:#00a7ff;--k362:#a7ff58;--k363:#58ffa7;--k364:#28ffd7;--k365:#c7ff38;--k366:#97ff68;--k367:#78ff87;--k368:#58ffa7;--k369:#38ffc7;--k370:#c7ff38;--k371:#a7ff58;--k372:#c7ff38;--k373:#97ff68;--k374:#68ff97;--k375:#58ffa7;--k376:#c7ff38;--k377:#b7ff48;--k378:#c7ff38;--k379:#97ff68;--k380:#78ff87;--k381:#58ffa7;--k382:#38ffc7;--k383:#f7ff08;--k384:#ffd700;--k385:#ffa700;--k386:#ff7800;--k387:#ff4800;--k388:#ff2800;--k389:#c7ff38;--k390:#a7ff58;--k391:#c7ff38;--k392:#a7ff58;--k393:#a7ff58;--k394:#b7ff48;--k395:#87ff78;--k396:#58ffa7;--k397:#18ffe7;--k398:#08fff7;--k399:#b7ff48;--k400:#a7ff58;--k401:#d7ff28;--k402:#e7ff18;--k403:#e7ff18;--k404:#c7ff38;--k405:#97ff68;--k406:#87ff78;--k407:#c7ff38;--k408:#a7ff58;--k409:#97ff68;--k410:#87ff78;--k411:#b7ff48;--k412:#87ff78;--k413:#58ffa7;--k414:#18ffe7;--k415:#08fff7;--k416:#c7ff38;--k417:#97ff68;--k418:#87ff78;--k419:#c7ff38;--k420:#97ff68;--k421:#87ff78;--k422:#d7ff28;--k423:#e7ff18;--k424:#f7ff08;--k425:#fff700;--k426:#c7ff38;--k427:#97ff68;--k428:#78ff87;--k429:#48ffb7;--k430:#38ffc7;--k431:#c7ff38;--k432:#b7ff48;--k433:#b7ff48;--k434:#87ff78;--k435:#58ffa7;--k436:#38ffc7;--k437:#b7ff48;--k438:#87ff78;--k439:#58ffa7;--k440:#18ffe7;--k441:#08fff7;--k442:#b7ff48;--k443:#87ff78;--k444:#58ffa7;--k445:#28ffd7;--k446:#18ffe7;--k447:#f7ff08;--k448:#fff700;--k449:#f7ff08;--k450:#ffd700;--k451:#ffa700;--k452:#ff9700;--k453:#b7ff48;--k454:#97ff68;--k455:#b7ff48;--k456:#78ff87;--k457:#58ffa7;--k458:#b7ff48;--k459:#87ff78;--k460:#68ff97;--k461:#b7ff48;--k462:#87ff78;--k463:#58ffa7;--k464:#28ffd7;--k465:#00f7ff;--k466:#00e7ff;--k467:#c7ff38;--k468:#97ff68;--k469:#68ff97;--k470:#48ffb7;--k471:#18ffe7;--k472:#00f7ff;--k473:#00d7ff;--k474:#b7ff48;--k475:#97ff68;--k476:#b7ff48;--k477:#a7ff58;--k478:#b7ff48;--k479:#87ff78;--k480:#58ffa7;--k481:#28ffd7;--k482:#00f7ff;--k483:#00c7ff;--k484:#00b7ff;--k485:#b7ff48;--k486:#87ff78;--k487:#58ffa7;--k488:#38ffc7;--k489:#b7ff48;--k490:#a7ff58;--k491:#d7ff28;--k492:#e7ff18;--k493:#e7ff18;--k494:#e7ff18;--k495:#f7ff08;--k496:#ffd700;--k497:#ffa700;--k498:#ff9700;--k499:#b7ff48;--k500:#a7ff58;--k501:#b7ff48;--k502:#97ff68;--k503:#68ff97;--k504:#38ffc7;--k505:#08fff7;--k506:#00e7ff;--k507:#d7ff28;--k508:#d7ff28;--k509:#c7ff38;--k510:#a7ff58;--k511:#87ff78;--k512:#d7ff28;--k513:#e7ff18;--k514:#f7ff08;--k515:#f7ff08;--k516:#fff700;--k517:#fff700;--k518:#ffe700;--k519:#ffd700;--k520:#ffd700;--k521:#b7ff48;--k522:#87ff78;--k523:#58ffa7;--k524:#18ffe7;--k525:#00e7ff;--k526:#00b7ff;--k527:#0097ff;--k528:#b7ff48;--k529:#a7ff58;--k530:#c7ff38;--k531:#a7ff58;--k532:#b7ff48;--k533:#87ff78;--k534:#58ffa7;--k535:#38ffc7;--k536:#c7ff38;--k537:#97ff68;--k538:#68ff97;--k539:#38ffc7;--k540:#18ffe7;--k541:#00e7ff;--k542:#00b7ff;--k543:#00a7ff;--k544:#f7ff08;--k545:#ffd700;--k546:#ffa700;--k547:#ff9700;--k548:#c7ff38;--k549:#a7ff58;--k550:#78ff87;--k551:#58ffa7;--k552:#38ffc7;--k553:#18ffe7;--k554:#08fff7;--k555:#b7ff48;--k556:#97ff68;--k557:#87ff78;--k558:#78ff87;--k559:#97ff68;--k560:#08fff7;--k561:#0078ff;--k562:#0000f7;--k563:#000087;--k564:#000087;--k565:#000087;--k566:#000087;--k567:#000087;--k568:#b7ff48;--k569:#87ff78;--k570:#68ff97;--k571:#c7ff38;--k572:#97ff68;--k573:#68ff97;--k574:#38ffc7;--k575:#08fff7;--k576:#00d7ff;--k577:#00a7ff;--k578:#0097ff;--k579:#b7ff48;--k580:#87ff78;--k581:#58ffa7;--k582:#28ffd7;--k583:#08fff7;--k584:#c7ff38;--k585:#97ff68;--k586:#68ff97;--k587:#48ffb7;--k588:#28ffd7;--k589:#f7ff08;--k590:#ffd700;--k591:#ffa700;--k592:#ff7800;--k593:#ff5800;--k594:#c7ff38;--k595:#a7ff58;--k596:#87ff78;--k597:#68ff97;--k598:#58ffa7;--k599:#48ffb7;--k600:#d7ff28;--k601:#d7ff28;--k602:#b7ff48;--k603:#87ff78;--k604:#58ffa7;--k605:#38ffc7;--k606:#18ffe7;--k607:#b7ff48;--k608:#87ff78;--k609:#78ff87;--k610:#b7ff48;--k611:#a7ff58;--k612:#c7ff38;--k613:#97ff68;--k614:#68ff97;--k615:#48ffb7;--k616:#18ffe7;--k617:#00f7ff;--k618:#00d7ff;--k619:#d7ff28;--k620:#e7ff18;--k621:#e7ff18;--k622:#e7ff18;--k623:#c7ff38;--k624:#b7ff48;--k625:#c7ff38;--k626:#a7ff58;--k627:#87ff78;--k628:#68ff97;--k629:#58ffa7;--k630:#48ffb7;--k631:#c7ff38;--k632:#a7ff58;--k633:#78ff87;--k634:#58ffa7;--k635:#48ffb7;--k636:#c7ff38;--k637:#b7ff48;--k638:#c7ff38;--k639:#97ff68;--k640:#78ff87;--k641:#48ffb7;--k642:#38ffc7;--k643:#b7ff48;--k644:#97ff68;--k645:#c7ff38;--k646:#a7ff58;--k647:#87ff78;--k648:#78ff87;--k649:#b7ff48;--k650:#87ff78;--k651:#48ffb7;--k652:#18ffe7;--k653:#00f7ff;--k654:#c7ff38;--k655:#a7ff58;--k656:#87ff78;--k657:#68ff97;--k658:#58ffa7;--k659:#c7ff38;--k660:#97ff68;--k661:#68ff97;--k662:#58ffa7;--k663:#c7ff38;--k664:#a7ff58;--k665:#97ff68;--k666:#87ff78;--k667:#b7ff48;--k668:#87ff78;--k669:#48ffb7;--k670:#18ffe7;--k671:#00f7ff;--k672:#f7ff08;--k673:#ffd700;--k674:#ffc700;--k675:#b7ff48;--k676:#87ff78;--k677:#78ff87;--k678:#ffd700;--k679:#ff7800;--k680:#ff4800;--k681:#b7ff48;--k682:#97ff68;--k683:#87ff78;--k684:#c7ff38;--k685:#b7ff48;--k686:#d7ff28;--k687:#d7ff28;--k688:#b7ff48;--k689:#97ff68;--k690:#c7ff38;--k691:#97ff68;--k692:#68ff97;--k693:#38ffc7;--k694:#08fff7;--k695:#00d7ff;--k696:#00a7ff;--k697:#0097ff;--k698:#d7ff28;--k699:#d7ff28;--k700:#d7ff28;--k701:#d7ff28;--k702:#c7ff38;--k703:#a7ff58;--k704:#87ff78;--k705:#d7ff28;--k706:#d7ff28;--k707:#b7ff48;--k708:#87ff78;--k709:#48ffb7;--k710:#18ffe7;--k711:#00f7ff;--k712:#b7ff48;--k713:#97ff68;--k714:#b7ff48;--k715:#87ff78;--k716:#48ffb7;--k717:#18ffe7;--k718:#00f7ff;--k719:#b7ff48;--k720:#87ff78;--k721:#68ff97;--k722:#c7ff38;--k723:#97ff68;--k724:#87ff78;--k725:#b7ff48;--k726:#a7ff58;--k727:#b7ff48;--k728:#78ff87;--k729:#48ffb7;--k730:#08fff7;--k731:#00c7ff;--k732:#0097ff;--k733:#0058ff;--k734:#0038ff;--k735:#b7ff48;--k736:#a7ff58;--k737:#f7ff08;--k738:#ffd700;--k739:#ffc700;--k740:#b7ff48;--k741:#87ff78;--k742:#58ffa7;--k743:#28ffd7;--k744:#00f7ff;--k745:#00b7ff;--k746:#00a7ff;--k747:#d7ff28;--k748:#e7ff18;--k749:#e7ff18;--k750:#e7ff18;--k751:#b7ff48;--k752:#87ff78;--k753:#58ffa7;--k754:#38ffc7;--k755:#c7ff38;--k756:#a7ff58;--k757:#d7ff28;--k758:#d7ff28;--k759:#d7ff28;--k760:#e7ff18;--k761:#e7ff18;--k762:#e7ff18;--k763:#f7ff08;--k764:#f7ff08;--k765:#fff700;--k766:#fff700;--k767:#c7ff38;--k768:#97ff68;--k769:#78ff87;--k770:#58ffa7;--k771:#48ffb7;--k772:#b7ff48;--k773:#a7ff58;--k774:#b7ff48;--k775:#78ff87;--k776:#48ffb7;--k777:#08fff7;--k778:#00e7ff;--k779:#c7ff38;--k780:#a7ff58;--k781:#f7ff08;--k782:#fff700;--k783:#c7ff38;--k784:#97ff68;--k785:#78ff87;--k786:#48ffb7;--k787:#18ffe7;--k788:#00f7ff;--k789:#00e7ff;--k790:#c7ff38;--k791:#97ff68;--k792:#68ff97;--k793:#38ffc7;--k794:#08fff7;--k795:#00d7ff;--k796:#00b7ff;--k797:#0097ff;--k798:#c7ff38;--k799:#a7ff58;--k800:#d7ff28;--k801:#d7ff28;--k802:#b7ff48;--k803:#87ff78;--k804:#48ffb7;--k805:#18ffe7;--k806:#00d7ff;--k807:#00a7ff;--k808:#0068ff;--k809:#0048ff;--k810:#b7ff48;--k811:#a7ff58;--k812:#b7ff48;--k813:#a7ff58;--k814:#87ff78;--k815:#87ff78;--k816:#b7ff48;--k817:#87ff78;--k818:#58ffa7;--k819:#28ffd7;--k820:#18ffe7;--k821:#b7ff48;--k822:#87ff78;--k823:#68ff97;--k824:#c7ff38;--k825:#a7ff58;--k826:#78ff87;--k827:#68ff97;--k828:#c7ff38;--k829:#b7ff48;--k830:#c7ff38;--k831:#a7ff58;--k832:#b7ff48;--k833:#97ff68;--k834:#c7ff38;--k835:#a7ff58;--k836:#87ff78;--k837:#68ff97;--k838:#58ffa7;--k839:#38ffc7;--k840:#18ffe7;--k841:#08fff7;--k842:#b7ff48;--k843:#a7ff58;--k844:#b7ff48;--k845:#a7ff58;--k846:#c7ff38;--k847:#b7ff48;--k848:#d7ff28;--k849:#e7ff18;--k850:#e7ff18;--k851:#c7ff38;--k852:#a7ff58;--k853:#97ff68;--k854:#c7ff38;--k855:#a7ff58;--k856:#b7ff48;--k857:#87ff78;--k858:#68ff97;--k859:#c7ff38;--k860:#a7ff58;--k861:#87ff78;--k862:#78ff87;--k863:#c7ff38;--k864:#97ff68;--k865:#78ff87;--k866:#58ffa7;--k867:#28ffd7;--k868:#08fff7;--k869:#00f7ff;--k870:#c7ff38;--k871:#a7ff58;--k872:#b7ff48;--k873:#87ff78;--k874:#68ff97;--k875:#d7ff28;--k876:#d7ff28;--k877:#b7ff48;--k878:#a7ff58;--k879:#b7ff48;--k880:#78ff87;--k881:#58ffa7;--k882:#d7ff28;--k883:#e7ff18;--k884:#e7ff18;--k885:#e7ff18;--k886:#c7ff38;--k887:#97ff68;--k888:#68ff97;--k889:#48ffb7;--k890:#18ffe7;--k891:#08fff7;--k892:#b7ff48;--k893:#87ff78;--k894:#58ffa7;--k895:#28ffd7;--k896:#00f7ff;--k897:#00d7ff;--k898:#b7ff48;--k899:#78ff87;--k900:#58ffa7;--k901:#d7ff28;--k902:#e7ff18;--k903:#e7ff18;--k904:#e7ff18;--k905:#f7ff08;--k906:#b7ff48;--k907:#78ff87;--k908:#48ffb7;--k909:#28ffd7;--k910:#c7ff38;--k911:#97ff68;--k912:#87ff78;--k913:#87ff78;--k914:#00f7ff;--k915:#0078ff;--k916:#0000e7;--k917:#000087;--k918:#000087;--k919:#000087;--k920:#c7ff38;--k921:#a7ff58;--k922:#78ff87;--k923:#68ff97;--k924:#b7ff48;--k925:#87ff78;--k926:#58ffa7;--k927:#38ffc7;--k928:#d7ff28;--k929:#d7ff28;--k930:#b7ff48;--k931:#87ff78;--k932:#48ffb7;--k933:#28ffd7;--k934:#c7ff38;--k935:#97ff68;--k936:#78ff87;--k937:#48ffb7;--k938:#38ffc7;--k939:#c7ff38;--k940:#b7ff48;--k941:#a7ff58;--k942:#97ff68;--k943:#87ff78;--k944:#c7ff38;--k945:#a7ff58;--k946:#c7ff38;--k947:#97ff68;--k948:#78ff87;--k949:#58ffa7;--k950:#b7ff48;--k951:#87ff78;--k952:#58ffa7;--k953:#28ffd7;--k954:#00f7ff;--k955:#00e7ff;--k956:#c7ff38;--k957:#b7ff48;--k958:#97ff68;--k959:#87ff78;--k960:#78ff87;--k961:#68ff97;--k962:#d7ff28;--k963:#e7ff18;--k964:#e7ff18;--k965:#c7ff38;--k966:#b7ff48"/><rect x="654.4" y="497.3" width="11.300000000000068" height="181.3" fill="url(#jg)" stroke="#222" stroke-width="0.6"/><line x1="654.4" y1="499.8" x2="656.0" y2="499.8" stroke="#222" stroke-width="0.6"/><line x1="664.1" y1="499.8" x2="665.7" y2="499.8" stroke="#222" stroke-width="0.6"/><text x="666.9000000000001" y="502.40000000000003" font-size="5.6" fill="#333">6</text><line x1="654.4" y1="526.33" x2="656.0" y2="526.33" stroke="#222" stroke-width="0.6"/><line x1="664.1" y1="526.33" x2="665.7" y2="526.33" stroke="#222" stroke-width="0.6"/><text x="666.9000000000001" y="528.9300000000001" font-size="5.6" fill="#333">4</text><line x1="654.4" y1="552.86" x2="656.0" y2="552.86" stroke="#222" stroke-width="0.6"/><line x1="664.1" y1="552.86" x2="665.7" y2="552.86" stroke="#222" stroke-width="0.6"/><text x="666.9000000000001" y="555.46" font-size="5.6" fill="#333">2</text><line x1="654.4" y1="579.39" x2="656.0" y2="579.39" stroke="#222" stroke-width="0.6"/><line x1="664.1" y1="579.39" x2="665.7" y2="579.39" stroke="#222" stroke-width="0.6"/><text x="666.9000000000001" y="581.99" font-size="5.6" fill="#333">0</text><line x1="654.4" y1="605.9200000000001" x2="656.0" y2="605.9200000000001" stroke="#222" stroke-width="0.6"/><line x1="664.1" y1="605.9200000000001" x2="665.7" y2="605.9200000000001" stroke="#222" stroke-width="0.6"/><text x="666.9000000000001" y="608.5200000000001" font-size="5.6" fill="#333">-2</text><line x1="654.4" y1="632.45" x2="656.0" y2="632.45" stroke="#222" stroke-width="0.6"/><line x1="664.1" y1="632.45" x2="665.7" y2="632.45" stroke="#222" stroke-width="0.6"/><text x="666.9000000000001" y="635.0500000000001" font-size="5.6" fill="#333">-4</text><line x1="654.4" y1="658.98" x2="656.0" y2="658.98" stroke="#222" stroke-width="0.6"/><line x1="664.1" y1="658.98" x2="665.7" y2="658.98" stroke="#222" stroke-width="0.6"/><text x="666.9000000000001" y="661.58" font-size="5.6" fill="#333">-6</text><text x="666" y="493" font-size="5.6" fill="#333">x 10<tspan font-size="4" dy="-2.8">-4</tspan></text><text x="660.1" y="687.5" font-size="6.5" font-weight="bold" text-anchor="middle" font-family="Liberation Serif, serif" fill="#222">(m)</text><text x="476.5" y="491.8" font-size="9.25" text-anchor="middle" fill="#222">Max. Displacement is : 0.00074631 m (t=70 sec)</text><text x="293.4" y="708.1" font-size="19" font-weight="bold" text-anchor="middle" font-family="Liberation Serif, serif" fill="#111">(c)</text><rect x="20.1" y="723.1" width="14.100000000000001" height="194.5" fill="url(#jg)" stroke="#222" stroke-width="0.6"/><line x1="20.1" y1="729.1" x2="21.700000000000003" y2="729.1" stroke="#222" stroke-width="0.6"/><line x1="32.6" y1="729.1" x2="34.2" y2="729.1" stroke="#222" stroke-width="0.6"/><text x="17.2" y="731.7" font-size="7.3" text-anchor="end" fill="#333">3.22</text><line x1="20.1" y1="756.4300000000001" x2="21.700000000000003" y2="756.4300000000001" stroke="#222" stroke-width="0.6"/><line x1="32.6" y1="756.4300000000001" x2="34.2" y2="756.4300000000001" stroke="#222" stroke-width="0.6"/><text x="17.2" y="759.0300000000001" font-size="7.3" text-anchor="end" fill="#333">3.21</text><line x1="20.1" y1="783.76" x2="21.700000000000003" y2="783.76" stroke="#222" stroke-width="0.6"/><line x1="32.6" y1="783.76" x2="34.2" y2="783.76" stroke="#222" stroke-width="0.6"/><text x="17.2" y="786.36" font-size="7.3" text-anchor="end" fill="#333">3.2</text><line x1="20.1" y1="811.09" x2="21.700000000000003" y2="811.09" stroke="#222" stroke-width="0.6"/><line x1="32.6" y1="811.09" x2="34.2" y2="811.09" stroke="#222" stroke-width="0.6"/><text x="17.2" y="813.69" font-size="7.3" text-anchor="end" fill="#333">3.19</text><line x1="20.1" y1="838.4200000000001" x2="21.700000000000003" y2="838.4200000000001" stroke="#222" stroke-width="0.6"/><line x1="32.6" y1="838.4200000000001" x2="34.2" y2="838.4200000000001" stroke="#222" stroke-width="0.6"/><text x="17.2" y="841.0200000000001" font-size="7.3" text-anchor="end" fill="#333">3.18</text><line x1="20.1" y1="865.75" x2="21.700000000000003" y2="865.75" stroke="#222" stroke-width="0.6"/><line x1="32.6" y1="865.75" x2="34.2" y2="865.75" stroke="#222" stroke-width="0.6"/><text x="17.2" y="868.35" font-size="7.3" text-anchor="end" fill="#333">3.17</text><line x1="20.1" y1="893.08" x2="21.700000000000003" y2="893.08" stroke="#222" stroke-width="0.6"/><line x1="32.6" y1="893.08" x2="34.2" y2="893.08" stroke="#222" stroke-width="0.6"/><text x="17.2" y="895.6800000000001" font-size="7.3" text-anchor="end" fill="#333">3.16</text><text x="28" y="928.2" font-size="10" font-weight="bold" text-anchor="middle" font-family="Liberation Serif, serif" fill="#222">(cm)</text><g transform="translate(-4.5,721.7)"><clipPath id="tcd"><polygon points="93.4,99.6 104.6,91.1 119.2,80.1 128,71.4 138.2,62.6 151.3,56.8 163,51.7 174.7,47.3 181.7,44.5 195,53.9 211.1,70.7 225.7,80.9 240.3,91.1 256.4,105.7 240,110.4 220.3,119.2 205.7,126.5 191.1,133.8 180.9,141.1 168.4,155 158,144.9 143.4,133.9 128.8,123.7 121.5,119.3 106.9,110.5"/></clipPath><g clip-path="url(#tcd)"><g filter="url(#jetf)"><rect x="80" y="35" width="190" height="130" fill="rgb(186,186,186)"/><polygon points="80.0,97.0 95.0,86.0 112.0,76.0 124.0,72.0 128.0,88.0 126.0,104.0 140.0,112.0 160.0,118.0 172.0,130.0 172.0,162.0 150.0,162.0 125.0,132.0 100.0,114.0 85.0,108.0" fill="rgb(214,214,214)" /><polyline points="104.0,110.0 110.0,101.0 118.0,92.0 124.0,84.0 129.0,76.0" fill="none" stroke="rgb(242,242,242)" stroke-width="6" stroke-linecap="round" stroke-linejoin="round"/><ellipse cx="128" cy="80" rx="4" ry="5" fill="rgb(242,242,242)" transform="rotate(0 128 80)"/><polyline points="118.7,107.0 126.5,99.0 135.0,92.0 140.0,80.0 143.0,70.0 148.0,62.0 160.0,57.0 172.0,52.0 182.0,47.0" fill="none" stroke="rgb(158,158,158)" stroke-width="7" stroke-linecap="round" stroke-linejoin="round"/><polyline points="126.5,99.0 135.0,91.0 140.0,79.0 143.0,69.0 150.0,61.0 163.0,56.0 176.0,50.0" fill="none" stroke="rgb(128,128,128)" stroke-width="2.5" stroke-linecap="round" stroke-linejoin="round"/><polygon points="150.0,56.0 165.0,50.0 181.0,44.0 186.0,46.0 175.0,53.0 160.0,60.0 150.0,63.0" fill="rgb(143,143,143)" /><polyline points="190.0,60.0 205.0,70.0 220.0,80.0 232.0,88.0" fill="none" stroke="rgb(204,204,204)" stroke-width="6" stroke-linecap="round" stroke-linejoin="round"/><ellipse cx="178" cy="95" rx="14" ry="10" fill="rgb(176,176,176)" transform="rotate(-20 178 95)"/><polygon points="196.0,94.0 208.0,89.0 222.0,90.0 236.0,93.0 250.0,100.0 246.0,105.0 232.0,106.0 218.0,109.0 204.0,114.0 190.0,120.0 178.0,124.0 175.0,120.0 186.0,110.0" fill="rgb(76,76,76)" /><polygon points="204.0,96.0 214.0,92.0 226.0,94.0 236.0,98.0 228.0,103.0 214.0,106.0 205.0,105.0" fill="rgb(18,18,18)" /><ellipse cx="247" cy="99" rx="7" ry="3" fill="rgb(107,107,107)" transform="rotate(25 247 99)"/><ellipse cx="252" cy="104" rx="6" ry="4" fill="rgb(163,163,163)" transform="rotate(-20 252 104)"/></g></g><line x1="88.6" y1="39.9" x2="88.6" y2="147.2" stroke="#666" stroke-width="0.8"/><line x1="89" y1="147.2" x2="126" y2="171.6" stroke="#666" stroke-width="0.7"/><line x1="126" y1="171.6" x2="163.4" y2="196.2" stroke="#4848c0" stroke-width="0.7"/><line x1="163.4" y1="196.2" x2="205" y2="180.3" stroke="#4848c0" stroke-width="0.7"/><line x1="205" y1="180.3" x2="262" y2="158.5" stroke="#6f6560" stroke-width="0.7"/><line x1="88.6" y1="60" x2="87" y2="60.8" stroke="#555" stroke-width="0.6"/><text x="84" y="61.4" font-size="7" text-anchor="end" fill="#333">100</text><line x1="88.6" y1="92.6" x2="87" y2="93.39999999999999" stroke="#555" stroke-width="0.6"/><text x="84" y="94.0" font-size="7" text-anchor="end" fill="#333">50</text><line x1="88.6" y1="124.5" x2="87" y2="125.3" stroke="#555" stroke-width="0.6"/><text x="84" y="125.9" font-size="7" text-anchor="end" fill="#333">0</text><text x="81.7" y="160.2" font-size="7" text-anchor="middle" fill="#333">4.544</text><text x="113.5" y="182.1" font-size="7" text-anchor="middle" fill="#333">4.5435</text><text x="150.3" y="205.1" font-size="7" text-anchor="middle" fill="#333">4.543</text><line x1="94.5" y1="150.6" x2="96.5" y2="149.79999999999998" stroke="#555" stroke-width="0.6"/><line x1="126.3" y1="171.3" x2="128.3" y2="170.5" stroke="#555" stroke-width="0.6"/><line x1="160.5" y1="194.3" x2="162.5" y2="193.5" stroke="#555" stroke-width="0.6"/><text x="184.7" y="201.9" font-size="7" text-anchor="middle" fill="#333">4.078</text><text x="201" y="195.4" font-size="7" text-anchor="middle" fill="#333">4.08</text><text x="220.5" y="188.6" font-size="7" text-anchor="middle" fill="#333">4.082</text><text x="238.9" y="181.5" font-size="7" text-anchor="middle" fill="#333">4.084</text><text x="256.3" y="174.9" font-size="7" text-anchor="middle" fill="#333">4.086</text><text x="274.7" y="167.5" font-size="7" text-anchor="middle" fill="#333">4.088</text><line x1="167.8" y1="194.5" x2="166.0" y2="193.3" stroke="#555" stroke-width="0.6"/><line x1="186.2" y1="187.5" x2="184.4" y2="186.3" stroke="#555" stroke-width="0.6"/><line x1="204.5" y1="180.5" x2="202.7" y2="179.3" stroke="#555" stroke-width="0.6"/><line x1="222.9" y1="173.5" x2="221.1" y2="172.3" stroke="#555" stroke-width="0.6"/><line x1="241.2" y1="166.5" x2="239.4" y2="165.3" stroke="#555" stroke-width="0.6"/><line x1="259.5" y1="159.4" x2="257.7" y2="158.2" stroke="#555" stroke-width="0.6"/><text x="64" y="185.5" font-size="6.5" fill="#333">x 10<tspan font-size="4.5" dy="-3">6</tspan></text><text x="267" y="193.5" font-size="6.5" fill="#333">x 10<tspan font-size="4.5" dy="-3">5</tspan></text></g><path d="M307.3,830.3L508.4,768.4L646.5,858.8L445.4,920.7" fill="none" stroke="#7070d8" stroke-width="0.7"/><line x1="307.3" y1="830.3" x2="445.4" y2="920.7" stroke="#666" stroke-width="0.7"/><line x1="307.3" y1="830.3" x2="307.3" y2="799.6" stroke="#666" stroke-width="0.7"/><line x1="307.3" y1="830.3" x2="305.3" y2="829.7" stroke="#666" stroke-width="0.5"/><text x="302.3" y="829.5" font-size="5.6" text-anchor="end" fill="#333">0</text><line x1="307.3" y1="814.9" x2="305.3" y2="814.3" stroke="#666" stroke-width="0.5"/><text x="302.3" y="814.1" font-size="5.6" text-anchor="end" fill="#333">10</text><line x1="307.3" y1="799.6" x2="305.3" y2="799.0" stroke="#666" stroke-width="0.5"/><text x="302.3" y="798.8" font-size="5.6" text-anchor="end" fill="#333">20</text><line x1="312.4" y1="833.6" x2="310.0" y2="834.3" stroke="#666" stroke-width="0.5"/><text x="296.5" y="840.5" font-size="5.5" text-anchor="middle" fill="#333">4.5441</text><line x1="325.0" y1="841.9" x2="322.6" y2="842.6" stroke="#666" stroke-width="0.5"/><text x="309.1" y="848.8" font-size="5.5" text-anchor="middle" fill="#333">4.544</text><line x1="337.6" y1="850.1" x2="335.2" y2="850.8" stroke="#666" stroke-width="0.5"/><text x="321.7" y="857.0" font-size="5.5" text-anchor="middle" fill="#333">4.5439</text><line x1="350.2" y1="858.4" x2="347.8" y2="859.1" stroke="#666" stroke-width="0.5"/><text x="334.3" y="865.3" font-size="5.5" text-anchor="middle" fill="#333">4.5438</text><line x1="362.8" y1="866.6" x2="360.4" y2="867.3" stroke="#666" stroke-width="0.5"/><text x="346.9" y="873.5" font-size="5.5" text-anchor="middle" fill="#333">4.5437</text><line x1="375.4" y1="874.9" x2="373.0" y2="875.6" stroke="#666" stroke-width="0.5"/><text x="359.5" y="881.8" font-size="5.5" text-anchor="middle" fill="#333">4.5436</text><line x1="388.0" y1="883.1" x2="385.6" y2="883.8" stroke="#666" stroke-width="0.5"/><text x="372.1" y="890.0" font-size="5.5" text-anchor="middle" fill="#333">4.5435</text><line x1="400.6" y1="891.4" x2="398.2" y2="892.1" stroke="#666" stroke-width="0.5"/><text x="384.8" y="898.3" font-size="5.5" text-anchor="middle" fill="#333">4.5434</text><line x1="413.2" y1="899.6" x2="410.8" y2="900.3" stroke="#666" stroke-width="0.5"/><text x="397.4" y="906.5" font-size="5.5" text-anchor="middle" fill="#333">4.5433</text><line x1="425.8" y1="907.9" x2="423.4" y2="908.6" stroke="#666" stroke-width="0.5"/><text x="410.0" y="914.8" font-size="5.5" text-anchor="middle" fill="#333">4.5432</text><line x1="438.5" y1="916.2" x2="436.1" y2="916.9" stroke="#666" stroke-width="0.5"/><text x="422.6" y="923.0" font-size="5.5" text-anchor="middle" fill="#333">4.5431</text><text x="465.5" y="926.4" font-size="5.3" text-anchor="middle" fill="#333">4.077</text><line x1="454.4" y1="917.9" x2="456.0" y2="919.7" stroke="#7070d8" stroke-width="0.5"/><text x="483.2" y="921.0" font-size="5.3" text-anchor="middle" fill="#333">4.078</text><line x1="473.7" y1="912.0" x2="475.3" y2="913.8" stroke="#7070d8" stroke-width="0.5"/><text x="501.0" y="915.6" font-size="5.3" text-anchor="middle" fill="#333">4.079</text><line x1="492.9" y1="906.1" x2="494.5" y2="907.9" stroke="#7070d8" stroke-width="0.5"/><text x="518.7" y="910.3" font-size="5.3" text-anchor="middle" fill="#333">4.08</text><line x1="512.1" y1="900.2" x2="513.7" y2="902.0" stroke="#7070d8" stroke-width="0.5"/><text x="536.5" y="904.9" font-size="5.3" text-anchor="middle" fill="#333">4.081</text><line x1="531.3" y1="894.3" x2="532.9" y2="896.1" stroke="#7070d8" stroke-width="0.5"/><text x="554.2" y="899.5" font-size="5.3" text-anchor="middle" fill="#333">4.082</text><line x1="550.5" y1="888.4" x2="552.1" y2="890.2" stroke="#7070d8" stroke-width="0.5"/><text x="571.9" y="894.1" font-size="5.3" text-anchor="middle" fill="#333">4.083</text><line x1="569.7" y1="882.4" x2="571.3" y2="884.2" stroke="#7070d8" stroke-width="0.5"/><text x="589.7" y="888.7" font-size="5.3" text-anchor="middle" fill="#333">4.084</text><line x1="588.9" y1="876.5" x2="590.5" y2="878.3" stroke="#7070d8" stroke-width="0.5"/><text x="607.4" y="883.4" font-size="5.3" text-anchor="middle" fill="#333">4.085</text><line x1="608.1" y1="870.6" x2="609.7" y2="872.4" stroke="#7070d8" stroke-width="0.5"/><text x="625.2" y="878.0" font-size="5.3" text-anchor="middle" fill="#333">4.086</text><line x1="627.3" y1="864.7" x2="628.9" y2="866.5" stroke="#7070d8" stroke-width="0.5"/><text x="642.9" y="872.6" font-size="5.3" text-anchor="middle" fill="#333">4.087</text><line x1="646.5" y1="858.8" x2="648.1" y2="860.6" stroke="#7070d8" stroke-width="0.5"/><text x="294.3" y="880.3" font-size="5.3" fill="#333">x 10<tspan font-size="3.8" dy="-2.5">6</tspan></text><text x="629.3" y="901.3" font-size="5" fill="#333">x 10<tspan font-size="3.6" dy="-2.5">5</tspan></text><text x="360.8" y="924.0999999999999" font-size="5" text-anchor="middle" fill="#333">y coord (m)</text><text x="545.3" y="931.6999999999999" font-size="5" text-anchor="middle" fill="#333">x coord (m)</text><use href="#city" transform="translate(307.3,830.3)" style="--k0:#0048ff;--k1:#0048ff;--k2:#0048ff;--k3:#0048ff;--k4:#0048ff;--k5:#0058ff;--k6:#0058ff;--k7:#0028ff;--k8:#0008ff;--k9:#0000e7;--k10:#0048ff;--k11:#0048ff;--k12:#0048ff;--k13:#0048ff;--k14:#0068ff;--k15:#0097ff;--k16:#00d7ff;--k17:#00f7ff;--k18:#0048ff;--k19:#0068ff;--k20:#0087ff;--k21:#0097ff;--k22:#0048ff;--k23:#0048ff;--k24:#0058ff;--k25:#0058ff;--k26:#0068ff;--k27:#0048ff;--k28:#0048ff;--k29:#0058ff;--k30:#0068ff;--k31:#0068ff;--k32:#0048ff;--k33:#0068ff;--k34:#0078ff;--k35:#0048ff;--k36:#0068ff;--k37:#0087ff;--k38:#00a7ff;--k39:#00c7ff;--k40:#0048ff;--k41:#0068ff;--k42:#0078ff;--k43:#0028ff;--k44:#0008ff;--k45:#0000e7;--k46:#0000c7;--k47:#0000a7;--k48:#0048ff;--k49:#0068ff;--k50:#0078ff;--k51:#00a7ff;--k52:#00b7ff;--k53:#0028ff;--k54:#0008ff;--k55:#0000e7;--k56:#0000c7;--k57:#0000a7;--k58:#0028ff;--k59:#0008ff;--k60:#0000f7;--k61:#0048ff;--k62:#0048ff;--k63:#0058ff;--k64:#0058ff;--k65:#0058ff;--k66:#0028ff;--k67:#0008ff;--k68:#0000e7;--k69:#0000c7;--k70:#0000a7;--k71:#0028ff;--k72:#0008ff;--k73:#0000f7;--k74:#0028ff;--k75:#0008ff;--k76:#0000e7;--k77:#0000d7;--k78:#0048ff;--k79:#0048ff;--k80:#0058ff;--k81:#0058ff;--k82:#0068ff;--k83:#0028ff;--k84:#0018ff;--k85:#0048ff;--k86:#0048ff;--k87:#0048ff;--k88:#0058ff;--k89:#0078ff;--k90:#0078ff;--k91:#0048ff;--k92:#0068ff;--k93:#0087ff;--k94:#00b7ff;--k95:#00d7ff;--k96:#0048ff;--k97:#0048ff;--k98:#0048ff;--k99:#0048ff;--k100:#0048ff;--k101:#0058ff;--k102:#0078ff;--k103:#0097ff;--k104:#00a7ff;--k105:#0028ff;--k106:#0008ff;--k107:#0000f7;--k108:#0048ff;--k109:#0048ff;--k110:#0058ff;--k111:#0048ff;--k112:#0048ff;--k113:#0048ff;--k114:#0048ff;--k115:#0048ff;--k116:#0048ff;--k117:#0048ff;--k118:#0048ff;--k119:#0068ff;--k120:#0097ff;--k121:#00d7ff;--k122:#08fff7;--k123:#28ffd7;--k124:#0048ff;--k125:#0048ff;--k126:#0048ff;--k127:#0058ff;--k128:#0058ff;--k129:#0068ff;--k130:#0028ff;--k131:#0018ff;--k132:#0048ff;--k133:#0078ff;--k134:#0087ff;--k135:#0048ff;--k136:#0048ff;--k137:#0048ff;--k138:#0058ff;--k139:#0058ff;--k140:#0068ff;--k141:#0068ff;--k142:#0078ff;--k143:#0048ff;--k144:#0048ff;--k145:#0058ff;--k146:#0068ff;--k147:#0048ff;--k148:#0048ff;--k149:#0048ff;--k150:#0048ff;--k151:#0048ff;--k152:#0048ff;--k153:#0048ff;--k154:#0068ff;--k155:#0087ff;--k156:#00b7ff;--k157:#00e7ff;--k158:#28ffd7;--k159:#38ffc7;--k160:#0048ff;--k161:#0048ff;--k162:#0028ff;--k163:#0008ff;--k164:#0000f7;--k165:#0048ff;--k166:#0048ff;--k167:#0048ff;--k168:#0048ff;--k169:#0028ff;--k170:#0008ff;--k171:#0000f7;--k172:#0048ff;--k173:#0048ff;--k174:#0058ff;--k175:#0068ff;--k176:#0078ff;--k177:#0087ff;--k178:#0097ff;--k179:#00a7ff;--k180:#0048ff;--k181:#0048ff;--k182:#0048ff;--k183:#0058ff;--k184:#0048ff;--k185:#0048ff;--k186:#0058ff;--k187:#0068ff;--k188:#0078ff;--k189:#0048ff;--k190:#0068ff;--k191:#0087ff;--k192:#00b7ff;--k193:#00c7ff;--k194:#0048ff;--k195:#0058ff;--k196:#0068ff;--k197:#0087ff;--k198:#00a7ff;--k199:#00c7ff;--k200:#00d7ff;--k201:#0048ff;--k202:#0058ff;--k203:#0078ff;--k204:#0087ff;--k205:#0097ff;--k206:#0048ff;--k207:#0078ff;--k208:#00a7ff;--k209:#00b7ff;--k210:#0048ff;--k211:#0068ff;--k212:#0097ff;--k213:#00b7ff;--k214:#0048ff;--k215:#0058ff;--k216:#0068ff;--k217:#0087ff;--k218:#0097ff;--k219:#0048ff;--k220:#0048ff;--k221:#0048ff;--k222:#0048ff;--k223:#0048ff;--k224:#0048ff;--k225:#0048ff;--k226:#0048ff;--k227:#0048ff;--k228:#0058ff;--k229:#0058ff;--k230:#ffd700;--k231:#ff6800;--k232:#f70000;--k233:#b70000;--k234:#0048ff;--k235:#0068ff;--k236:#0097ff;--k237:#00d7ff;--k238:#08fff7;--k239:#28ffd7;--k240:#0048ff;--k241:#0068ff;--k242:#0078ff;--k243:#0048ff;--k244:#0048ff;--k245:#0048ff;--k246:#0048ff;--k247:#0048ff;--k248:#0048ff;--k249:#0048ff;--k250:#0048ff;--k251:#0048ff;--k252:#0048ff;--k253:#0048ff;--k254:#0048ff;--k255:#0058ff;--k256:#0058ff;--k257:#0068ff;--k258:#0048ff;--k259:#0048ff;--k260:#0048ff;--k261:#0048ff;--k262:#0048ff;--k263:#0048ff;--k264:#0048ff;--k265:#0058ff;--k266:#0068ff;--k267:#0087ff;--k268:#0097ff;--k269:#0028ff;--k270:#0008ff;--k271:#0000f7;--k272:#0048ff;--k273:#0068ff;--k274:#0087ff;--k275:#00b7ff;--k276:#00e7ff;--k277:#18ffe7;--k278:#38ffc7;--k279:#0048ff;--k280:#0048ff;--k281:#0058ff;--k282:#0058ff;--k283:#0048ff;--k284:#0048ff;--k285:#0048ff;--k286:#0048ff;--k287:#0048ff;--k288:#0048ff;--k289:#0048ff;--k290:#0048ff;--k291:#0048ff;--k292:#0048ff;--k293:#0058ff;--k294:#0048ff;--k295:#0048ff;--k296:#0058ff;--k297:#0058ff;--k298:#0048ff;--k299:#0048ff;--k300:#0058ff;--k301:#0048ff;--k302:#0048ff;--k303:#0048ff;--k304:#0048ff;--k305:#0048ff;--k306:#0048ff;--k307:#0048ff;--k308:#0058ff;--k309:#0068ff;--k310:#0068ff;--k311:#0078ff;--k312:#0078ff;--k313:#0048ff;--k314:#0048ff;--k315:#0028ff;--k316:#0008ff;--k317:#0000f7;--k318:#0048ff;--k319:#0048ff;--k320:#0048ff;--k321:#ffd700;--k322:#ff3800;--k323:#f70000;--k324:#0048ff;--k325:#0058ff;--k326:#0048ff;--k327:#0048ff;--k328:#0048ff;--k329:#0048ff;--k330:#0048ff;--k331:#0048ff;--k332:#0068ff;--k333:#0078ff;--k334:#0028ff;--k335:#0008ff;--k336:#0000f7;--k337:#0048ff;--k338:#0048ff;--k339:#0058ff;--k340:#0048ff;--k341:#0058ff;--k342:#0048ff;--k343:#0048ff;--k344:#0048ff;--k345:#0048ff;--k346:#0048ff;--k347:#0078ff;--k348:#00a7ff;--k349:#00e7ff;--k350:#08fff7;--k351:#0028ff;--k352:#0008ff;--k353:#0000e7;--k354:#0000c7;--k355:#0000a7;--k356:#0048ff;--k357:#0048ff;--k358:#0048ff;--k359:#0058ff;--k360:#0058ff;--k361:#0058ff;--k362:#0038ff;--k363:#0018ff;--k364:#0008ff;--k365:#0048ff;--k366:#0048ff;--k367:#0058ff;--k368:#0068ff;--k369:#0068ff;--k370:#0048ff;--k371:#0048ff;--k372:#0048ff;--k373:#0048ff;--k374:#0048ff;--k375:#0058ff;--k376:#0048ff;--k377:#0058ff;--k378:#0048ff;--k379:#0068ff;--k380:#0087ff;--k381:#00a7ff;--k382:#00b7ff;--k383:#0048ff;--k384:#0078ff;--k385:#0097ff;--k386:#00d7ff;--k387:#18ffe7;--k388:#38ffc7;--k389:#0028ff;--k390:#0018ff;--k391:#0028ff;--k392:#0008ff;--k393:#0000f7;--k394:#0048ff;--k395:#0068ff;--k396:#0087ff;--k397:#00a7ff;--k398:#00c7ff;--k399:#0048ff;--k400:#0058ff;--k401:#0048ff;--k402:#0068ff;--k403:#0087ff;--k404:#0048ff;--k405:#0048ff;--k406:#0048ff;--k407:#0028ff;--k408:#0008ff;--k409:#0000e7;--k410:#0000d7;--k411:#0048ff;--k412:#0048ff;--k413:#0048ff;--k414:#0048ff;--k415:#0058ff;--k416:#0048ff;--k417:#0068ff;--k418:#0078ff;--k419:#0048ff;--k420:#0068ff;--k421:#0078ff;--k422:#0048ff;--k423:#0078ff;--k424:#00a7ff;--k425:#00c7ff;--k426:#0048ff;--k427:#0048ff;--k428:#0058ff;--k429:#0058ff;--k430:#0068ff;--k431:#0048ff;--k432:#0058ff;--k433:#0048ff;--k434:#0068ff;--k435:#0087ff;--k436:#0097ff;--k437:#0048ff;--k438:#0058ff;--k439:#0078ff;--k440:#0097ff;--k441:#00a7ff;--k442:#0028ff;--k443:#0008ff;--k444:#0000e7;--k445:#0000c7;--k446:#0000a7;--k447:#0048ff;--k448:#0058ff;--k449:#0048ff;--k450:#0058ff;--k451:#0078ff;--k452:#0087ff;--k453:#0048ff;--k454:#0048ff;--k455:#0048ff;--k456:#0048ff;--k457:#0058ff;--k458:#0048ff;--k459:#0048ff;--k460:#0048ff;--k461:#0048ff;--k462:#0078ff;--k463:#00a7ff;--k464:#00d7ff;--k465:#18ffe7;--k466:#38ffc7;--k467:#0048ff;--k468:#0048ff;--k469:#0058ff;--k470:#0058ff;--k471:#0068ff;--k472:#0078ff;--k473:#0078ff;--k474:#0048ff;--k475:#0048ff;--k476:#0048ff;--k477:#0058ff;--k478:#0048ff;--k479:#0068ff;--k480:#0087ff;--k481:#00b7ff;--k482:#00e7ff;--k483:#18ffe7;--k484:#38ffc7;--k485:#0048ff;--k486:#0048ff;--k487:#0048ff;--k488:#0048ff;--k489:#0038ff;--k490:#0028ff;--k491:#0028ff;--k492:#0008ff;--k493:#0000e7;--k494:#0000d7;--k495:#0048ff;--k496:#0048ff;--k497:#0048ff;--k498:#0048ff;--k499:#0048ff;--k500:#0048ff;--k501:#0048ff;--k502:#0068ff;--k503:#0087ff;--k504:#00b7ff;--k505:#00e7ff;--k506:#00f7ff;--k507:#0048ff;--k508:#0058ff;--k509:#0048ff;--k510:#0048ff;--k511:#0048ff;--k512:#0048ff;--k513:#0048ff;--k514:#0058ff;--k515:#0068ff;--k516:#0078ff;--k517:#0087ff;--k518:#0097ff;--k519:#00a7ff;--k520:#00a7ff;--k521:#0048ff;--k522:#0048ff;--k523:#0058ff;--k524:#0068ff;--k525:#0078ff;--k526:#0087ff;--k527:#0087ff;--k528:#0048ff;--k529:#0048ff;--k530:#0048ff;--k531:#0048ff;--k532:#0048ff;--k533:#0058ff;--k534:#0078ff;--k535:#0087ff;--k536:#0048ff;--k537:#0048ff;--k538:#0058ff;--k539:#0068ff;--k540:#0068ff;--k541:#0078ff;--k542:#0087ff;--k543:#0097ff;--k544:#0048ff;--k545:#0048ff;--k546:#0058ff;--k547:#0058ff;--k548:#0048ff;--k549:#0078ff;--k550:#00a7ff;--k551:#00d7ff;--k552:#18ffe7;--k553:#58ffa7;--k554:#87ff78;--k555:#ffe700;--k556:#ff7800;--k557:#ff0800;--k558:#c70000;--k559:#0038ff;--k560:#0018ff;--k561:#0000f7;--k562:#0000d7;--k563:#0000c7;--k564:#0000a7;--k565:#000087;--k566:#000087;--k567:#000087;--k568:#0048ff;--k569:#0048ff;--k570:#0048ff;--k571:#0048ff;--k572:#0068ff;--k573:#0087ff;--k574:#00a7ff;--k575:#00d7ff;--k576:#08fff7;--k577:#38ffc7;--k578:#48ffb7;--k579:#0048ff;--k580:#0048ff;--k581:#0048ff;--k582:#0058ff;--k583:#0058ff;--k584:#0048ff;--k585:#0068ff;--k586:#0097ff;--k587:#00d7ff;--k588:#00f7ff;--k589:#0048ff;--k590:#0048ff;--k591:#0048ff;--k592:#0058ff;--k593:#0058ff;--k594:#0048ff;--k595:#0048ff;--k596:#0058ff;--k597:#0068ff;--k598:#0078ff;--k599:#0078ff;--k600:#0048ff;--k601:#0058ff;--k602:#0048ff;--k603:#0048ff;--k604:#0058ff;--k605:#0068ff;--k606:#0068ff;--k607:#0048ff;--k608:#0048ff;--k609:#0048ff;--k610:#0048ff;--k611:#0048ff;--k612:#0048ff;--k613:#0058ff;--k614:#0068ff;--k615:#0078ff;--k616:#0097ff;--k617:#00b7ff;--k618:#00c7ff;--k619:#0048ff;--k620:#0048ff;--k621:#0048ff;--k622:#0048ff;--k623:#0048ff;--k624:#0058ff;--k625:#0048ff;--k626:#0048ff;--k627:#0058ff;--k628:#0058ff;--k629:#0068ff;--k630:#0068ff;--k631:#0048ff;--k632:#0048ff;--k633:#0058ff;--k634:#0068ff;--k635:#0068ff;--k636:#0048ff;--k637:#0048ff;--k638:#0048ff;--k639:#0048ff;--k640:#0048ff;--k641:#0048ff;--k642:#0048ff;--k643:#0048ff;--k644:#0048ff;--k645:#0048ff;--k646:#0058ff;--k647:#0078ff;--k648:#0087ff;--k649:#0048ff;--k650:#0058ff;--k651:#0078ff;--k652:#0097ff;--k653:#00a7ff;--k654:#0048ff;--k655:#0048ff;--k656:#0058ff;--k657:#0058ff;--k658:#0068ff;--k659:#0048ff;--k660:#0068ff;--k661:#0087ff;--k662:#0097ff;--k663:#0048ff;--k664:#0068ff;--k665:#0087ff;--k666:#00a7ff;--k667:#0048ff;--k668:#0048ff;--k669:#0058ff;--k670:#0068ff;--k671:#0068ff;--k672:#0048ff;--k673:#0058ff;--k674:#0068ff;--k675:#0048ff;--k676:#0048ff;--k677:#0048ff;--k678:#ffe700;--k679:#ff7800;--k680:#ff4800;--k681:#ffd700;--k682:#ff5800;--k683:#ff1800;--k684:#0048ff;--k685:#0048ff;--k686:#0048ff;--k687:#0048ff;--k688:#0048ff;--k689:#0048ff;--k690:#0048ff;--k691:#0068ff;--k692:#0087ff;--k693:#00b7ff;--k694:#00e7ff;--k695:#18ffe7;--k696:#48ffb7;--k697:#68ff97;--k698:#0048ff;--k699:#0058ff;--k700:#0048ff;--k701:#0058ff;--k702:#0048ff;--k703:#0048ff;--k704:#0048ff;--k705:#0048ff;--k706:#0058ff;--k707:#0048ff;--k708:#0068ff;--k709:#0097ff;--k710:#00c7ff;--k711:#00e7ff;--k712:#0048ff;--k713:#0058ff;--k714:#0048ff;--k715:#0068ff;--k716:#0097ff;--k717:#00d7ff;--k718:#00e7ff;--k719:#0048ff;--k720:#0058ff;--k721:#0068ff;--k722:#0048ff;--k723:#0048ff;--k724:#0048ff;--k725:#0048ff;--k726:#0058ff;--k727:#0048ff;--k728:#0058ff;--k729:#0078ff;--k730:#00a7ff;--k731:#00c7ff;--k732:#00f7ff;--k733:#28ffd7;--k734:#38ffc7;--k735:#0048ff;--k736:#0058ff;--k737:#0048ff;--k738:#0048ff;--k739:#0048ff;--k740:#0048ff;--k741:#0048ff;--k742:#0058ff;--k743:#0068ff;--k744:#0078ff;--k745:#0087ff;--k746:#0097ff;--k747:#0048ff;--k748:#0048ff;--k749:#0058ff;--k750:#0058ff;--k751:#0048ff;--k752:#0068ff;--k753:#0087ff;--k754:#0097ff;--k755:#0048ff;--k756:#0058ff;--k757:#0048ff;--k758:#0058ff;--k759:#0048ff;--k760:#0068ff;--k761:#0097ff;--k762:#00c7ff;--k763:#00f7ff;--k764:#38ffc7;--k765:#78ff87;--k766:#97ff68;--k767:#0048ff;--k768:#0048ff;--k769:#0058ff;--k770:#0068ff;--k771:#0068ff;--k772:#0048ff;--k773:#0048ff;--k774:#0048ff;--k775:#0068ff;--k776:#0097ff;--k777:#00c7ff;--k778:#00d7ff;--k779:#0048ff;--k780:#0048ff;--k781:#0048ff;--k782:#0058ff;--k783:#0048ff;--k784:#0048ff;--k785:#0058ff;--k786:#0068ff;--k787:#0078ff;--k788:#0087ff;--k789:#0087ff;--k790:#0048ff;--k791:#0068ff;--k792:#0097ff;--k793:#00c7ff;--k794:#00f7ff;--k795:#38ffc7;--k796:#78ff87;--k797:#97ff68;--k798:#0048ff;--k799:#0048ff;--k800:#0048ff;--k801:#0048ff;--k802:#0048ff;--k803:#0048ff;--k804:#0048ff;--k805:#0058ff;--k806:#0058ff;--k807:#0068ff;--k808:#0078ff;--k809:#0078ff;--k810:#0048ff;--k811:#0058ff;--k812:#ffd700;--k813:#ff6800;--k814:#e70000;--k815:#a70000;--k816:#0048ff;--k817:#0068ff;--k818:#0097ff;--k819:#00c7ff;--k820:#00e7ff;--k821:#0048ff;--k822:#0058ff;--k823:#0068ff;--k824:#0048ff;--k825:#0058ff;--k826:#0078ff;--k827:#0087ff;--k828:#0048ff;--k829:#0048ff;--k830:#0048ff;--k831:#0048ff;--k832:#0048ff;--k833:#0048ff;--k834:#0048ff;--k835:#0058ff;--k836:#0068ff;--k837:#0087ff;--k838:#00a7ff;--k839:#00c7ff;--k840:#00e7ff;--k841:#00f7ff;--k842:#0048ff;--k843:#0058ff;--k844:#0048ff;--k845:#0048ff;--k846:#0048ff;--k847:#0048ff;--k848:#0048ff;--k849:#0068ff;--k850:#0078ff;--k851:#0048ff;--k852:#0048ff;--k853:#0048ff;--k854:#0048ff;--k855:#0048ff;--k856:#0048ff;--k857:#0068ff;--k858:#0078ff;--k859:#0048ff;--k860:#0058ff;--k861:#0068ff;--k862:#0078ff;--k863:#0048ff;--k864:#0058ff;--k865:#0078ff;--k866:#0087ff;--k867:#00b7ff;--k868:#00d7ff;--k869:#00e7ff;--k870:#0048ff;--k871:#0048ff;--k872:#0048ff;--k873:#0048ff;--k874:#0058ff;--k875:#0048ff;--k876:#0058ff;--k877:#0048ff;--k878:#0048ff;--k879:#0048ff;--k880:#0078ff;--k881:#0087ff;--k882:#0048ff;--k883:#0048ff;--k884:#0058ff;--k885:#0058ff;--k886:#0048ff;--k887:#0048ff;--k888:#0058ff;--k889:#0068ff;--k890:#0078ff;--k891:#0078ff;--k892:#0048ff;--k893:#0068ff;--k894:#0087ff;--k895:#00a7ff;--k896:#00d7ff;--k897:#00e7ff;--k898:#0048ff;--k899:#0078ff;--k900:#0087ff;--k901:#0048ff;--k902:#0048ff;--k903:#0048ff;--k904:#0048ff;--k905:#0058ff;--k906:#0048ff;--k907:#0048ff;--k908:#0058ff;--k909:#0058ff;--k910:#0048ff;--k911:#0058ff;--k912:#0068ff;--k913:#0048ff;--k914:#0048ff;--k915:#0048ff;--k916:#0048ff;--k917:#0048ff;--k918:#0048ff;--k919:#0048ff;--k920:#0048ff;--k921:#0048ff;--k922:#0058ff;--k923:#0058ff;--k924:#0048ff;--k925:#0058ff;--k926:#0078ff;--k927:#0087ff;--k928:#0048ff;--k929:#0048ff;--k930:#0048ff;--k931:#0048ff;--k932:#0048ff;--k933:#0048ff;--k934:#0048ff;--k935:#0068ff;--k936:#0097ff;--k937:#00d7ff;--k938:#00f7ff;--k939:#0048ff;--k940:#0058ff;--k941:#0078ff;--k942:#0097ff;--k943:#00b7ff;--k944:#0048ff;--k945:#0048ff;--k946:#0048ff;--k947:#0068ff;--k948:#0087ff;--k949:#0097ff;--k950:#0048ff;--k951:#0058ff;--k952:#0078ff;--k953:#0097ff;--k954:#00b7ff;--k955:#00c7ff;--k956:#0048ff;--k957:#0068ff;--k958:#0097ff;--k959:#00c7ff;--k960:#08fff7;--k961:#18ffe7;--k962:#0048ff;--k963:#0048ff;--k964:#0048ff;--k965:#0048ff;--k966:#0058ff"/><rect x="653" y="738.2" width="11.299999999999955" height="181.29999999999995" fill="url(#jg)" stroke="#222" stroke-width="0.6"/><line x1="653" y1="738.4" x2="654.6" y2="738.4" stroke="#222" stroke-width="0.6"/><line x1="662.6999999999999" y1="738.4" x2="664.3" y2="738.4" stroke="#222" stroke-width="0.6"/><text x="665.5" y="741.0" font-size="5.6" fill="#333">3.5</text><line x1="653" y1="759.25" x2="654.6" y2="759.25" stroke="#222" stroke-width="0.6"/><line x1="662.6999999999999" y1="759.25" x2="664.3" y2="759.25" stroke="#222" stroke-width="0.6"/><text x="665.5" y="761.85" font-size="5.6" fill="#333">3</text><line x1="653" y1="780.1" x2="654.6" y2="780.1" stroke="#222" stroke-width="0.6"/><line x1="662.6999999999999" y1="780.1" x2="664.3" y2="780.1" stroke="#222" stroke-width="0.6"/><text x="665.5" y="782.7" font-size="5.6" fill="#333">2.5</text><line x1="653" y1="800.9499999999999" x2="654.6" y2="800.9499999999999" stroke="#222" stroke-width="0.6"/><line x1="662.6999999999999" y1="800.9499999999999" x2="664.3" y2="800.9499999999999" stroke="#222" stroke-width="0.6"/><text x="665.5" y="803.55" font-size="5.6" fill="#333">2</text><line x1="653" y1="821.8" x2="654.6" y2="821.8" stroke="#222" stroke-width="0.6"/><line x1="662.6999999999999" y1="821.8" x2="664.3" y2="821.8" stroke="#222" stroke-width="0.6"/><text x="665.5" y="824.4" font-size="5.6" fill="#333">1.5</text><line x1="653" y1="842.65" x2="654.6" y2="842.65" stroke="#222" stroke-width="0.6"/><line x1="662.6999999999999" y1="842.65" x2="664.3" y2="842.65" stroke="#222" stroke-width="0.6"/><text x="665.5" y="845.25" font-size="5.6" fill="#333">1</text><line x1="653" y1="863.5" x2="654.6" y2="863.5" stroke="#222" stroke-width="0.6"/><line x1="662.6999999999999" y1="863.5" x2="664.3" y2="863.5" stroke="#222" stroke-width="0.6"/><text x="665.5" y="866.1" font-size="5.6" fill="#333">0.5</text><line x1="653" y1="884.35" x2="654.6" y2="884.35" stroke="#222" stroke-width="0.6"/><line x1="662.6999999999999" y1="884.35" x2="664.3" y2="884.35" stroke="#222" stroke-width="0.6"/><text x="665.5" y="886.95" font-size="5.6" fill="#333">0</text><line x1="653" y1="905.2" x2="654.6" y2="905.2" stroke="#222" stroke-width="0.6"/><line x1="662.6999999999999" y1="905.2" x2="664.3" y2="905.2" stroke="#222" stroke-width="0.6"/><text x="665.5" y="907.8000000000001" font-size="5.6" fill="#333">-0.5</text><text x="664" y="734.5" font-size="5.6" fill="#333">x 10<tspan font-size="4" dy="-2.8">-3</tspan></text><text x="658.8" y="928.7" font-size="6.5" font-weight="bold" text-anchor="middle" font-family="Liberation Serif, serif" fill="#222">(m)</text><text x="475.3" y="732.8" font-size="9.25" text-anchor="middle" fill="#222">Max. Displacement is : 0.0035134 m (t=80 sec)</text><text x="294.7" y="950" font-size="19" font-weight="bold" text-anchor="middle" font-family="Liberation Serif, serif" fill="#111">(d)</text></svg></body></html>
